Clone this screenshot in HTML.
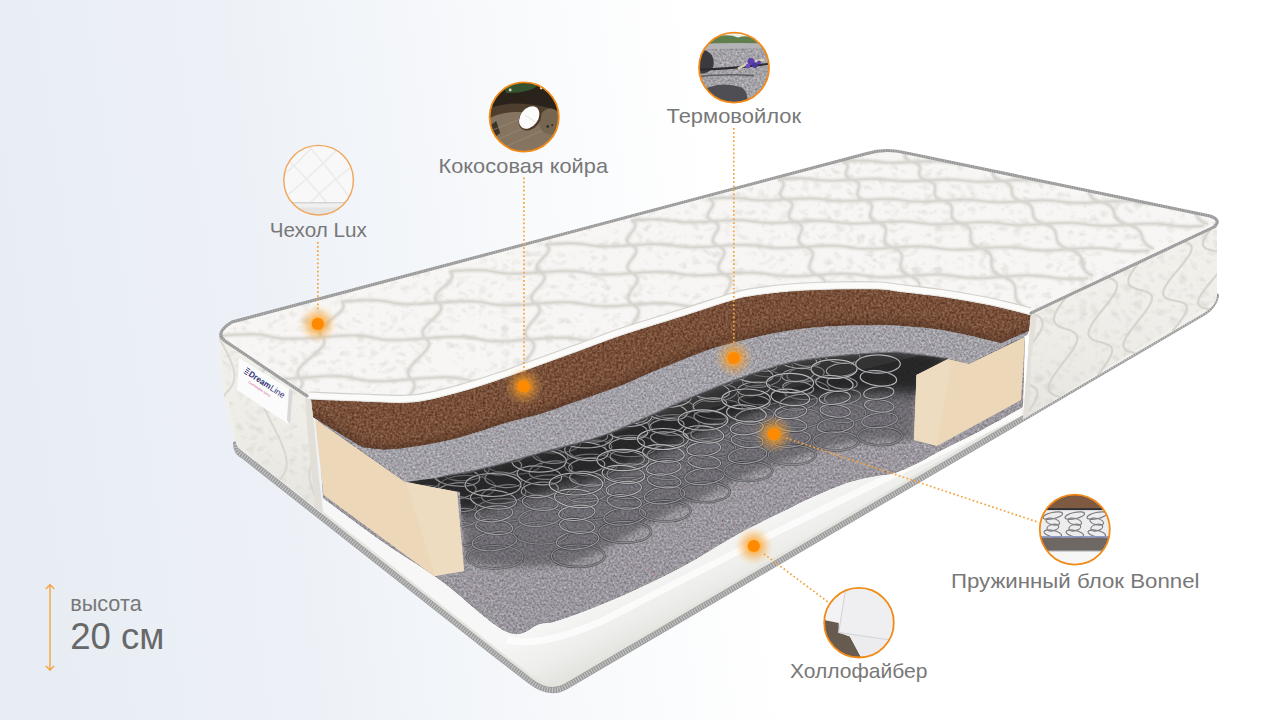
<!DOCTYPE html>
<html><head><meta charset="utf-8"><title>Матрас DreamLine</title>
<style>
html,body{margin:0;padding:0;width:1280px;height:720px;overflow:hidden;background:#fff;}
svg{display:block;font-family:"Liberation Sans",sans-serif;}
</style></head><body>
<svg width="1280" height="720" viewBox="0 0 1280 720">

<defs>
  <linearGradient id="bg" x1="0" y1="300" x2="720" y2="200" gradientUnits="userSpaceOnUse">
    <stop offset="0" stop-color="#e8edf4"/>
    <stop offset="0.35" stop-color="#edf1f7"/>
    <stop offset="0.7" stop-color="#f7f9fb"/>
    <stop offset="1" stop-color="#ffffff"/>
  </linearGradient>
  <radialGradient id="glow">
    <stop offset="0" stop-color="#ff9000" stop-opacity="1"/>
    <stop offset="0.3" stop-color="#ffa020" stop-opacity="0.72"/>
    <stop offset="0.6" stop-color="#f8a030" stop-opacity="0.35"/>
    <stop offset="0.85" stop-color="#ffb850" stop-opacity="0.1"/>
    <stop offset="1" stop-color="#ffc060" stop-opacity="0"/>
  </radialGradient>
  <linearGradient id="sprshade" gradientUnits="userSpaceOnUse" x1="689" y1="405" x2="714" y2="510">
    <stop offset="0" stop-color="#1e1e20" stop-opacity="0.95"/>
    <stop offset="0.45" stop-color="#2a2a2d" stop-opacity="0.75"/>
    <stop offset="1" stop-color="#3a3a3d" stop-opacity="0"/>
  </linearGradient>
  <linearGradient id="beigeL" x1="0" y1="0" x2="1" y2="1">
    <stop offset="0" stop-color="#f3e1c3"/>
    <stop offset="1" stop-color="#ead3ae"/>
  </linearGradient>
  <linearGradient id="whiteband" gradientUnits="userSpaceOnUse" x1="700" y1="540" x2="730" y2="600">
    <stop offset="0" stop-color="#f7f7f7"/>
    <stop offset="0.6" stop-color="#eeeeec"/>
    <stop offset="1" stop-color="#e2e2de"/>
  </linearGradient>
  <filter id="noiseBrown" x="0" y="0" width="100%" height="100%" color-interpolation-filters="sRGB">
    <feTurbulence type="fractalNoise" baseFrequency="0.42" numOctaves="3" seed="3" result="n"/>
    <feColorMatrix in="n" type="matrix" values="1 0 0 0 0  1 0 0 0 0  1 0 0 0 0  0 0 0 0 1" result="g"/>
    <feComposite in="SourceGraphic" in2="g" operator="arithmetic" k1="0" k2="1" k3="0.36" k4="-0.18" result="r"/>
    <feComposite in="r" in2="SourceGraphic" operator="in"/>
  </filter>
  <filter id="noiseFelt" x="0" y="0" width="100%" height="100%" color-interpolation-filters="sRGB">
    <feTurbulence type="fractalNoise" baseFrequency="0.45" numOctaves="3" seed="7" result="n"/>
    <feColorMatrix in="n" type="matrix" values="1 0 0 0 0  1 0 0 0 0  1 0 0 0 0  0 0 0 0 1" result="g"/>
    <feComposite in="SourceGraphic" in2="g" operator="arithmetic" k1="0" k2="1" k3="0.42" k4="-0.21" result="r"/>
    <feTurbulence type="fractalNoise" baseFrequency="0.35" numOctaves="2" seed="12" result="n2"/>
    <feColorMatrix in="n2" type="matrix" values="0 0 0 0 0.68  0 0 0 0 0.55  0 0 0 0 0.60  0 -8 0 0 2.6" result="pink"/>
    <feMerge result="m"><feMergeNode in="r"/><feMergeNode in="pink"/></feMerge>
    <feComposite in="m" in2="SourceGraphic" operator="in"/>
  </filter>
  <linearGradient id="panelshade" x1="0" y1="0" x2="0" y2="1">
    <stop offset="0" stop-color="#f6f5f2" stop-opacity="0"/>
    <stop offset="1" stop-color="#d8d6d0" stop-opacity="0.45"/>
  </linearGradient>
  <filter id="damask" x="0" y="0" width="100%" height="100%" color-interpolation-filters="sRGB">
    <feTurbulence type="turbulence" baseFrequency="0.09 0.12" numOctaves="2" seed="21" result="n"/>
    <feColorMatrix in="n" type="matrix" values="0 0 0 0 0.80  0 0 0 0 0.80  0 0 0 0 0.78  2.2 0 0 0 -0.55" result="c"/>
    <feComposite in="c" in2="SourceGraphic" operator="in"/>
  </filter>
</defs>

<rect width="1280" height="720" fill="url(#bg)"/>
<path d="M323.0,498.0 C332.5,505.0 360.5,526.3 380.0,540.0 C399.5,553.7 418.8,564.7 440.0,580.0 C461.2,595.3 490.3,624.7 507.0,632.0 C523.7,639.3 531.2,626.0 540.0,624.0 C548.8,622.0 547.2,624.3 560.0,620.0 C572.8,615.7 597.0,606.7 617.0,598.0 C637.0,589.3 659.5,578.8 680.0,568.0 C700.5,557.2 721.7,543.0 740.0,533.0 C758.3,523.0 777.5,514.2 790.0,508.0 C802.5,501.8 805.0,500.3 815.0,496.0 C825.0,491.7 839.7,485.3 850.0,482.0 C860.3,478.7 869.5,477.5 877.0,476.0 C884.5,474.5 887.8,475.3 895.0,473.0 C902.2,470.7 912.5,465.7 920.0,462.0 C927.5,458.3 930.0,456.2 940.0,451.0 C950.0,445.8 966.2,438.3 980.0,431.0 C993.8,423.7 1015.8,411.0 1023.0,407.0 L1024,418 L566,687 Q549.6,697 530,682 L492.5,653 L323.75,518 Z" fill="url(#whiteband)"/>
<clipPath id="wbclip"><path d="M323.0,498.0 C332.5,505.0 360.5,526.3 380.0,540.0 C399.5,553.7 418.8,564.7 440.0,580.0 C461.2,595.3 490.3,624.7 507.0,632.0 C523.7,639.3 531.2,626.0 540.0,624.0 C548.8,622.0 547.2,624.3 560.0,620.0 C572.8,615.7 597.0,606.7 617.0,598.0 C637.0,589.3 659.5,578.8 680.0,568.0 C700.5,557.2 721.7,543.0 740.0,533.0 C758.3,523.0 777.5,514.2 790.0,508.0 C802.5,501.8 805.0,500.3 815.0,496.0 C825.0,491.7 839.7,485.3 850.0,482.0 C860.3,478.7 869.5,477.5 877.0,476.0 C884.5,474.5 887.8,475.3 895.0,473.0 C902.2,470.7 912.5,465.7 920.0,462.0 C927.5,458.3 930.0,456.2 940.0,451.0 C950.0,445.8 966.2,438.3 980.0,431.0 C993.8,423.7 1015.8,411.0 1023.0,407.0 L1024,418 L566,687 Q549.6,697 530,682 L492.5,653 L323.75,518 Z"/></clipPath>
<g clip-path="url(#wbclip)"><path d="M236,447 Q236.5,455.5 243,458.5 L492.5,655 L530,684 Q549.6,699 566,689.3 L1204,315.5 Q1214,309 1216,299" transform="translate(0,-8)" fill="none" stroke="#e4e4df" stroke-width="3"/><path d="M507,640 Q540,648 600,622 L760,540 L1022,412" fill="none" stroke="#ffffff" stroke-width="7" opacity="0.7"/></g>
<path d="M323.0,498.0 C332.5,505.0 360.5,526.3 380.0,540.0 C399.5,553.7 418.8,564.7 440.0,580.0 C461.2,595.3 490.3,624.7 507.0,632.0 C523.7,639.3 531.2,626.0 540.0,624.0 C548.8,622.0 547.2,624.3 560.0,620.0 C572.8,615.7 597.0,606.7 617.0,598.0 C637.0,589.3 659.5,578.8 680.0,568.0 C700.5,557.2 721.7,543.0 740.0,533.0 C758.3,523.0 777.5,514.2 790.0,508.0 C802.5,501.8 805.0,500.3 815.0,496.0 C825.0,491.7 839.7,485.3 850.0,482.0 C860.3,478.7 869.5,477.5 877.0,476.0 C884.5,474.5 887.8,475.3 895.0,473.0 C902.2,470.7 912.5,465.7 920.0,462.0 C927.5,458.3 930.0,456.2 940.0,451.0 C950.0,445.8 966.2,438.3 980.0,431.0 C993.8,423.7 1015.8,411.0 1023.0,407.0 L1025,337 L913,357 L465,470 L318,420 Z" fill="#9a979e" filter="url(#noiseFelt)"/>
<path d="M236,447 Q236.5,455.5 243,458.5 L492.5,655 L530,684 Q549.6,699 566,689.3 L1204,315.5 Q1214,309 1216,299" transform="translate(0,-3)" fill="none" stroke="#9a9a9a" stroke-width="6" stroke-linecap="round" stroke-linejoin="round"/>
<path d="M236,447 Q236.5,455.5 243,458.5 L492.5,655 L530,684 Q549.6,699 566,689.3 L1204,315.5 Q1214,309 1216,299" transform="translate(0,-3)" fill="none" stroke="#d9d9d9" stroke-width="5" stroke-dasharray="1.1 1.5" opacity="0.7"/>
<filter id="blur3" x="-10%" y="-10%" width="120%" height="120%"><feGaussianBlur stdDeviation="3"/></filter>
<filter id="blur6" x="-10%" y="-10%" width="120%" height="120%"><feGaussianBlur stdDeviation="6"/></filter>
<clipPath id="sprclipA"><path d="M405,482 L442,477 C449.5,475.5 469.8,472.2 487.0,468.0 C504.2,463.8 526.2,457.2 545.0,452.0 C563.8,446.8 582.5,443.0 600.0,437.0 C617.5,431.0 633.3,423.2 650.0,416.0 C666.7,408.8 683.3,400.8 700.0,394.0 C716.7,387.2 735.0,380.2 750.0,375.0 C765.0,369.8 776.7,366.0 790.0,363.0 C803.3,360.0 817.5,358.5 830.0,357.0 C842.5,355.5 853.3,354.7 865.0,354.0 C876.7,353.3 886.2,352.2 900.0,353.0 C913.8,353.8 940.0,358.0 948.0,359.0 L916.5,375 L914,440 L820,490 L740,533 L680,568 L617,598 L560,620 L502,632 L466,600 L460,492 Z"/></clipPath>
<g clip-path="url(#sprclipA)"><path d="M405,482 L442,477 C449.5,475.5 469.8,472.2 487.0,468.0 C504.2,463.8 526.2,457.2 545.0,452.0 C563.8,446.8 582.5,443.0 600.0,437.0 C617.5,431.0 633.3,423.2 650.0,416.0 C666.7,408.8 683.3,400.8 700.0,394.0 C716.7,387.2 735.0,380.2 750.0,375.0 C765.0,369.8 776.7,366.0 790.0,363.0 C803.3,360.0 817.5,358.5 830.0,357.0 C842.5,355.5 853.3,354.7 865.0,354.0 C876.7,353.3 886.2,352.2 900.0,353.0 C913.8,353.8 940.0,358.0 948.0,359.0 L916.5,375 L914,440 C908.3,440.0 893.0,439.2 880.0,440.0 C867.0,440.8 850.7,441.8 836.0,445.0 C821.3,448.2 806.7,454.0 792.0,459.0 C777.3,464.0 762.5,468.8 748.0,475.0 C733.5,481.2 718.8,489.3 705.0,496.0 C691.2,502.7 678.3,508.2 665.0,515.0 C651.7,521.8 639.5,529.3 625.0,537.0 C610.5,544.7 592.2,556.2 578.0,561.0 C563.8,565.8 554.0,565.2 540.0,566.0 C526.0,566.8 506.3,567.0 494.0,566.0 C481.7,565.0 470.7,561.0 466.0,560.0 L460,492 Z" fill="#2e2e31" opacity="0.4" filter="url(#blur3)"/>
<path d="M405,470 L442,465 C449.5,467.5 469.8,464.2 487.0,460.0 C504.2,455.8 526.2,449.2 545.0,444.0 C563.8,438.8 582.5,435.0 600.0,429.0 C617.5,423.0 633.3,415.2 650.0,408.0 C666.7,400.8 683.3,392.8 700.0,386.0 C716.7,379.2 735.0,372.2 750.0,367.0 C765.0,361.8 776.7,358.0 790.0,355.0 C803.3,352.0 817.5,350.5 830.0,349.0 C842.5,347.5 853.3,346.7 865.0,346.0 C876.7,345.3 886.2,344.2 900.0,345.0 C913.8,345.8 940.0,350.0 948.0,351.0 L948.0,399.0 C940.0,398.0 913.8,393.8 900.0,393.0 C886.2,392.2 876.7,393.3 865.0,394.0 C853.3,394.7 842.5,395.5 830.0,397.0 C817.5,398.5 803.3,400.0 790.0,403.0 C776.7,406.0 765.0,409.8 750.0,415.0 C735.0,420.2 716.7,427.2 700.0,434.0 C683.3,440.8 666.7,448.8 650.0,456.0 C633.3,463.2 617.5,471.0 600.0,477.0 C582.5,483.0 563.8,486.8 545.0,492.0 C526.2,497.2 504.2,503.8 487.0,508.0 C469.8,512.2 455.7,514.7 442.0,517.0 C428.3,519.3 411.2,521.2 405.0,522.0 Z" fill="#141416" opacity="0.8" filter="url(#blur6)"/></g>
<clipPath id="sprclip"><path d="M405,482 L442,477 C449.5,475.5 469.8,472.2 487.0,468.0 C504.2,463.8 526.2,457.2 545.0,452.0 C563.8,446.8 582.5,443.0 600.0,437.0 C617.5,431.0 633.3,423.2 650.0,416.0 C666.7,408.8 683.3,400.8 700.0,394.0 C716.7,387.2 735.0,380.2 750.0,375.0 C765.0,369.8 776.7,366.0 790.0,363.0 C803.3,360.0 817.5,358.5 830.0,357.0 C842.5,355.5 853.3,354.7 865.0,354.0 C876.7,353.3 886.2,352.2 900.0,353.0 C913.8,353.8 940.0,358.0 948.0,359.0 L916.5,375 L914,440 L820,490 L740,533 L680,568 L617,598 L560,620 L502,632 L466,600 L460,492 Z"/></clipPath>
<g clip-path="url(#sprclip)">
<g opacity="0.45"><ellipse cx="384.0" cy="488.0" rx="29.6" ry="12.2" transform="rotate(0 384.0 488.0)" fill="none" stroke="#2a2a2d" stroke-width="2.5" opacity="0.55"/><ellipse cx="384.0" cy="488.0" rx="29.6" ry="12.2" transform="rotate(0 384.0 488.0)" fill="none" stroke="#8a8a8e" stroke-width="1.2"/><ellipse cx="383.6" cy="472.2" rx="23.7" ry="9.7" transform="rotate(-7 383.6 472.2)" fill="none" stroke="#2a2a2d" stroke-width="2.5" opacity="0.55"/><ellipse cx="383.6" cy="472.2" rx="23.7" ry="9.7" transform="rotate(-7 383.6 472.2)" fill="none" stroke="#9a9a9e" stroke-width="1.2"/><ellipse cx="383.2" cy="457.8" rx="19.6" ry="8.0" transform="rotate(6 383.2 457.8)" fill="none" stroke="#2a2a2d" stroke-width="2.5" opacity="0.55"/><ellipse cx="383.2" cy="457.8" rx="19.6" ry="8.0" transform="rotate(6 383.2 457.8)" fill="none" stroke="#a6a6aa" stroke-width="1.2"/><ellipse cx="382.8" cy="444.8" rx="20.2" ry="8.3" transform="rotate(-6 382.8 444.8)" fill="none" stroke="#2a2a2d" stroke-width="2.5" opacity="0.55"/><ellipse cx="382.8" cy="444.8" rx="20.2" ry="8.3" transform="rotate(-6 382.8 444.8)" fill="none" stroke="#aeaeb0" stroke-width="1.2"/><ellipse cx="382.4" cy="430.4" rx="24.3" ry="10.0" transform="rotate(6 382.4 430.4)" fill="none" stroke="#2a2a2d" stroke-width="2.5" opacity="0.55"/><ellipse cx="382.4" cy="430.4" rx="24.3" ry="10.0" transform="rotate(6 382.4 430.4)" fill="none" stroke="#b4b4b6" stroke-width="1.2"/><ellipse cx="382.0" cy="416.0" rx="29.6" ry="12.2" transform="rotate(0 382.0 416.0)" fill="none" stroke="#2a2a2d" stroke-width="2.5" opacity="0.55"/><ellipse cx="382.0" cy="416.0" rx="29.6" ry="12.2" transform="rotate(0 382.0 416.0)" fill="none" stroke="#b8b8ba" stroke-width="1.2"/></g>
<g opacity="0.45"><ellipse cx="430.0" cy="464.0" rx="29.0" ry="11.9" transform="rotate(0 430.0 464.0)" fill="none" stroke="#2a2a2d" stroke-width="2.5" opacity="0.55"/><ellipse cx="430.0" cy="464.0" rx="29.0" ry="11.9" transform="rotate(0 430.0 464.0)" fill="none" stroke="#8a8a8e" stroke-width="1.2"/><ellipse cx="429.6" cy="448.2" rx="23.2" ry="9.5" transform="rotate(-7 429.6 448.2)" fill="none" stroke="#2a2a2d" stroke-width="2.5" opacity="0.55"/><ellipse cx="429.6" cy="448.2" rx="23.2" ry="9.5" transform="rotate(-7 429.6 448.2)" fill="none" stroke="#9a9a9e" stroke-width="1.2"/><ellipse cx="429.2" cy="433.8" rx="19.1" ry="7.8" transform="rotate(6 429.2 433.8)" fill="none" stroke="#2a2a2d" stroke-width="2.5" opacity="0.55"/><ellipse cx="429.2" cy="433.8" rx="19.1" ry="7.8" transform="rotate(6 429.2 433.8)" fill="none" stroke="#a6a6aa" stroke-width="1.2"/><ellipse cx="428.8" cy="420.8" rx="19.7" ry="8.1" transform="rotate(-6 428.8 420.8)" fill="none" stroke="#2a2a2d" stroke-width="2.5" opacity="0.55"/><ellipse cx="428.8" cy="420.8" rx="19.7" ry="8.1" transform="rotate(-6 428.8 420.8)" fill="none" stroke="#aeaeb0" stroke-width="1.2"/><ellipse cx="428.4" cy="406.4" rx="23.7" ry="9.8" transform="rotate(6 428.4 406.4)" fill="none" stroke="#2a2a2d" stroke-width="2.5" opacity="0.55"/><ellipse cx="428.4" cy="406.4" rx="23.7" ry="9.8" transform="rotate(6 428.4 406.4)" fill="none" stroke="#b4b4b6" stroke-width="1.2"/><ellipse cx="428.0" cy="392.0" rx="29.0" ry="11.9" transform="rotate(0 428.0 392.0)" fill="none" stroke="#2a2a2d" stroke-width="2.5" opacity="0.55"/><ellipse cx="428.0" cy="392.0" rx="29.0" ry="11.9" transform="rotate(0 428.0 392.0)" fill="none" stroke="#b8b8ba" stroke-width="1.2"/></g>
<g opacity="0.45"><ellipse cx="477.0" cy="440.0" rx="28.3" ry="11.6" transform="rotate(0 477.0 440.0)" fill="none" stroke="#2a2a2d" stroke-width="2.5" opacity="0.55"/><ellipse cx="477.0" cy="440.0" rx="28.3" ry="11.6" transform="rotate(0 477.0 440.0)" fill="none" stroke="#8a8a8e" stroke-width="1.2"/><ellipse cx="476.6" cy="424.2" rx="22.6" ry="9.3" transform="rotate(-7 476.6 424.2)" fill="none" stroke="#2a2a2d" stroke-width="2.5" opacity="0.55"/><ellipse cx="476.6" cy="424.2" rx="22.6" ry="9.3" transform="rotate(-7 476.6 424.2)" fill="none" stroke="#9a9a9e" stroke-width="1.2"/><ellipse cx="476.2" cy="409.8" rx="18.7" ry="7.7" transform="rotate(6 476.2 409.8)" fill="none" stroke="#2a2a2d" stroke-width="2.5" opacity="0.55"/><ellipse cx="476.2" cy="409.8" rx="18.7" ry="7.7" transform="rotate(6 476.2 409.8)" fill="none" stroke="#a6a6aa" stroke-width="1.2"/><ellipse cx="475.8" cy="396.8" rx="19.2" ry="7.9" transform="rotate(-6 475.8 396.8)" fill="none" stroke="#2a2a2d" stroke-width="2.5" opacity="0.55"/><ellipse cx="475.8" cy="396.8" rx="19.2" ry="7.9" transform="rotate(-6 475.8 396.8)" fill="none" stroke="#aeaeb0" stroke-width="1.2"/><ellipse cx="475.4" cy="382.4" rx="23.2" ry="9.5" transform="rotate(6 475.4 382.4)" fill="none" stroke="#2a2a2d" stroke-width="2.5" opacity="0.55"/><ellipse cx="475.4" cy="382.4" rx="23.2" ry="9.5" transform="rotate(6 475.4 382.4)" fill="none" stroke="#b4b4b6" stroke-width="1.2"/><ellipse cx="475.0" cy="368.0" rx="28.3" ry="11.6" transform="rotate(0 475.0 368.0)" fill="none" stroke="#2a2a2d" stroke-width="2.5" opacity="0.55"/><ellipse cx="475.0" cy="368.0" rx="28.3" ry="11.6" transform="rotate(0 475.0 368.0)" fill="none" stroke="#b8b8ba" stroke-width="1.2"/></g>
<g opacity="0.45"><ellipse cx="517.0" cy="419.0" rx="27.7" ry="11.4" transform="rotate(0 517.0 419.0)" fill="none" stroke="#2a2a2d" stroke-width="2.5" opacity="0.55"/><ellipse cx="517.0" cy="419.0" rx="27.7" ry="11.4" transform="rotate(0 517.0 419.0)" fill="none" stroke="#8a8a8e" stroke-width="1.2"/><ellipse cx="516.6" cy="403.2" rx="22.1" ry="9.1" transform="rotate(-7 516.6 403.2)" fill="none" stroke="#2a2a2d" stroke-width="2.5" opacity="0.55"/><ellipse cx="516.6" cy="403.2" rx="22.1" ry="9.1" transform="rotate(-7 516.6 403.2)" fill="none" stroke="#9a9a9e" stroke-width="1.2"/><ellipse cx="516.2" cy="388.8" rx="18.3" ry="7.5" transform="rotate(6 516.2 388.8)" fill="none" stroke="#2a2a2d" stroke-width="2.5" opacity="0.55"/><ellipse cx="516.2" cy="388.8" rx="18.3" ry="7.5" transform="rotate(6 516.2 388.8)" fill="none" stroke="#a6a6aa" stroke-width="1.2"/><ellipse cx="515.8" cy="375.8" rx="18.8" ry="7.7" transform="rotate(-6 515.8 375.8)" fill="none" stroke="#2a2a2d" stroke-width="2.5" opacity="0.55"/><ellipse cx="515.8" cy="375.8" rx="18.8" ry="7.7" transform="rotate(-6 515.8 375.8)" fill="none" stroke="#aeaeb0" stroke-width="1.2"/><ellipse cx="515.4" cy="361.4" rx="22.7" ry="9.3" transform="rotate(6 515.4 361.4)" fill="none" stroke="#2a2a2d" stroke-width="2.5" opacity="0.55"/><ellipse cx="515.4" cy="361.4" rx="22.7" ry="9.3" transform="rotate(6 515.4 361.4)" fill="none" stroke="#b4b4b6" stroke-width="1.2"/><ellipse cx="515.0" cy="347.0" rx="27.7" ry="11.4" transform="rotate(0 515.0 347.0)" fill="none" stroke="#2a2a2d" stroke-width="2.5" opacity="0.55"/><ellipse cx="515.0" cy="347.0" rx="27.7" ry="11.4" transform="rotate(0 515.0 347.0)" fill="none" stroke="#b8b8ba" stroke-width="1.2"/></g>
<g opacity="0.45"><ellipse cx="557.0" cy="400.0" rx="27.1" ry="11.1" transform="rotate(0 557.0 400.0)" fill="none" stroke="#2a2a2d" stroke-width="2.5" opacity="0.55"/><ellipse cx="557.0" cy="400.0" rx="27.1" ry="11.1" transform="rotate(0 557.0 400.0)" fill="none" stroke="#8a8a8e" stroke-width="1.2"/><ellipse cx="556.6" cy="384.2" rx="21.7" ry="8.9" transform="rotate(-7 556.6 384.2)" fill="none" stroke="#2a2a2d" stroke-width="2.5" opacity="0.55"/><ellipse cx="556.6" cy="384.2" rx="21.7" ry="8.9" transform="rotate(-7 556.6 384.2)" fill="none" stroke="#9a9a9e" stroke-width="1.2"/><ellipse cx="556.2" cy="369.8" rx="17.9" ry="7.3" transform="rotate(6 556.2 369.8)" fill="none" stroke="#2a2a2d" stroke-width="2.5" opacity="0.55"/><ellipse cx="556.2" cy="369.8" rx="17.9" ry="7.3" transform="rotate(6 556.2 369.8)" fill="none" stroke="#a6a6aa" stroke-width="1.2"/><ellipse cx="555.8" cy="356.8" rx="18.4" ry="7.6" transform="rotate(-6 555.8 356.8)" fill="none" stroke="#2a2a2d" stroke-width="2.5" opacity="0.55"/><ellipse cx="555.8" cy="356.8" rx="18.4" ry="7.6" transform="rotate(-6 555.8 356.8)" fill="none" stroke="#aeaeb0" stroke-width="1.2"/><ellipse cx="555.4" cy="342.4" rx="22.2" ry="9.1" transform="rotate(6 555.4 342.4)" fill="none" stroke="#2a2a2d" stroke-width="2.5" opacity="0.55"/><ellipse cx="555.4" cy="342.4" rx="22.2" ry="9.1" transform="rotate(6 555.4 342.4)" fill="none" stroke="#b4b4b6" stroke-width="1.2"/><ellipse cx="555.0" cy="328.0" rx="27.1" ry="11.1" transform="rotate(0 555.0 328.0)" fill="none" stroke="#2a2a2d" stroke-width="2.5" opacity="0.55"/><ellipse cx="555.0" cy="328.0" rx="27.1" ry="11.1" transform="rotate(0 555.0 328.0)" fill="none" stroke="#b8b8ba" stroke-width="1.2"/></g>
<g opacity="0.45"><ellipse cx="600.0" cy="379.0" rx="26.5" ry="10.9" transform="rotate(0 600.0 379.0)" fill="none" stroke="#2a2a2d" stroke-width="2.5" opacity="0.55"/><ellipse cx="600.0" cy="379.0" rx="26.5" ry="10.9" transform="rotate(0 600.0 379.0)" fill="none" stroke="#8a8a8e" stroke-width="1.2"/><ellipse cx="599.6" cy="363.2" rx="21.2" ry="8.7" transform="rotate(-7 599.6 363.2)" fill="none" stroke="#2a2a2d" stroke-width="2.5" opacity="0.55"/><ellipse cx="599.6" cy="363.2" rx="21.2" ry="8.7" transform="rotate(-7 599.6 363.2)" fill="none" stroke="#9a9a9e" stroke-width="1.2"/><ellipse cx="599.2" cy="348.8" rx="17.5" ry="7.2" transform="rotate(6 599.2 348.8)" fill="none" stroke="#2a2a2d" stroke-width="2.5" opacity="0.55"/><ellipse cx="599.2" cy="348.8" rx="17.5" ry="7.2" transform="rotate(6 599.2 348.8)" fill="none" stroke="#a6a6aa" stroke-width="1.2"/><ellipse cx="598.8" cy="335.8" rx="18.0" ry="7.4" transform="rotate(-6 598.8 335.8)" fill="none" stroke="#2a2a2d" stroke-width="2.5" opacity="0.55"/><ellipse cx="598.8" cy="335.8" rx="18.0" ry="7.4" transform="rotate(-6 598.8 335.8)" fill="none" stroke="#aeaeb0" stroke-width="1.2"/><ellipse cx="598.4" cy="321.4" rx="21.7" ry="8.9" transform="rotate(6 598.4 321.4)" fill="none" stroke="#2a2a2d" stroke-width="2.5" opacity="0.55"/><ellipse cx="598.4" cy="321.4" rx="21.7" ry="8.9" transform="rotate(6 598.4 321.4)" fill="none" stroke="#b4b4b6" stroke-width="1.2"/><ellipse cx="598.0" cy="307.0" rx="26.5" ry="10.9" transform="rotate(0 598.0 307.0)" fill="none" stroke="#2a2a2d" stroke-width="2.5" opacity="0.55"/><ellipse cx="598.0" cy="307.0" rx="26.5" ry="10.9" transform="rotate(0 598.0 307.0)" fill="none" stroke="#b8b8ba" stroke-width="1.2"/></g>
<g opacity="0.45"><ellipse cx="644.0" cy="363.0" rx="25.8" ry="10.6" transform="rotate(0 644.0 363.0)" fill="none" stroke="#2a2a2d" stroke-width="2.5" opacity="0.55"/><ellipse cx="644.0" cy="363.0" rx="25.8" ry="10.6" transform="rotate(0 644.0 363.0)" fill="none" stroke="#8a8a8e" stroke-width="1.2"/><ellipse cx="643.6" cy="347.2" rx="20.6" ry="8.5" transform="rotate(-7 643.6 347.2)" fill="none" stroke="#2a2a2d" stroke-width="2.5" opacity="0.55"/><ellipse cx="643.6" cy="347.2" rx="20.6" ry="8.5" transform="rotate(-7 643.6 347.2)" fill="none" stroke="#9a9a9e" stroke-width="1.2"/><ellipse cx="643.2" cy="332.8" rx="17.0" ry="7.0" transform="rotate(6 643.2 332.8)" fill="none" stroke="#2a2a2d" stroke-width="2.5" opacity="0.55"/><ellipse cx="643.2" cy="332.8" rx="17.0" ry="7.0" transform="rotate(6 643.2 332.8)" fill="none" stroke="#a6a6aa" stroke-width="1.2"/><ellipse cx="642.8" cy="319.8" rx="17.5" ry="7.2" transform="rotate(-6 642.8 319.8)" fill="none" stroke="#2a2a2d" stroke-width="2.5" opacity="0.55"/><ellipse cx="642.8" cy="319.8" rx="17.5" ry="7.2" transform="rotate(-6 642.8 319.8)" fill="none" stroke="#aeaeb0" stroke-width="1.2"/><ellipse cx="642.4" cy="305.4" rx="21.2" ry="8.7" transform="rotate(6 642.4 305.4)" fill="none" stroke="#2a2a2d" stroke-width="2.5" opacity="0.55"/><ellipse cx="642.4" cy="305.4" rx="21.2" ry="8.7" transform="rotate(6 642.4 305.4)" fill="none" stroke="#b4b4b6" stroke-width="1.2"/><ellipse cx="642.0" cy="291.0" rx="25.8" ry="10.6" transform="rotate(0 642.0 291.0)" fill="none" stroke="#2a2a2d" stroke-width="2.5" opacity="0.55"/><ellipse cx="642.0" cy="291.0" rx="25.8" ry="10.6" transform="rotate(0 642.0 291.0)" fill="none" stroke="#b8b8ba" stroke-width="1.2"/></g>
<g opacity="0.45"><ellipse cx="688.0" cy="349.0" rx="25.2" ry="10.3" transform="rotate(0 688.0 349.0)" fill="none" stroke="#2a2a2d" stroke-width="2.5" opacity="0.55"/><ellipse cx="688.0" cy="349.0" rx="25.2" ry="10.3" transform="rotate(0 688.0 349.0)" fill="none" stroke="#8a8a8e" stroke-width="1.2"/><ellipse cx="687.6" cy="333.2" rx="20.1" ry="8.3" transform="rotate(-7 687.6 333.2)" fill="none" stroke="#2a2a2d" stroke-width="2.5" opacity="0.55"/><ellipse cx="687.6" cy="333.2" rx="20.1" ry="8.3" transform="rotate(-7 687.6 333.2)" fill="none" stroke="#9a9a9e" stroke-width="1.2"/><ellipse cx="687.2" cy="318.8" rx="16.6" ry="6.8" transform="rotate(6 687.2 318.8)" fill="none" stroke="#2a2a2d" stroke-width="2.5" opacity="0.55"/><ellipse cx="687.2" cy="318.8" rx="16.6" ry="6.8" transform="rotate(6 687.2 318.8)" fill="none" stroke="#a6a6aa" stroke-width="1.2"/><ellipse cx="686.8" cy="305.8" rx="17.1" ry="7.0" transform="rotate(-6 686.8 305.8)" fill="none" stroke="#2a2a2d" stroke-width="2.5" opacity="0.55"/><ellipse cx="686.8" cy="305.8" rx="17.1" ry="7.0" transform="rotate(-6 686.8 305.8)" fill="none" stroke="#aeaeb0" stroke-width="1.2"/><ellipse cx="686.4" cy="291.4" rx="20.6" ry="8.5" transform="rotate(6 686.4 291.4)" fill="none" stroke="#2a2a2d" stroke-width="2.5" opacity="0.55"/><ellipse cx="686.4" cy="291.4" rx="20.6" ry="8.5" transform="rotate(6 686.4 291.4)" fill="none" stroke="#b4b4b6" stroke-width="1.2"/><ellipse cx="686.0" cy="277.0" rx="25.2" ry="10.3" transform="rotate(0 686.0 277.0)" fill="none" stroke="#2a2a2d" stroke-width="2.5" opacity="0.55"/><ellipse cx="686.0" cy="277.0" rx="25.2" ry="10.3" transform="rotate(0 686.0 277.0)" fill="none" stroke="#b8b8ba" stroke-width="1.2"/></g>
<g opacity="0.45"><ellipse cx="732.0" cy="344.0" rx="24.5" ry="10.1" transform="rotate(0 732.0 344.0)" fill="none" stroke="#2a2a2d" stroke-width="2.5" opacity="0.55"/><ellipse cx="732.0" cy="344.0" rx="24.5" ry="10.1" transform="rotate(0 732.0 344.0)" fill="none" stroke="#8a8a8e" stroke-width="1.2"/><ellipse cx="731.6" cy="328.2" rx="19.6" ry="8.1" transform="rotate(-7 731.6 328.2)" fill="none" stroke="#2a2a2d" stroke-width="2.5" opacity="0.55"/><ellipse cx="731.6" cy="328.2" rx="19.6" ry="8.1" transform="rotate(-7 731.6 328.2)" fill="none" stroke="#9a9a9e" stroke-width="1.2"/><ellipse cx="731.2" cy="313.8" rx="16.2" ry="6.6" transform="rotate(6 731.2 313.8)" fill="none" stroke="#2a2a2d" stroke-width="2.5" opacity="0.55"/><ellipse cx="731.2" cy="313.8" rx="16.2" ry="6.6" transform="rotate(6 731.2 313.8)" fill="none" stroke="#a6a6aa" stroke-width="1.2"/><ellipse cx="730.8" cy="300.8" rx="16.7" ry="6.8" transform="rotate(-6 730.8 300.8)" fill="none" stroke="#2a2a2d" stroke-width="2.5" opacity="0.55"/><ellipse cx="730.8" cy="300.8" rx="16.7" ry="6.8" transform="rotate(-6 730.8 300.8)" fill="none" stroke="#aeaeb0" stroke-width="1.2"/><ellipse cx="730.4" cy="286.4" rx="20.1" ry="8.3" transform="rotate(6 730.4 286.4)" fill="none" stroke="#2a2a2d" stroke-width="2.5" opacity="0.55"/><ellipse cx="730.4" cy="286.4" rx="20.1" ry="8.3" transform="rotate(6 730.4 286.4)" fill="none" stroke="#b4b4b6" stroke-width="1.2"/><ellipse cx="730.0" cy="272.0" rx="24.5" ry="10.1" transform="rotate(0 730.0 272.0)" fill="none" stroke="#2a2a2d" stroke-width="2.5" opacity="0.55"/><ellipse cx="730.0" cy="272.0" rx="24.5" ry="10.1" transform="rotate(0 730.0 272.0)" fill="none" stroke="#b8b8ba" stroke-width="1.2"/></g>
<g opacity="0.55"><ellipse cx="421.0" cy="511.0" rx="29.1" ry="11.9" transform="rotate(0 421.0 511.0)" fill="none" stroke="#2a2a2d" stroke-width="2.5" opacity="0.55"/><ellipse cx="421.0" cy="511.0" rx="29.1" ry="11.9" transform="rotate(0 421.0 511.0)" fill="none" stroke="#8a8a8e" stroke-width="1.2"/><ellipse cx="420.6" cy="495.2" rx="23.3" ry="9.6" transform="rotate(-7 420.6 495.2)" fill="none" stroke="#2a2a2d" stroke-width="2.5" opacity="0.55"/><ellipse cx="420.6" cy="495.2" rx="23.3" ry="9.6" transform="rotate(-7 420.6 495.2)" fill="none" stroke="#9a9a9e" stroke-width="1.2"/><ellipse cx="420.2" cy="480.8" rx="19.2" ry="7.9" transform="rotate(6 420.2 480.8)" fill="none" stroke="#2a2a2d" stroke-width="2.5" opacity="0.55"/><ellipse cx="420.2" cy="480.8" rx="19.2" ry="7.9" transform="rotate(6 420.2 480.8)" fill="none" stroke="#a6a6aa" stroke-width="1.2"/><ellipse cx="419.8" cy="467.8" rx="19.8" ry="8.1" transform="rotate(-6 419.8 467.8)" fill="none" stroke="#2a2a2d" stroke-width="2.5" opacity="0.55"/><ellipse cx="419.8" cy="467.8" rx="19.8" ry="8.1" transform="rotate(-6 419.8 467.8)" fill="none" stroke="#aeaeb0" stroke-width="1.2"/><ellipse cx="419.4" cy="453.4" rx="23.9" ry="9.8" transform="rotate(6 419.4 453.4)" fill="none" stroke="#2a2a2d" stroke-width="2.5" opacity="0.55"/><ellipse cx="419.4" cy="453.4" rx="23.9" ry="9.8" transform="rotate(6 419.4 453.4)" fill="none" stroke="#b4b4b6" stroke-width="1.2"/><ellipse cx="419.0" cy="439.0" rx="29.1" ry="11.9" transform="rotate(0 419.0 439.0)" fill="none" stroke="#2a2a2d" stroke-width="2.5" opacity="0.55"/><ellipse cx="419.0" cy="439.0" rx="29.1" ry="11.9" transform="rotate(0 419.0 439.0)" fill="none" stroke="#b8b8ba" stroke-width="1.2"/></g>
<g opacity="0.55"><ellipse cx="467.0" cy="487.0" rx="28.4" ry="11.7" transform="rotate(0 467.0 487.0)" fill="none" stroke="#2a2a2d" stroke-width="2.5" opacity="0.55"/><ellipse cx="467.0" cy="487.0" rx="28.4" ry="11.7" transform="rotate(0 467.0 487.0)" fill="none" stroke="#8a8a8e" stroke-width="1.2"/><ellipse cx="466.6" cy="471.2" rx="22.7" ry="9.3" transform="rotate(-7 466.6 471.2)" fill="none" stroke="#2a2a2d" stroke-width="2.5" opacity="0.55"/><ellipse cx="466.6" cy="471.2" rx="22.7" ry="9.3" transform="rotate(-7 466.6 471.2)" fill="none" stroke="#9a9a9e" stroke-width="1.2"/><ellipse cx="466.2" cy="456.8" rx="18.8" ry="7.7" transform="rotate(6 466.2 456.8)" fill="none" stroke="#2a2a2d" stroke-width="2.5" opacity="0.55"/><ellipse cx="466.2" cy="456.8" rx="18.8" ry="7.7" transform="rotate(6 466.2 456.8)" fill="none" stroke="#a6a6aa" stroke-width="1.2"/><ellipse cx="465.8" cy="443.8" rx="19.3" ry="7.9" transform="rotate(-6 465.8 443.8)" fill="none" stroke="#2a2a2d" stroke-width="2.5" opacity="0.55"/><ellipse cx="465.8" cy="443.8" rx="19.3" ry="7.9" transform="rotate(-6 465.8 443.8)" fill="none" stroke="#aeaeb0" stroke-width="1.2"/><ellipse cx="465.4" cy="429.4" rx="23.3" ry="9.6" transform="rotate(6 465.4 429.4)" fill="none" stroke="#2a2a2d" stroke-width="2.5" opacity="0.55"/><ellipse cx="465.4" cy="429.4" rx="23.3" ry="9.6" transform="rotate(6 465.4 429.4)" fill="none" stroke="#b4b4b6" stroke-width="1.2"/><ellipse cx="465.0" cy="415.0" rx="28.4" ry="11.7" transform="rotate(0 465.0 415.0)" fill="none" stroke="#2a2a2d" stroke-width="2.5" opacity="0.55"/><ellipse cx="465.0" cy="415.0" rx="28.4" ry="11.7" transform="rotate(0 465.0 415.0)" fill="none" stroke="#b8b8ba" stroke-width="1.2"/></g>
<g opacity="0.55"><ellipse cx="514.0" cy="463.0" rx="27.7" ry="11.4" transform="rotate(0 514.0 463.0)" fill="none" stroke="#2a2a2d" stroke-width="2.5" opacity="0.55"/><ellipse cx="514.0" cy="463.0" rx="27.7" ry="11.4" transform="rotate(0 514.0 463.0)" fill="none" stroke="#8a8a8e" stroke-width="1.2"/><ellipse cx="513.6" cy="447.2" rx="22.2" ry="9.1" transform="rotate(-7 513.6 447.2)" fill="none" stroke="#2a2a2d" stroke-width="2.5" opacity="0.55"/><ellipse cx="513.6" cy="447.2" rx="22.2" ry="9.1" transform="rotate(-7 513.6 447.2)" fill="none" stroke="#9a9a9e" stroke-width="1.2"/><ellipse cx="513.2" cy="432.8" rx="18.3" ry="7.5" transform="rotate(6 513.2 432.8)" fill="none" stroke="#2a2a2d" stroke-width="2.5" opacity="0.55"/><ellipse cx="513.2" cy="432.8" rx="18.3" ry="7.5" transform="rotate(6 513.2 432.8)" fill="none" stroke="#a6a6aa" stroke-width="1.2"/><ellipse cx="512.8" cy="419.8" rx="18.8" ry="7.7" transform="rotate(-6 512.8 419.8)" fill="none" stroke="#2a2a2d" stroke-width="2.5" opacity="0.55"/><ellipse cx="512.8" cy="419.8" rx="18.8" ry="7.7" transform="rotate(-6 512.8 419.8)" fill="none" stroke="#aeaeb0" stroke-width="1.2"/><ellipse cx="512.4" cy="405.4" rx="22.7" ry="9.3" transform="rotate(6 512.4 405.4)" fill="none" stroke="#2a2a2d" stroke-width="2.5" opacity="0.55"/><ellipse cx="512.4" cy="405.4" rx="22.7" ry="9.3" transform="rotate(6 512.4 405.4)" fill="none" stroke="#b4b4b6" stroke-width="1.2"/><ellipse cx="512.0" cy="391.0" rx="27.7" ry="11.4" transform="rotate(0 512.0 391.0)" fill="none" stroke="#2a2a2d" stroke-width="2.5" opacity="0.55"/><ellipse cx="512.0" cy="391.0" rx="27.7" ry="11.4" transform="rotate(0 512.0 391.0)" fill="none" stroke="#b8b8ba" stroke-width="1.2"/></g>
<g opacity="0.55"><ellipse cx="554.0" cy="442.0" rx="27.1" ry="11.1" transform="rotate(0 554.0 442.0)" fill="none" stroke="#2a2a2d" stroke-width="2.5" opacity="0.55"/><ellipse cx="554.0" cy="442.0" rx="27.1" ry="11.1" transform="rotate(0 554.0 442.0)" fill="none" stroke="#8a8a8e" stroke-width="1.2"/><ellipse cx="553.6" cy="426.2" rx="21.7" ry="8.9" transform="rotate(-7 553.6 426.2)" fill="none" stroke="#2a2a2d" stroke-width="2.5" opacity="0.55"/><ellipse cx="553.6" cy="426.2" rx="21.7" ry="8.9" transform="rotate(-7 553.6 426.2)" fill="none" stroke="#9a9a9e" stroke-width="1.2"/><ellipse cx="553.2" cy="411.8" rx="17.9" ry="7.4" transform="rotate(6 553.2 411.8)" fill="none" stroke="#2a2a2d" stroke-width="2.5" opacity="0.55"/><ellipse cx="553.2" cy="411.8" rx="17.9" ry="7.4" transform="rotate(6 553.2 411.8)" fill="none" stroke="#a6a6aa" stroke-width="1.2"/><ellipse cx="552.8" cy="398.8" rx="18.4" ry="7.6" transform="rotate(-6 552.8 398.8)" fill="none" stroke="#2a2a2d" stroke-width="2.5" opacity="0.55"/><ellipse cx="552.8" cy="398.8" rx="18.4" ry="7.6" transform="rotate(-6 552.8 398.8)" fill="none" stroke="#aeaeb0" stroke-width="1.2"/><ellipse cx="552.4" cy="384.4" rx="22.2" ry="9.1" transform="rotate(6 552.4 384.4)" fill="none" stroke="#2a2a2d" stroke-width="2.5" opacity="0.55"/><ellipse cx="552.4" cy="384.4" rx="22.2" ry="9.1" transform="rotate(6 552.4 384.4)" fill="none" stroke="#b4b4b6" stroke-width="1.2"/><ellipse cx="552.0" cy="370.0" rx="27.1" ry="11.1" transform="rotate(0 552.0 370.0)" fill="none" stroke="#2a2a2d" stroke-width="2.5" opacity="0.55"/><ellipse cx="552.0" cy="370.0" rx="27.1" ry="11.1" transform="rotate(0 552.0 370.0)" fill="none" stroke="#b8b8ba" stroke-width="1.2"/></g>
<g opacity="0.55"><ellipse cx="594.0" cy="423.0" rx="26.5" ry="10.9" transform="rotate(0 594.0 423.0)" fill="none" stroke="#2a2a2d" stroke-width="2.5" opacity="0.55"/><ellipse cx="594.0" cy="423.0" rx="26.5" ry="10.9" transform="rotate(0 594.0 423.0)" fill="none" stroke="#8a8a8e" stroke-width="1.2"/><ellipse cx="593.6" cy="407.2" rx="21.2" ry="8.7" transform="rotate(-7 593.6 407.2)" fill="none" stroke="#2a2a2d" stroke-width="2.5" opacity="0.55"/><ellipse cx="593.6" cy="407.2" rx="21.2" ry="8.7" transform="rotate(-7 593.6 407.2)" fill="none" stroke="#9a9a9e" stroke-width="1.2"/><ellipse cx="593.2" cy="392.8" rx="17.5" ry="7.2" transform="rotate(6 593.2 392.8)" fill="none" stroke="#2a2a2d" stroke-width="2.5" opacity="0.55"/><ellipse cx="593.2" cy="392.8" rx="17.5" ry="7.2" transform="rotate(6 593.2 392.8)" fill="none" stroke="#a6a6aa" stroke-width="1.2"/><ellipse cx="592.8" cy="379.8" rx="18.0" ry="7.4" transform="rotate(-6 592.8 379.8)" fill="none" stroke="#2a2a2d" stroke-width="2.5" opacity="0.55"/><ellipse cx="592.8" cy="379.8" rx="18.0" ry="7.4" transform="rotate(-6 592.8 379.8)" fill="none" stroke="#aeaeb0" stroke-width="1.2"/><ellipse cx="592.4" cy="365.4" rx="21.8" ry="8.9" transform="rotate(6 592.4 365.4)" fill="none" stroke="#2a2a2d" stroke-width="2.5" opacity="0.55"/><ellipse cx="592.4" cy="365.4" rx="21.8" ry="8.9" transform="rotate(6 592.4 365.4)" fill="none" stroke="#b4b4b6" stroke-width="1.2"/><ellipse cx="592.0" cy="351.0" rx="26.5" ry="10.9" transform="rotate(0 592.0 351.0)" fill="none" stroke="#2a2a2d" stroke-width="2.5" opacity="0.55"/><ellipse cx="592.0" cy="351.0" rx="26.5" ry="10.9" transform="rotate(0 592.0 351.0)" fill="none" stroke="#b8b8ba" stroke-width="1.2"/></g>
<g opacity="0.55"><ellipse cx="637.0" cy="402.0" rx="25.9" ry="10.6" transform="rotate(0 637.0 402.0)" fill="none" stroke="#2a2a2d" stroke-width="2.5" opacity="0.55"/><ellipse cx="637.0" cy="402.0" rx="25.9" ry="10.6" transform="rotate(0 637.0 402.0)" fill="none" stroke="#8a8a8e" stroke-width="1.2"/><ellipse cx="636.6" cy="386.2" rx="20.7" ry="8.5" transform="rotate(-7 636.6 386.2)" fill="none" stroke="#2a2a2d" stroke-width="2.5" opacity="0.55"/><ellipse cx="636.6" cy="386.2" rx="20.7" ry="8.5" transform="rotate(-7 636.6 386.2)" fill="none" stroke="#9a9a9e" stroke-width="1.2"/><ellipse cx="636.2" cy="371.8" rx="17.1" ry="7.0" transform="rotate(6 636.2 371.8)" fill="none" stroke="#2a2a2d" stroke-width="2.5" opacity="0.55"/><ellipse cx="636.2" cy="371.8" rx="17.1" ry="7.0" transform="rotate(6 636.2 371.8)" fill="none" stroke="#a6a6aa" stroke-width="1.2"/><ellipse cx="635.8" cy="358.8" rx="17.6" ry="7.2" transform="rotate(-6 635.8 358.8)" fill="none" stroke="#2a2a2d" stroke-width="2.5" opacity="0.55"/><ellipse cx="635.8" cy="358.8" rx="17.6" ry="7.2" transform="rotate(-6 635.8 358.8)" fill="none" stroke="#aeaeb0" stroke-width="1.2"/><ellipse cx="635.4" cy="344.4" rx="21.2" ry="8.7" transform="rotate(6 635.4 344.4)" fill="none" stroke="#2a2a2d" stroke-width="2.5" opacity="0.55"/><ellipse cx="635.4" cy="344.4" rx="21.2" ry="8.7" transform="rotate(6 635.4 344.4)" fill="none" stroke="#b4b4b6" stroke-width="1.2"/><ellipse cx="635.0" cy="330.0" rx="25.9" ry="10.6" transform="rotate(0 635.0 330.0)" fill="none" stroke="#2a2a2d" stroke-width="2.5" opacity="0.55"/><ellipse cx="635.0" cy="330.0" rx="25.9" ry="10.6" transform="rotate(0 635.0 330.0)" fill="none" stroke="#b8b8ba" stroke-width="1.2"/></g>
<g opacity="0.55"><ellipse cx="681.0" cy="386.0" rx="25.3" ry="10.4" transform="rotate(0 681.0 386.0)" fill="none" stroke="#2a2a2d" stroke-width="2.5" opacity="0.55"/><ellipse cx="681.0" cy="386.0" rx="25.3" ry="10.4" transform="rotate(0 681.0 386.0)" fill="none" stroke="#8a8a8e" stroke-width="1.2"/><ellipse cx="680.6" cy="370.2" rx="20.2" ry="8.3" transform="rotate(-7 680.6 370.2)" fill="none" stroke="#2a2a2d" stroke-width="2.5" opacity="0.55"/><ellipse cx="680.6" cy="370.2" rx="20.2" ry="8.3" transform="rotate(-7 680.6 370.2)" fill="none" stroke="#9a9a9e" stroke-width="1.2"/><ellipse cx="680.2" cy="355.8" rx="16.7" ry="6.8" transform="rotate(6 680.2 355.8)" fill="none" stroke="#2a2a2d" stroke-width="2.5" opacity="0.55"/><ellipse cx="680.2" cy="355.8" rx="16.7" ry="6.8" transform="rotate(6 680.2 355.8)" fill="none" stroke="#a6a6aa" stroke-width="1.2"/><ellipse cx="679.8" cy="342.8" rx="17.2" ry="7.1" transform="rotate(-6 679.8 342.8)" fill="none" stroke="#2a2a2d" stroke-width="2.5" opacity="0.55"/><ellipse cx="679.8" cy="342.8" rx="17.2" ry="7.1" transform="rotate(-6 679.8 342.8)" fill="none" stroke="#aeaeb0" stroke-width="1.2"/><ellipse cx="679.4" cy="328.4" rx="20.7" ry="8.5" transform="rotate(6 679.4 328.4)" fill="none" stroke="#2a2a2d" stroke-width="2.5" opacity="0.55"/><ellipse cx="679.4" cy="328.4" rx="20.7" ry="8.5" transform="rotate(6 679.4 328.4)" fill="none" stroke="#b4b4b6" stroke-width="1.2"/><ellipse cx="679.0" cy="314.0" rx="25.3" ry="10.4" transform="rotate(0 679.0 314.0)" fill="none" stroke="#2a2a2d" stroke-width="2.5" opacity="0.55"/><ellipse cx="679.0" cy="314.0" rx="25.3" ry="10.4" transform="rotate(0 679.0 314.0)" fill="none" stroke="#b8b8ba" stroke-width="1.2"/></g>
<g opacity="0.55"><ellipse cx="725.0" cy="372.0" rx="24.6" ry="10.1" transform="rotate(0 725.0 372.0)" fill="none" stroke="#2a2a2d" stroke-width="2.5" opacity="0.55"/><ellipse cx="725.0" cy="372.0" rx="24.6" ry="10.1" transform="rotate(0 725.0 372.0)" fill="none" stroke="#8a8a8e" stroke-width="1.2"/><ellipse cx="724.6" cy="356.2" rx="19.7" ry="8.1" transform="rotate(-7 724.6 356.2)" fill="none" stroke="#2a2a2d" stroke-width="2.5" opacity="0.55"/><ellipse cx="724.6" cy="356.2" rx="19.7" ry="8.1" transform="rotate(-7 724.6 356.2)" fill="none" stroke="#9a9a9e" stroke-width="1.2"/><ellipse cx="724.2" cy="341.8" rx="16.2" ry="6.7" transform="rotate(6 724.2 341.8)" fill="none" stroke="#2a2a2d" stroke-width="2.5" opacity="0.55"/><ellipse cx="724.2" cy="341.8" rx="16.2" ry="6.7" transform="rotate(6 724.2 341.8)" fill="none" stroke="#a6a6aa" stroke-width="1.2"/><ellipse cx="723.8" cy="328.8" rx="16.7" ry="6.9" transform="rotate(-6 723.8 328.8)" fill="none" stroke="#2a2a2d" stroke-width="2.5" opacity="0.55"/><ellipse cx="723.8" cy="328.8" rx="16.7" ry="6.9" transform="rotate(-6 723.8 328.8)" fill="none" stroke="#aeaeb0" stroke-width="1.2"/><ellipse cx="723.4" cy="314.4" rx="20.2" ry="8.3" transform="rotate(6 723.4 314.4)" fill="none" stroke="#2a2a2d" stroke-width="2.5" opacity="0.55"/><ellipse cx="723.4" cy="314.4" rx="20.2" ry="8.3" transform="rotate(6 723.4 314.4)" fill="none" stroke="#b4b4b6" stroke-width="1.2"/><ellipse cx="723.0" cy="300.0" rx="24.6" ry="10.1" transform="rotate(0 723.0 300.0)" fill="none" stroke="#2a2a2d" stroke-width="2.5" opacity="0.55"/><ellipse cx="723.0" cy="300.0" rx="24.6" ry="10.1" transform="rotate(0 723.0 300.0)" fill="none" stroke="#b8b8ba" stroke-width="1.2"/></g>
<g opacity="0.55"><ellipse cx="769.0" cy="367.0" rx="24.0" ry="9.8" transform="rotate(0 769.0 367.0)" fill="none" stroke="#2a2a2d" stroke-width="2.5" opacity="0.55"/><ellipse cx="769.0" cy="367.0" rx="24.0" ry="9.8" transform="rotate(0 769.0 367.0)" fill="none" stroke="#8a8a8e" stroke-width="1.2"/><ellipse cx="768.6" cy="351.2" rx="19.2" ry="7.9" transform="rotate(-7 768.6 351.2)" fill="none" stroke="#2a2a2d" stroke-width="2.5" opacity="0.55"/><ellipse cx="768.6" cy="351.2" rx="19.2" ry="7.9" transform="rotate(-7 768.6 351.2)" fill="none" stroke="#9a9a9e" stroke-width="1.2"/><ellipse cx="768.2" cy="336.8" rx="15.8" ry="6.5" transform="rotate(6 768.2 336.8)" fill="none" stroke="#2a2a2d" stroke-width="2.5" opacity="0.55"/><ellipse cx="768.2" cy="336.8" rx="15.8" ry="6.5" transform="rotate(6 768.2 336.8)" fill="none" stroke="#a6a6aa" stroke-width="1.2"/><ellipse cx="767.8" cy="323.8" rx="16.3" ry="6.7" transform="rotate(-6 767.8 323.8)" fill="none" stroke="#2a2a2d" stroke-width="2.5" opacity="0.55"/><ellipse cx="767.8" cy="323.8" rx="16.3" ry="6.7" transform="rotate(-6 767.8 323.8)" fill="none" stroke="#aeaeb0" stroke-width="1.2"/><ellipse cx="767.4" cy="309.4" rx="19.6" ry="8.1" transform="rotate(6 767.4 309.4)" fill="none" stroke="#2a2a2d" stroke-width="2.5" opacity="0.55"/><ellipse cx="767.4" cy="309.4" rx="19.6" ry="8.1" transform="rotate(6 767.4 309.4)" fill="none" stroke="#b4b4b6" stroke-width="1.2"/><ellipse cx="767.0" cy="295.0" rx="24.0" ry="9.8" transform="rotate(0 767.0 295.0)" fill="none" stroke="#2a2a2d" stroke-width="2.5" opacity="0.55"/><ellipse cx="767.0" cy="295.0" rx="24.0" ry="9.8" transform="rotate(0 767.0 295.0)" fill="none" stroke="#b8b8ba" stroke-width="1.2"/></g>
<g opacity="0.7"><ellipse cx="458.0" cy="534.0" rx="28.5" ry="11.7" transform="rotate(0 458.0 534.0)" fill="none" stroke="#2a2a2d" stroke-width="2.5" opacity="0.55"/><ellipse cx="458.0" cy="534.0" rx="28.5" ry="11.7" transform="rotate(0 458.0 534.0)" fill="none" stroke="#8a8a8e" stroke-width="1.2"/><ellipse cx="457.6" cy="518.2" rx="22.8" ry="9.4" transform="rotate(-7 457.6 518.2)" fill="none" stroke="#2a2a2d" stroke-width="2.5" opacity="0.55"/><ellipse cx="457.6" cy="518.2" rx="22.8" ry="9.4" transform="rotate(-7 457.6 518.2)" fill="none" stroke="#9a9a9e" stroke-width="1.2"/><ellipse cx="457.2" cy="503.8" rx="18.8" ry="7.7" transform="rotate(6 457.2 503.8)" fill="none" stroke="#2a2a2d" stroke-width="2.5" opacity="0.55"/><ellipse cx="457.2" cy="503.8" rx="18.8" ry="7.7" transform="rotate(6 457.2 503.8)" fill="none" stroke="#a6a6aa" stroke-width="1.2"/><ellipse cx="456.8" cy="490.8" rx="19.4" ry="8.0" transform="rotate(-6 456.8 490.8)" fill="none" stroke="#2a2a2d" stroke-width="2.5" opacity="0.55"/><ellipse cx="456.8" cy="490.8" rx="19.4" ry="8.0" transform="rotate(-6 456.8 490.8)" fill="none" stroke="#aeaeb0" stroke-width="1.2"/><ellipse cx="456.4" cy="476.4" rx="23.4" ry="9.6" transform="rotate(6 456.4 476.4)" fill="none" stroke="#2a2a2d" stroke-width="2.5" opacity="0.55"/><ellipse cx="456.4" cy="476.4" rx="23.4" ry="9.6" transform="rotate(6 456.4 476.4)" fill="none" stroke="#b4b4b6" stroke-width="1.2"/><ellipse cx="456.0" cy="462.0" rx="28.5" ry="11.7" transform="rotate(0 456.0 462.0)" fill="none" stroke="#2a2a2d" stroke-width="2.5" opacity="0.55"/><ellipse cx="456.0" cy="462.0" rx="28.5" ry="11.7" transform="rotate(0 456.0 462.0)" fill="none" stroke="#b8b8ba" stroke-width="1.2"/></g>
<g opacity="0.7"><ellipse cx="504.0" cy="510.0" rx="27.9" ry="11.4" transform="rotate(0 504.0 510.0)" fill="none" stroke="#2a2a2d" stroke-width="2.5" opacity="0.55"/><ellipse cx="504.0" cy="510.0" rx="27.9" ry="11.4" transform="rotate(0 504.0 510.0)" fill="none" stroke="#8a8a8e" stroke-width="1.2"/><ellipse cx="503.6" cy="494.2" rx="22.3" ry="9.2" transform="rotate(-7 503.6 494.2)" fill="none" stroke="#2a2a2d" stroke-width="2.5" opacity="0.55"/><ellipse cx="503.6" cy="494.2" rx="22.3" ry="9.2" transform="rotate(-7 503.6 494.2)" fill="none" stroke="#9a9a9e" stroke-width="1.2"/><ellipse cx="503.2" cy="479.8" rx="18.4" ry="7.6" transform="rotate(6 503.2 479.8)" fill="none" stroke="#2a2a2d" stroke-width="2.5" opacity="0.55"/><ellipse cx="503.2" cy="479.8" rx="18.4" ry="7.6" transform="rotate(6 503.2 479.8)" fill="none" stroke="#a6a6aa" stroke-width="1.2"/><ellipse cx="502.8" cy="466.8" rx="18.9" ry="7.8" transform="rotate(-6 502.8 466.8)" fill="none" stroke="#2a2a2d" stroke-width="2.5" opacity="0.55"/><ellipse cx="502.8" cy="466.8" rx="18.9" ry="7.8" transform="rotate(-6 502.8 466.8)" fill="none" stroke="#aeaeb0" stroke-width="1.2"/><ellipse cx="502.4" cy="452.4" rx="22.9" ry="9.4" transform="rotate(6 502.4 452.4)" fill="none" stroke="#2a2a2d" stroke-width="2.5" opacity="0.55"/><ellipse cx="502.4" cy="452.4" rx="22.9" ry="9.4" transform="rotate(6 502.4 452.4)" fill="none" stroke="#b4b4b6" stroke-width="1.2"/><ellipse cx="502.0" cy="438.0" rx="27.9" ry="11.4" transform="rotate(0 502.0 438.0)" fill="none" stroke="#2a2a2d" stroke-width="2.5" opacity="0.55"/><ellipse cx="502.0" cy="438.0" rx="27.9" ry="11.4" transform="rotate(0 502.0 438.0)" fill="none" stroke="#b8b8ba" stroke-width="1.2"/></g>
<g opacity="0.7"><ellipse cx="551.0" cy="486.0" rx="27.2" ry="11.2" transform="rotate(0 551.0 486.0)" fill="none" stroke="#2a2a2d" stroke-width="2.5" opacity="0.55"/><ellipse cx="551.0" cy="486.0" rx="27.2" ry="11.2" transform="rotate(0 551.0 486.0)" fill="none" stroke="#8a8a8e" stroke-width="1.2"/><ellipse cx="550.6" cy="470.2" rx="21.7" ry="8.9" transform="rotate(-7 550.6 470.2)" fill="none" stroke="#2a2a2d" stroke-width="2.5" opacity="0.55"/><ellipse cx="550.6" cy="470.2" rx="21.7" ry="8.9" transform="rotate(-7 550.6 470.2)" fill="none" stroke="#9a9a9e" stroke-width="1.2"/><ellipse cx="550.2" cy="455.8" rx="17.9" ry="7.4" transform="rotate(6 550.2 455.8)" fill="none" stroke="#2a2a2d" stroke-width="2.5" opacity="0.55"/><ellipse cx="550.2" cy="455.8" rx="17.9" ry="7.4" transform="rotate(6 550.2 455.8)" fill="none" stroke="#a6a6aa" stroke-width="1.2"/><ellipse cx="549.8" cy="442.8" rx="18.5" ry="7.6" transform="rotate(-6 549.8 442.8)" fill="none" stroke="#2a2a2d" stroke-width="2.5" opacity="0.55"/><ellipse cx="549.8" cy="442.8" rx="18.5" ry="7.6" transform="rotate(-6 549.8 442.8)" fill="none" stroke="#aeaeb0" stroke-width="1.2"/><ellipse cx="549.4" cy="428.4" rx="22.3" ry="9.2" transform="rotate(6 549.4 428.4)" fill="none" stroke="#2a2a2d" stroke-width="2.5" opacity="0.55"/><ellipse cx="549.4" cy="428.4" rx="22.3" ry="9.2" transform="rotate(6 549.4 428.4)" fill="none" stroke="#b4b4b6" stroke-width="1.2"/><ellipse cx="549.0" cy="414.0" rx="27.2" ry="11.2" transform="rotate(0 549.0 414.0)" fill="none" stroke="#2a2a2d" stroke-width="2.5" opacity="0.55"/><ellipse cx="549.0" cy="414.0" rx="27.2" ry="11.2" transform="rotate(0 549.0 414.0)" fill="none" stroke="#b8b8ba" stroke-width="1.2"/></g>
<g opacity="0.7"><ellipse cx="591.0" cy="465.0" rx="26.6" ry="10.9" transform="rotate(0 591.0 465.0)" fill="none" stroke="#2a2a2d" stroke-width="2.5" opacity="0.55"/><ellipse cx="591.0" cy="465.0" rx="26.6" ry="10.9" transform="rotate(0 591.0 465.0)" fill="none" stroke="#8a8a8e" stroke-width="1.2"/><ellipse cx="590.6" cy="449.2" rx="21.3" ry="8.7" transform="rotate(-7 590.6 449.2)" fill="none" stroke="#2a2a2d" stroke-width="2.5" opacity="0.55"/><ellipse cx="590.6" cy="449.2" rx="21.3" ry="8.7" transform="rotate(-7 590.6 449.2)" fill="none" stroke="#9a9a9e" stroke-width="1.2"/><ellipse cx="590.2" cy="434.8" rx="17.5" ry="7.2" transform="rotate(6 590.2 434.8)" fill="none" stroke="#2a2a2d" stroke-width="2.5" opacity="0.55"/><ellipse cx="590.2" cy="434.8" rx="17.5" ry="7.2" transform="rotate(6 590.2 434.8)" fill="none" stroke="#a6a6aa" stroke-width="1.2"/><ellipse cx="589.8" cy="421.8" rx="18.1" ry="7.4" transform="rotate(-6 589.8 421.8)" fill="none" stroke="#2a2a2d" stroke-width="2.5" opacity="0.55"/><ellipse cx="589.8" cy="421.8" rx="18.1" ry="7.4" transform="rotate(-6 589.8 421.8)" fill="none" stroke="#aeaeb0" stroke-width="1.2"/><ellipse cx="589.4" cy="407.4" rx="21.8" ry="9.0" transform="rotate(6 589.4 407.4)" fill="none" stroke="#2a2a2d" stroke-width="2.5" opacity="0.55"/><ellipse cx="589.4" cy="407.4" rx="21.8" ry="9.0" transform="rotate(6 589.4 407.4)" fill="none" stroke="#b4b4b6" stroke-width="1.2"/><ellipse cx="589.0" cy="393.0" rx="26.6" ry="10.9" transform="rotate(0 589.0 393.0)" fill="none" stroke="#2a2a2d" stroke-width="2.5" opacity="0.55"/><ellipse cx="589.0" cy="393.0" rx="26.6" ry="10.9" transform="rotate(0 589.0 393.0)" fill="none" stroke="#b8b8ba" stroke-width="1.2"/></g>
<g opacity="0.7"><ellipse cx="631.0" cy="446.0" rx="26.0" ry="10.7" transform="rotate(0 631.0 446.0)" fill="none" stroke="#2a2a2d" stroke-width="2.5" opacity="0.55"/><ellipse cx="631.0" cy="446.0" rx="26.0" ry="10.7" transform="rotate(0 631.0 446.0)" fill="none" stroke="#8a8a8e" stroke-width="1.2"/><ellipse cx="630.6" cy="430.2" rx="20.8" ry="8.5" transform="rotate(-7 630.6 430.2)" fill="none" stroke="#2a2a2d" stroke-width="2.5" opacity="0.55"/><ellipse cx="630.6" cy="430.2" rx="20.8" ry="8.5" transform="rotate(-7 630.6 430.2)" fill="none" stroke="#9a9a9e" stroke-width="1.2"/><ellipse cx="630.2" cy="415.8" rx="17.2" ry="7.0" transform="rotate(6 630.2 415.8)" fill="none" stroke="#2a2a2d" stroke-width="2.5" opacity="0.55"/><ellipse cx="630.2" cy="415.8" rx="17.2" ry="7.0" transform="rotate(6 630.2 415.8)" fill="none" stroke="#a6a6aa" stroke-width="1.2"/><ellipse cx="629.8" cy="402.8" rx="17.7" ry="7.3" transform="rotate(-6 629.8 402.8)" fill="none" stroke="#2a2a2d" stroke-width="2.5" opacity="0.55"/><ellipse cx="629.8" cy="402.8" rx="17.7" ry="7.3" transform="rotate(-6 629.8 402.8)" fill="none" stroke="#aeaeb0" stroke-width="1.2"/><ellipse cx="629.4" cy="388.4" rx="21.3" ry="8.8" transform="rotate(6 629.4 388.4)" fill="none" stroke="#2a2a2d" stroke-width="2.5" opacity="0.55"/><ellipse cx="629.4" cy="388.4" rx="21.3" ry="8.8" transform="rotate(6 629.4 388.4)" fill="none" stroke="#b4b4b6" stroke-width="1.2"/><ellipse cx="629.0" cy="374.0" rx="26.0" ry="10.7" transform="rotate(0 629.0 374.0)" fill="none" stroke="#2a2a2d" stroke-width="2.5" opacity="0.55"/><ellipse cx="629.0" cy="374.0" rx="26.0" ry="10.7" transform="rotate(0 629.0 374.0)" fill="none" stroke="#b8b8ba" stroke-width="1.2"/></g>
<g opacity="0.7"><ellipse cx="674.0" cy="425.0" rx="25.4" ry="10.4" transform="rotate(0 674.0 425.0)" fill="none" stroke="#2a2a2d" stroke-width="2.5" opacity="0.55"/><ellipse cx="674.0" cy="425.0" rx="25.4" ry="10.4" transform="rotate(0 674.0 425.0)" fill="none" stroke="#8a8a8e" stroke-width="1.2"/><ellipse cx="673.6" cy="409.2" rx="20.3" ry="8.3" transform="rotate(-7 673.6 409.2)" fill="none" stroke="#2a2a2d" stroke-width="2.5" opacity="0.55"/><ellipse cx="673.6" cy="409.2" rx="20.3" ry="8.3" transform="rotate(-7 673.6 409.2)" fill="none" stroke="#9a9a9e" stroke-width="1.2"/><ellipse cx="673.2" cy="394.8" rx="16.7" ry="6.9" transform="rotate(6 673.2 394.8)" fill="none" stroke="#2a2a2d" stroke-width="2.5" opacity="0.55"/><ellipse cx="673.2" cy="394.8" rx="16.7" ry="6.9" transform="rotate(6 673.2 394.8)" fill="none" stroke="#a6a6aa" stroke-width="1.2"/><ellipse cx="672.8" cy="381.8" rx="17.2" ry="7.1" transform="rotate(-6 672.8 381.8)" fill="none" stroke="#2a2a2d" stroke-width="2.5" opacity="0.55"/><ellipse cx="672.8" cy="381.8" rx="17.2" ry="7.1" transform="rotate(-6 672.8 381.8)" fill="none" stroke="#aeaeb0" stroke-width="1.2"/><ellipse cx="672.4" cy="367.4" rx="20.8" ry="8.5" transform="rotate(6 672.4 367.4)" fill="none" stroke="#2a2a2d" stroke-width="2.5" opacity="0.55"/><ellipse cx="672.4" cy="367.4" rx="20.8" ry="8.5" transform="rotate(6 672.4 367.4)" fill="none" stroke="#b4b4b6" stroke-width="1.2"/><ellipse cx="672.0" cy="353.0" rx="25.4" ry="10.4" transform="rotate(0 672.0 353.0)" fill="none" stroke="#2a2a2d" stroke-width="2.5" opacity="0.55"/><ellipse cx="672.0" cy="353.0" rx="25.4" ry="10.4" transform="rotate(0 672.0 353.0)" fill="none" stroke="#b8b8ba" stroke-width="1.2"/></g>
<g opacity="0.7"><ellipse cx="718.0" cy="409.0" rx="24.7" ry="10.2" transform="rotate(0 718.0 409.0)" fill="none" stroke="#2a2a2d" stroke-width="2.5" opacity="0.55"/><ellipse cx="718.0" cy="409.0" rx="24.7" ry="10.2" transform="rotate(0 718.0 409.0)" fill="none" stroke="#8a8a8e" stroke-width="1.2"/><ellipse cx="717.6" cy="393.2" rx="19.8" ry="8.1" transform="rotate(-7 717.6 393.2)" fill="none" stroke="#2a2a2d" stroke-width="2.5" opacity="0.55"/><ellipse cx="717.6" cy="393.2" rx="19.8" ry="8.1" transform="rotate(-7 717.6 393.2)" fill="none" stroke="#9a9a9e" stroke-width="1.2"/><ellipse cx="717.2" cy="378.8" rx="16.3" ry="6.7" transform="rotate(6 717.2 378.8)" fill="none" stroke="#2a2a2d" stroke-width="2.5" opacity="0.55"/><ellipse cx="717.2" cy="378.8" rx="16.3" ry="6.7" transform="rotate(6 717.2 378.8)" fill="none" stroke="#a6a6aa" stroke-width="1.2"/><ellipse cx="716.8" cy="365.8" rx="16.8" ry="6.9" transform="rotate(-6 716.8 365.8)" fill="none" stroke="#2a2a2d" stroke-width="2.5" opacity="0.55"/><ellipse cx="716.8" cy="365.8" rx="16.8" ry="6.9" transform="rotate(-6 716.8 365.8)" fill="none" stroke="#aeaeb0" stroke-width="1.2"/><ellipse cx="716.4" cy="351.4" rx="20.3" ry="8.3" transform="rotate(6 716.4 351.4)" fill="none" stroke="#2a2a2d" stroke-width="2.5" opacity="0.55"/><ellipse cx="716.4" cy="351.4" rx="20.3" ry="8.3" transform="rotate(6 716.4 351.4)" fill="none" stroke="#b4b4b6" stroke-width="1.2"/><ellipse cx="716.0" cy="337.0" rx="24.7" ry="10.2" transform="rotate(0 716.0 337.0)" fill="none" stroke="#2a2a2d" stroke-width="2.5" opacity="0.55"/><ellipse cx="716.0" cy="337.0" rx="24.7" ry="10.2" transform="rotate(0 716.0 337.0)" fill="none" stroke="#b8b8ba" stroke-width="1.2"/></g>
<g opacity="0.7"><ellipse cx="762.0" cy="395.0" rx="24.1" ry="9.9" transform="rotate(0 762.0 395.0)" fill="none" stroke="#2a2a2d" stroke-width="2.5" opacity="0.55"/><ellipse cx="762.0" cy="395.0" rx="24.1" ry="9.9" transform="rotate(0 762.0 395.0)" fill="none" stroke="#8a8a8e" stroke-width="1.2"/><ellipse cx="761.6" cy="379.2" rx="19.3" ry="7.9" transform="rotate(-7 761.6 379.2)" fill="none" stroke="#2a2a2d" stroke-width="2.5" opacity="0.55"/><ellipse cx="761.6" cy="379.2" rx="19.3" ry="7.9" transform="rotate(-7 761.6 379.2)" fill="none" stroke="#9a9a9e" stroke-width="1.2"/><ellipse cx="761.2" cy="364.8" rx="15.9" ry="6.5" transform="rotate(6 761.2 364.8)" fill="none" stroke="#2a2a2d" stroke-width="2.5" opacity="0.55"/><ellipse cx="761.2" cy="364.8" rx="15.9" ry="6.5" transform="rotate(6 761.2 364.8)" fill="none" stroke="#a6a6aa" stroke-width="1.2"/><ellipse cx="760.8" cy="351.8" rx="16.4" ry="6.7" transform="rotate(-6 760.8 351.8)" fill="none" stroke="#2a2a2d" stroke-width="2.5" opacity="0.55"/><ellipse cx="760.8" cy="351.8" rx="16.4" ry="6.7" transform="rotate(-6 760.8 351.8)" fill="none" stroke="#aeaeb0" stroke-width="1.2"/><ellipse cx="760.4" cy="337.4" rx="19.7" ry="8.1" transform="rotate(6 760.4 337.4)" fill="none" stroke="#2a2a2d" stroke-width="2.5" opacity="0.55"/><ellipse cx="760.4" cy="337.4" rx="19.7" ry="8.1" transform="rotate(6 760.4 337.4)" fill="none" stroke="#b4b4b6" stroke-width="1.2"/><ellipse cx="760.0" cy="323.0" rx="24.1" ry="9.9" transform="rotate(0 760.0 323.0)" fill="none" stroke="#2a2a2d" stroke-width="2.5" opacity="0.55"/><ellipse cx="760.0" cy="323.0" rx="24.1" ry="9.9" transform="rotate(0 760.0 323.0)" fill="none" stroke="#b8b8ba" stroke-width="1.2"/></g>
<g opacity="0.7"><ellipse cx="806.0" cy="390.0" rx="23.4" ry="9.6" transform="rotate(0 806.0 390.0)" fill="none" stroke="#2a2a2d" stroke-width="2.5" opacity="0.55"/><ellipse cx="806.0" cy="390.0" rx="23.4" ry="9.6" transform="rotate(0 806.0 390.0)" fill="none" stroke="#8a8a8e" stroke-width="1.2"/><ellipse cx="805.6" cy="374.2" rx="18.7" ry="7.7" transform="rotate(-7 805.6 374.2)" fill="none" stroke="#2a2a2d" stroke-width="2.5" opacity="0.55"/><ellipse cx="805.6" cy="374.2" rx="18.7" ry="7.7" transform="rotate(-7 805.6 374.2)" fill="none" stroke="#9a9a9e" stroke-width="1.2"/><ellipse cx="805.2" cy="359.8" rx="15.5" ry="6.3" transform="rotate(6 805.2 359.8)" fill="none" stroke="#2a2a2d" stroke-width="2.5" opacity="0.55"/><ellipse cx="805.2" cy="359.8" rx="15.5" ry="6.3" transform="rotate(6 805.2 359.8)" fill="none" stroke="#a6a6aa" stroke-width="1.2"/><ellipse cx="804.8" cy="346.8" rx="15.9" ry="6.5" transform="rotate(-6 804.8 346.8)" fill="none" stroke="#2a2a2d" stroke-width="2.5" opacity="0.55"/><ellipse cx="804.8" cy="346.8" rx="15.9" ry="6.5" transform="rotate(-6 804.8 346.8)" fill="none" stroke="#aeaeb0" stroke-width="1.2"/><ellipse cx="804.4" cy="332.4" rx="19.2" ry="7.9" transform="rotate(6 804.4 332.4)" fill="none" stroke="#2a2a2d" stroke-width="2.5" opacity="0.55"/><ellipse cx="804.4" cy="332.4" rx="19.2" ry="7.9" transform="rotate(6 804.4 332.4)" fill="none" stroke="#b4b4b6" stroke-width="1.2"/><ellipse cx="804.0" cy="318.0" rx="23.4" ry="9.6" transform="rotate(0 804.0 318.0)" fill="none" stroke="#2a2a2d" stroke-width="2.5" opacity="0.55"/><ellipse cx="804.0" cy="318.0" rx="23.4" ry="9.6" transform="rotate(0 804.0 318.0)" fill="none" stroke="#b8b8ba" stroke-width="1.2"/></g>
<g opacity="0.85"><ellipse cx="495.0" cy="557.0" rx="28.0" ry="11.5" transform="rotate(0 495.0 557.0)" fill="none" stroke="#2a2a2d" stroke-width="2.5" opacity="0.55"/><ellipse cx="495.0" cy="557.0" rx="28.0" ry="11.5" transform="rotate(0 495.0 557.0)" fill="none" stroke="#8a8a8e" stroke-width="1.2"/><ellipse cx="494.6" cy="541.2" rx="22.4" ry="9.2" transform="rotate(-7 494.6 541.2)" fill="none" stroke="#2a2a2d" stroke-width="2.5" opacity="0.55"/><ellipse cx="494.6" cy="541.2" rx="22.4" ry="9.2" transform="rotate(-7 494.6 541.2)" fill="none" stroke="#9a9a9e" stroke-width="1.2"/><ellipse cx="494.2" cy="526.8" rx="18.5" ry="7.6" transform="rotate(6 494.2 526.8)" fill="none" stroke="#2a2a2d" stroke-width="2.5" opacity="0.55"/><ellipse cx="494.2" cy="526.8" rx="18.5" ry="7.6" transform="rotate(6 494.2 526.8)" fill="none" stroke="#a6a6aa" stroke-width="1.2"/><ellipse cx="493.8" cy="513.8" rx="19.0" ry="7.8" transform="rotate(-6 493.8 513.8)" fill="none" stroke="#2a2a2d" stroke-width="2.5" opacity="0.55"/><ellipse cx="493.8" cy="513.8" rx="19.0" ry="7.8" transform="rotate(-6 493.8 513.8)" fill="none" stroke="#aeaeb0" stroke-width="1.2"/><ellipse cx="493.4" cy="499.4" rx="23.0" ry="9.4" transform="rotate(6 493.4 499.4)" fill="none" stroke="#2a2a2d" stroke-width="2.5" opacity="0.55"/><ellipse cx="493.4" cy="499.4" rx="23.0" ry="9.4" transform="rotate(6 493.4 499.4)" fill="none" stroke="#b4b4b6" stroke-width="1.2"/><ellipse cx="493.0" cy="485.0" rx="28.0" ry="11.5" transform="rotate(0 493.0 485.0)" fill="none" stroke="#2a2a2d" stroke-width="2.5" opacity="0.55"/><ellipse cx="493.0" cy="485.0" rx="28.0" ry="11.5" transform="rotate(0 493.0 485.0)" fill="none" stroke="#b8b8ba" stroke-width="1.2"/></g>
<g opacity="0.85"><ellipse cx="541.0" cy="533.0" rx="27.3" ry="11.2" transform="rotate(0 541.0 533.0)" fill="none" stroke="#2a2a2d" stroke-width="2.5" opacity="0.55"/><ellipse cx="541.0" cy="533.0" rx="27.3" ry="11.2" transform="rotate(0 541.0 533.0)" fill="none" stroke="#8a8a8e" stroke-width="1.2"/><ellipse cx="540.6" cy="517.2" rx="21.9" ry="9.0" transform="rotate(-7 540.6 517.2)" fill="none" stroke="#2a2a2d" stroke-width="2.5" opacity="0.55"/><ellipse cx="540.6" cy="517.2" rx="21.9" ry="9.0" transform="rotate(-7 540.6 517.2)" fill="none" stroke="#9a9a9e" stroke-width="1.2"/><ellipse cx="540.2" cy="502.8" rx="18.0" ry="7.4" transform="rotate(6 540.2 502.8)" fill="none" stroke="#2a2a2d" stroke-width="2.5" opacity="0.55"/><ellipse cx="540.2" cy="502.8" rx="18.0" ry="7.4" transform="rotate(6 540.2 502.8)" fill="none" stroke="#a6a6aa" stroke-width="1.2"/><ellipse cx="539.8" cy="489.8" rx="18.6" ry="7.6" transform="rotate(-6 539.8 489.8)" fill="none" stroke="#2a2a2d" stroke-width="2.5" opacity="0.55"/><ellipse cx="539.8" cy="489.8" rx="18.6" ry="7.6" transform="rotate(-6 539.8 489.8)" fill="none" stroke="#aeaeb0" stroke-width="1.2"/><ellipse cx="539.4" cy="475.4" rx="22.4" ry="9.2" transform="rotate(6 539.4 475.4)" fill="none" stroke="#2a2a2d" stroke-width="2.5" opacity="0.55"/><ellipse cx="539.4" cy="475.4" rx="22.4" ry="9.2" transform="rotate(6 539.4 475.4)" fill="none" stroke="#b4b4b6" stroke-width="1.2"/><ellipse cx="539.0" cy="461.0" rx="27.3" ry="11.2" transform="rotate(0 539.0 461.0)" fill="none" stroke="#2a2a2d" stroke-width="2.5" opacity="0.55"/><ellipse cx="539.0" cy="461.0" rx="27.3" ry="11.2" transform="rotate(0 539.0 461.0)" fill="none" stroke="#b8b8ba" stroke-width="1.2"/></g>
<g opacity="0.85"><ellipse cx="588.0" cy="509.0" rx="26.6" ry="10.9" transform="rotate(0 588.0 509.0)" fill="none" stroke="#2a2a2d" stroke-width="2.5" opacity="0.55"/><ellipse cx="588.0" cy="509.0" rx="26.6" ry="10.9" transform="rotate(0 588.0 509.0)" fill="none" stroke="#8a8a8e" stroke-width="1.2"/><ellipse cx="587.6" cy="493.2" rx="21.3" ry="8.7" transform="rotate(-7 587.6 493.2)" fill="none" stroke="#2a2a2d" stroke-width="2.5" opacity="0.55"/><ellipse cx="587.6" cy="493.2" rx="21.3" ry="8.7" transform="rotate(-7 587.6 493.2)" fill="none" stroke="#9a9a9e" stroke-width="1.2"/><ellipse cx="587.2" cy="478.8" rx="17.6" ry="7.2" transform="rotate(6 587.2 478.8)" fill="none" stroke="#2a2a2d" stroke-width="2.5" opacity="0.55"/><ellipse cx="587.2" cy="478.8" rx="17.6" ry="7.2" transform="rotate(6 587.2 478.8)" fill="none" stroke="#a6a6aa" stroke-width="1.2"/><ellipse cx="586.8" cy="465.8" rx="18.1" ry="7.4" transform="rotate(-6 586.8 465.8)" fill="none" stroke="#2a2a2d" stroke-width="2.5" opacity="0.55"/><ellipse cx="586.8" cy="465.8" rx="18.1" ry="7.4" transform="rotate(-6 586.8 465.8)" fill="none" stroke="#aeaeb0" stroke-width="1.2"/><ellipse cx="586.4" cy="451.4" rx="21.8" ry="9.0" transform="rotate(6 586.4 451.4)" fill="none" stroke="#2a2a2d" stroke-width="2.5" opacity="0.55"/><ellipse cx="586.4" cy="451.4" rx="21.8" ry="9.0" transform="rotate(6 586.4 451.4)" fill="none" stroke="#b4b4b6" stroke-width="1.2"/><ellipse cx="586.0" cy="437.0" rx="26.6" ry="10.9" transform="rotate(0 586.0 437.0)" fill="none" stroke="#2a2a2d" stroke-width="2.5" opacity="0.55"/><ellipse cx="586.0" cy="437.0" rx="26.6" ry="10.9" transform="rotate(0 586.0 437.0)" fill="none" stroke="#b8b8ba" stroke-width="1.2"/></g>
<g opacity="0.85"><ellipse cx="628.0" cy="488.0" rx="26.0" ry="10.7" transform="rotate(0 628.0 488.0)" fill="none" stroke="#2a2a2d" stroke-width="2.5" opacity="0.55"/><ellipse cx="628.0" cy="488.0" rx="26.0" ry="10.7" transform="rotate(0 628.0 488.0)" fill="none" stroke="#8a8a8e" stroke-width="1.2"/><ellipse cx="627.6" cy="472.2" rx="20.8" ry="8.6" transform="rotate(-7 627.6 472.2)" fill="none" stroke="#2a2a2d" stroke-width="2.5" opacity="0.55"/><ellipse cx="627.6" cy="472.2" rx="20.8" ry="8.6" transform="rotate(-7 627.6 472.2)" fill="none" stroke="#9a9a9e" stroke-width="1.2"/><ellipse cx="627.2" cy="457.8" rx="17.2" ry="7.1" transform="rotate(6 627.2 457.8)" fill="none" stroke="#2a2a2d" stroke-width="2.5" opacity="0.55"/><ellipse cx="627.2" cy="457.8" rx="17.2" ry="7.1" transform="rotate(6 627.2 457.8)" fill="none" stroke="#a6a6aa" stroke-width="1.2"/><ellipse cx="626.8" cy="444.8" rx="17.7" ry="7.3" transform="rotate(-6 626.8 444.8)" fill="none" stroke="#2a2a2d" stroke-width="2.5" opacity="0.55"/><ellipse cx="626.8" cy="444.8" rx="17.7" ry="7.3" transform="rotate(-6 626.8 444.8)" fill="none" stroke="#aeaeb0" stroke-width="1.2"/><ellipse cx="626.4" cy="430.4" rx="21.4" ry="8.8" transform="rotate(6 626.4 430.4)" fill="none" stroke="#2a2a2d" stroke-width="2.5" opacity="0.55"/><ellipse cx="626.4" cy="430.4" rx="21.4" ry="8.8" transform="rotate(6 626.4 430.4)" fill="none" stroke="#b4b4b6" stroke-width="1.2"/><ellipse cx="626.0" cy="416.0" rx="26.0" ry="10.7" transform="rotate(0 626.0 416.0)" fill="none" stroke="#2a2a2d" stroke-width="2.5" opacity="0.55"/><ellipse cx="626.0" cy="416.0" rx="26.0" ry="10.7" transform="rotate(0 626.0 416.0)" fill="none" stroke="#b8b8ba" stroke-width="1.2"/></g>
<g opacity="0.85"><ellipse cx="668.0" cy="469.0" rx="25.5" ry="10.5" transform="rotate(0 668.0 469.0)" fill="none" stroke="#2a2a2d" stroke-width="2.5" opacity="0.55"/><ellipse cx="668.0" cy="469.0" rx="25.5" ry="10.5" transform="rotate(0 668.0 469.0)" fill="none" stroke="#8a8a8e" stroke-width="1.2"/><ellipse cx="667.6" cy="453.2" rx="20.4" ry="8.4" transform="rotate(-7 667.6 453.2)" fill="none" stroke="#2a2a2d" stroke-width="2.5" opacity="0.55"/><ellipse cx="667.6" cy="453.2" rx="20.4" ry="8.4" transform="rotate(-7 667.6 453.2)" fill="none" stroke="#9a9a9e" stroke-width="1.2"/><ellipse cx="667.2" cy="438.8" rx="16.8" ry="6.9" transform="rotate(6 667.2 438.8)" fill="none" stroke="#2a2a2d" stroke-width="2.5" opacity="0.55"/><ellipse cx="667.2" cy="438.8" rx="16.8" ry="6.9" transform="rotate(6 667.2 438.8)" fill="none" stroke="#a6a6aa" stroke-width="1.2"/><ellipse cx="666.8" cy="425.8" rx="17.3" ry="7.1" transform="rotate(-6 666.8 425.8)" fill="none" stroke="#2a2a2d" stroke-width="2.5" opacity="0.55"/><ellipse cx="666.8" cy="425.8" rx="17.3" ry="7.1" transform="rotate(-6 666.8 425.8)" fill="none" stroke="#aeaeb0" stroke-width="1.2"/><ellipse cx="666.4" cy="411.4" rx="20.9" ry="8.6" transform="rotate(6 666.4 411.4)" fill="none" stroke="#2a2a2d" stroke-width="2.5" opacity="0.55"/><ellipse cx="666.4" cy="411.4" rx="20.9" ry="8.6" transform="rotate(6 666.4 411.4)" fill="none" stroke="#b4b4b6" stroke-width="1.2"/><ellipse cx="666.0" cy="397.0" rx="25.5" ry="10.5" transform="rotate(0 666.0 397.0)" fill="none" stroke="#2a2a2d" stroke-width="2.5" opacity="0.55"/><ellipse cx="666.0" cy="397.0" rx="25.5" ry="10.5" transform="rotate(0 666.0 397.0)" fill="none" stroke="#b8b8ba" stroke-width="1.2"/></g>
<g opacity="0.85"><ellipse cx="711.0" cy="448.0" rx="24.8" ry="10.2" transform="rotate(0 711.0 448.0)" fill="none" stroke="#2a2a2d" stroke-width="2.5" opacity="0.55"/><ellipse cx="711.0" cy="448.0" rx="24.8" ry="10.2" transform="rotate(0 711.0 448.0)" fill="none" stroke="#8a8a8e" stroke-width="1.2"/><ellipse cx="710.6" cy="432.2" rx="19.9" ry="8.2" transform="rotate(-7 710.6 432.2)" fill="none" stroke="#2a2a2d" stroke-width="2.5" opacity="0.55"/><ellipse cx="710.6" cy="432.2" rx="19.9" ry="8.2" transform="rotate(-7 710.6 432.2)" fill="none" stroke="#9a9a9e" stroke-width="1.2"/><ellipse cx="710.2" cy="417.8" rx="16.4" ry="6.7" transform="rotate(6 710.2 417.8)" fill="none" stroke="#2a2a2d" stroke-width="2.5" opacity="0.55"/><ellipse cx="710.2" cy="417.8" rx="16.4" ry="6.7" transform="rotate(6 710.2 417.8)" fill="none" stroke="#a6a6aa" stroke-width="1.2"/><ellipse cx="709.8" cy="404.8" rx="16.9" ry="6.9" transform="rotate(-6 709.8 404.8)" fill="none" stroke="#2a2a2d" stroke-width="2.5" opacity="0.55"/><ellipse cx="709.8" cy="404.8" rx="16.9" ry="6.9" transform="rotate(-6 709.8 404.8)" fill="none" stroke="#aeaeb0" stroke-width="1.2"/><ellipse cx="709.4" cy="390.4" rx="20.3" ry="8.4" transform="rotate(6 709.4 390.4)" fill="none" stroke="#2a2a2d" stroke-width="2.5" opacity="0.55"/><ellipse cx="709.4" cy="390.4" rx="20.3" ry="8.4" transform="rotate(6 709.4 390.4)" fill="none" stroke="#b4b4b6" stroke-width="1.2"/><ellipse cx="709.0" cy="376.0" rx="24.8" ry="10.2" transform="rotate(0 709.0 376.0)" fill="none" stroke="#2a2a2d" stroke-width="2.5" opacity="0.55"/><ellipse cx="709.0" cy="376.0" rx="24.8" ry="10.2" transform="rotate(0 709.0 376.0)" fill="none" stroke="#b8b8ba" stroke-width="1.2"/></g>
<g opacity="0.85"><ellipse cx="755.0" cy="432.0" rx="24.2" ry="9.9" transform="rotate(0 755.0 432.0)" fill="none" stroke="#2a2a2d" stroke-width="2.5" opacity="0.55"/><ellipse cx="755.0" cy="432.0" rx="24.2" ry="9.9" transform="rotate(0 755.0 432.0)" fill="none" stroke="#8a8a8e" stroke-width="1.2"/><ellipse cx="754.6" cy="416.2" rx="19.3" ry="7.9" transform="rotate(-7 754.6 416.2)" fill="none" stroke="#2a2a2d" stroke-width="2.5" opacity="0.55"/><ellipse cx="754.6" cy="416.2" rx="19.3" ry="7.9" transform="rotate(-7 754.6 416.2)" fill="none" stroke="#9a9a9e" stroke-width="1.2"/><ellipse cx="754.2" cy="401.8" rx="16.0" ry="6.6" transform="rotate(6 754.2 401.8)" fill="none" stroke="#2a2a2d" stroke-width="2.5" opacity="0.55"/><ellipse cx="754.2" cy="401.8" rx="16.0" ry="6.6" transform="rotate(6 754.2 401.8)" fill="none" stroke="#a6a6aa" stroke-width="1.2"/><ellipse cx="753.8" cy="388.8" rx="16.4" ry="6.7" transform="rotate(-6 753.8 388.8)" fill="none" stroke="#2a2a2d" stroke-width="2.5" opacity="0.55"/><ellipse cx="753.8" cy="388.8" rx="16.4" ry="6.7" transform="rotate(-6 753.8 388.8)" fill="none" stroke="#aeaeb0" stroke-width="1.2"/><ellipse cx="753.4" cy="374.4" rx="19.8" ry="8.1" transform="rotate(6 753.4 374.4)" fill="none" stroke="#2a2a2d" stroke-width="2.5" opacity="0.55"/><ellipse cx="753.4" cy="374.4" rx="19.8" ry="8.1" transform="rotate(6 753.4 374.4)" fill="none" stroke="#b4b4b6" stroke-width="1.2"/><ellipse cx="753.0" cy="360.0" rx="24.2" ry="9.9" transform="rotate(0 753.0 360.0)" fill="none" stroke="#2a2a2d" stroke-width="2.5" opacity="0.55"/><ellipse cx="753.0" cy="360.0" rx="24.2" ry="9.9" transform="rotate(0 753.0 360.0)" fill="none" stroke="#b8b8ba" stroke-width="1.2"/></g>
<g opacity="0.85"><ellipse cx="799.0" cy="418.0" rx="23.5" ry="9.7" transform="rotate(0 799.0 418.0)" fill="none" stroke="#2a2a2d" stroke-width="2.5" opacity="0.55"/><ellipse cx="799.0" cy="418.0" rx="23.5" ry="9.7" transform="rotate(0 799.0 418.0)" fill="none" stroke="#8a8a8e" stroke-width="1.2"/><ellipse cx="798.6" cy="402.2" rx="18.8" ry="7.7" transform="rotate(-7 798.6 402.2)" fill="none" stroke="#2a2a2d" stroke-width="2.5" opacity="0.55"/><ellipse cx="798.6" cy="402.2" rx="18.8" ry="7.7" transform="rotate(-7 798.6 402.2)" fill="none" stroke="#9a9a9e" stroke-width="1.2"/><ellipse cx="798.2" cy="387.8" rx="15.5" ry="6.4" transform="rotate(6 798.2 387.8)" fill="none" stroke="#2a2a2d" stroke-width="2.5" opacity="0.55"/><ellipse cx="798.2" cy="387.8" rx="15.5" ry="6.4" transform="rotate(6 798.2 387.8)" fill="none" stroke="#a6a6aa" stroke-width="1.2"/><ellipse cx="797.8" cy="374.8" rx="16.0" ry="6.6" transform="rotate(-6 797.8 374.8)" fill="none" stroke="#2a2a2d" stroke-width="2.5" opacity="0.55"/><ellipse cx="797.8" cy="374.8" rx="16.0" ry="6.6" transform="rotate(-6 797.8 374.8)" fill="none" stroke="#aeaeb0" stroke-width="1.2"/><ellipse cx="797.4" cy="360.4" rx="19.3" ry="7.9" transform="rotate(6 797.4 360.4)" fill="none" stroke="#2a2a2d" stroke-width="2.5" opacity="0.55"/><ellipse cx="797.4" cy="360.4" rx="19.3" ry="7.9" transform="rotate(6 797.4 360.4)" fill="none" stroke="#b4b4b6" stroke-width="1.2"/><ellipse cx="797.0" cy="346.0" rx="23.5" ry="9.7" transform="rotate(0 797.0 346.0)" fill="none" stroke="#2a2a2d" stroke-width="2.5" opacity="0.55"/><ellipse cx="797.0" cy="346.0" rx="23.5" ry="9.7" transform="rotate(0 797.0 346.0)" fill="none" stroke="#b8b8ba" stroke-width="1.2"/></g>
<g opacity="0.85"><ellipse cx="843.0" cy="413.0" rx="22.9" ry="9.4" transform="rotate(0 843.0 413.0)" fill="none" stroke="#2a2a2d" stroke-width="2.5" opacity="0.55"/><ellipse cx="843.0" cy="413.0" rx="22.9" ry="9.4" transform="rotate(0 843.0 413.0)" fill="none" stroke="#8a8a8e" stroke-width="1.2"/><ellipse cx="842.6" cy="397.2" rx="18.3" ry="7.5" transform="rotate(-7 842.6 397.2)" fill="none" stroke="#2a2a2d" stroke-width="2.5" opacity="0.55"/><ellipse cx="842.6" cy="397.2" rx="18.3" ry="7.5" transform="rotate(-7 842.6 397.2)" fill="none" stroke="#9a9a9e" stroke-width="1.2"/><ellipse cx="842.2" cy="382.8" rx="15.1" ry="6.2" transform="rotate(6 842.2 382.8)" fill="none" stroke="#2a2a2d" stroke-width="2.5" opacity="0.55"/><ellipse cx="842.2" cy="382.8" rx="15.1" ry="6.2" transform="rotate(6 842.2 382.8)" fill="none" stroke="#a6a6aa" stroke-width="1.2"/><ellipse cx="841.8" cy="369.8" rx="15.6" ry="6.4" transform="rotate(-6 841.8 369.8)" fill="none" stroke="#2a2a2d" stroke-width="2.5" opacity="0.55"/><ellipse cx="841.8" cy="369.8" rx="15.6" ry="6.4" transform="rotate(-6 841.8 369.8)" fill="none" stroke="#aeaeb0" stroke-width="1.2"/><ellipse cx="841.4" cy="355.4" rx="18.8" ry="7.7" transform="rotate(6 841.4 355.4)" fill="none" stroke="#2a2a2d" stroke-width="2.5" opacity="0.55"/><ellipse cx="841.4" cy="355.4" rx="18.8" ry="7.7" transform="rotate(6 841.4 355.4)" fill="none" stroke="#b4b4b6" stroke-width="1.2"/><ellipse cx="841.0" cy="341.0" rx="22.9" ry="9.4" transform="rotate(0 841.0 341.0)" fill="none" stroke="#2a2a2d" stroke-width="2.5" opacity="0.55"/><ellipse cx="841.0" cy="341.0" rx="22.9" ry="9.4" transform="rotate(0 841.0 341.0)" fill="none" stroke="#b8b8ba" stroke-width="1.2"/></g>
<g opacity="1.0"><ellipse cx="578.0" cy="556.0" rx="26.8" ry="11.0" transform="rotate(0 578.0 556.0)" fill="none" stroke="#2a2a2d" stroke-width="2.5" opacity="0.55"/><ellipse cx="578.0" cy="556.0" rx="26.8" ry="11.0" transform="rotate(0 578.0 556.0)" fill="none" stroke="#8a8a8e" stroke-width="1.2"/><ellipse cx="577.6" cy="540.2" rx="21.4" ry="8.8" transform="rotate(-7 577.6 540.2)" fill="none" stroke="#2a2a2d" stroke-width="2.5" opacity="0.55"/><ellipse cx="577.6" cy="540.2" rx="21.4" ry="8.8" transform="rotate(-7 577.6 540.2)" fill="none" stroke="#9a9a9e" stroke-width="1.2"/><ellipse cx="577.2" cy="525.8" rx="17.7" ry="7.3" transform="rotate(6 577.2 525.8)" fill="none" stroke="#2a2a2d" stroke-width="2.5" opacity="0.55"/><ellipse cx="577.2" cy="525.8" rx="17.7" ry="7.3" transform="rotate(6 577.2 525.8)" fill="none" stroke="#a6a6aa" stroke-width="1.2"/><ellipse cx="576.8" cy="512.8" rx="18.2" ry="7.5" transform="rotate(-6 576.8 512.8)" fill="none" stroke="#2a2a2d" stroke-width="2.5" opacity="0.55"/><ellipse cx="576.8" cy="512.8" rx="18.2" ry="7.5" transform="rotate(-6 576.8 512.8)" fill="none" stroke="#aeaeb0" stroke-width="1.2"/><ellipse cx="576.4" cy="498.4" rx="22.0" ry="9.0" transform="rotate(6 576.4 498.4)" fill="none" stroke="#2a2a2d" stroke-width="2.5" opacity="0.55"/><ellipse cx="576.4" cy="498.4" rx="22.0" ry="9.0" transform="rotate(6 576.4 498.4)" fill="none" stroke="#b4b4b6" stroke-width="1.2"/><ellipse cx="576.0" cy="484.0" rx="26.8" ry="11.0" transform="rotate(0 576.0 484.0)" fill="none" stroke="#2a2a2d" stroke-width="2.5" opacity="0.55"/><ellipse cx="576.0" cy="484.0" rx="26.8" ry="11.0" transform="rotate(0 576.0 484.0)" fill="none" stroke="#b8b8ba" stroke-width="1.2"/></g>
<g opacity="1.0"><ellipse cx="625.0" cy="532.0" rx="26.1" ry="10.7" transform="rotate(0 625.0 532.0)" fill="none" stroke="#2a2a2d" stroke-width="2.5" opacity="0.55"/><ellipse cx="625.0" cy="532.0" rx="26.1" ry="10.7" transform="rotate(0 625.0 532.0)" fill="none" stroke="#8a8a8e" stroke-width="1.2"/><ellipse cx="624.6" cy="516.2" rx="20.9" ry="8.6" transform="rotate(-7 624.6 516.2)" fill="none" stroke="#2a2a2d" stroke-width="2.5" opacity="0.55"/><ellipse cx="624.6" cy="516.2" rx="20.9" ry="8.6" transform="rotate(-7 624.6 516.2)" fill="none" stroke="#9a9a9e" stroke-width="1.2"/><ellipse cx="624.2" cy="501.8" rx="17.2" ry="7.1" transform="rotate(6 624.2 501.8)" fill="none" stroke="#2a2a2d" stroke-width="2.5" opacity="0.55"/><ellipse cx="624.2" cy="501.8" rx="17.2" ry="7.1" transform="rotate(6 624.2 501.8)" fill="none" stroke="#a6a6aa" stroke-width="1.2"/><ellipse cx="623.8" cy="488.8" rx="17.7" ry="7.3" transform="rotate(-6 623.8 488.8)" fill="none" stroke="#2a2a2d" stroke-width="2.5" opacity="0.55"/><ellipse cx="623.8" cy="488.8" rx="17.7" ry="7.3" transform="rotate(-6 623.8 488.8)" fill="none" stroke="#aeaeb0" stroke-width="1.2"/><ellipse cx="623.4" cy="474.4" rx="21.4" ry="8.8" transform="rotate(6 623.4 474.4)" fill="none" stroke="#2a2a2d" stroke-width="2.5" opacity="0.55"/><ellipse cx="623.4" cy="474.4" rx="21.4" ry="8.8" transform="rotate(6 623.4 474.4)" fill="none" stroke="#b4b4b6" stroke-width="1.2"/><ellipse cx="623.0" cy="460.0" rx="26.1" ry="10.7" transform="rotate(0 623.0 460.0)" fill="none" stroke="#2a2a2d" stroke-width="2.5" opacity="0.55"/><ellipse cx="623.0" cy="460.0" rx="26.1" ry="10.7" transform="rotate(0 623.0 460.0)" fill="none" stroke="#b8b8ba" stroke-width="1.2"/></g>
<g opacity="1.0"><ellipse cx="665.0" cy="511.0" rx="25.5" ry="10.5" transform="rotate(0 665.0 511.0)" fill="none" stroke="#2a2a2d" stroke-width="2.5" opacity="0.55"/><ellipse cx="665.0" cy="511.0" rx="25.5" ry="10.5" transform="rotate(0 665.0 511.0)" fill="none" stroke="#8a8a8e" stroke-width="1.2"/><ellipse cx="664.6" cy="495.2" rx="20.4" ry="8.4" transform="rotate(-7 664.6 495.2)" fill="none" stroke="#2a2a2d" stroke-width="2.5" opacity="0.55"/><ellipse cx="664.6" cy="495.2" rx="20.4" ry="8.4" transform="rotate(-7 664.6 495.2)" fill="none" stroke="#9a9a9e" stroke-width="1.2"/><ellipse cx="664.2" cy="480.8" rx="16.8" ry="6.9" transform="rotate(6 664.2 480.8)" fill="none" stroke="#2a2a2d" stroke-width="2.5" opacity="0.55"/><ellipse cx="664.2" cy="480.8" rx="16.8" ry="6.9" transform="rotate(6 664.2 480.8)" fill="none" stroke="#a6a6aa" stroke-width="1.2"/><ellipse cx="663.8" cy="467.8" rx="17.3" ry="7.1" transform="rotate(-6 663.8 467.8)" fill="none" stroke="#2a2a2d" stroke-width="2.5" opacity="0.55"/><ellipse cx="663.8" cy="467.8" rx="17.3" ry="7.1" transform="rotate(-6 663.8 467.8)" fill="none" stroke="#aeaeb0" stroke-width="1.2"/><ellipse cx="663.4" cy="453.4" rx="20.9" ry="8.6" transform="rotate(6 663.4 453.4)" fill="none" stroke="#2a2a2d" stroke-width="2.5" opacity="0.55"/><ellipse cx="663.4" cy="453.4" rx="20.9" ry="8.6" transform="rotate(6 663.4 453.4)" fill="none" stroke="#b4b4b6" stroke-width="1.2"/><ellipse cx="663.0" cy="439.0" rx="25.5" ry="10.5" transform="rotate(0 663.0 439.0)" fill="none" stroke="#2a2a2d" stroke-width="2.5" opacity="0.55"/><ellipse cx="663.0" cy="439.0" rx="25.5" ry="10.5" transform="rotate(0 663.0 439.0)" fill="none" stroke="#b8b8ba" stroke-width="1.2"/></g>
<g opacity="1.0"><ellipse cx="705.0" cy="492.0" rx="24.9" ry="10.2" transform="rotate(0 705.0 492.0)" fill="none" stroke="#2a2a2d" stroke-width="2.5" opacity="0.55"/><ellipse cx="705.0" cy="492.0" rx="24.9" ry="10.2" transform="rotate(0 705.0 492.0)" fill="none" stroke="#8a8a8e" stroke-width="1.2"/><ellipse cx="704.6" cy="476.2" rx="19.9" ry="8.2" transform="rotate(-7 704.6 476.2)" fill="none" stroke="#2a2a2d" stroke-width="2.5" opacity="0.55"/><ellipse cx="704.6" cy="476.2" rx="19.9" ry="8.2" transform="rotate(-7 704.6 476.2)" fill="none" stroke="#9a9a9e" stroke-width="1.2"/><ellipse cx="704.2" cy="461.8" rx="16.4" ry="6.8" transform="rotate(6 704.2 461.8)" fill="none" stroke="#2a2a2d" stroke-width="2.5" opacity="0.55"/><ellipse cx="704.2" cy="461.8" rx="16.4" ry="6.8" transform="rotate(6 704.2 461.8)" fill="none" stroke="#a6a6aa" stroke-width="1.2"/><ellipse cx="703.8" cy="448.8" rx="16.9" ry="7.0" transform="rotate(-6 703.8 448.8)" fill="none" stroke="#2a2a2d" stroke-width="2.5" opacity="0.55"/><ellipse cx="703.8" cy="448.8" rx="16.9" ry="7.0" transform="rotate(-6 703.8 448.8)" fill="none" stroke="#aeaeb0" stroke-width="1.2"/><ellipse cx="703.4" cy="434.4" rx="20.4" ry="8.4" transform="rotate(6 703.4 434.4)" fill="none" stroke="#2a2a2d" stroke-width="2.5" opacity="0.55"/><ellipse cx="703.4" cy="434.4" rx="20.4" ry="8.4" transform="rotate(6 703.4 434.4)" fill="none" stroke="#b4b4b6" stroke-width="1.2"/><ellipse cx="703.0" cy="420.0" rx="24.9" ry="10.2" transform="rotate(0 703.0 420.0)" fill="none" stroke="#2a2a2d" stroke-width="2.5" opacity="0.55"/><ellipse cx="703.0" cy="420.0" rx="24.9" ry="10.2" transform="rotate(0 703.0 420.0)" fill="none" stroke="#b8b8ba" stroke-width="1.2"/></g>
<g opacity="1.0"><ellipse cx="748.0" cy="471.0" rx="24.3" ry="10.0" transform="rotate(0 748.0 471.0)" fill="none" stroke="#2a2a2d" stroke-width="2.5" opacity="0.55"/><ellipse cx="748.0" cy="471.0" rx="24.3" ry="10.0" transform="rotate(0 748.0 471.0)" fill="none" stroke="#8a8a8e" stroke-width="1.2"/><ellipse cx="747.6" cy="455.2" rx="19.4" ry="8.0" transform="rotate(-7 747.6 455.2)" fill="none" stroke="#2a2a2d" stroke-width="2.5" opacity="0.55"/><ellipse cx="747.6" cy="455.2" rx="19.4" ry="8.0" transform="rotate(-7 747.6 455.2)" fill="none" stroke="#9a9a9e" stroke-width="1.2"/><ellipse cx="747.2" cy="440.8" rx="16.0" ry="6.6" transform="rotate(6 747.2 440.8)" fill="none" stroke="#2a2a2d" stroke-width="2.5" opacity="0.55"/><ellipse cx="747.2" cy="440.8" rx="16.0" ry="6.6" transform="rotate(6 747.2 440.8)" fill="none" stroke="#a6a6aa" stroke-width="1.2"/><ellipse cx="746.8" cy="427.8" rx="16.5" ry="6.8" transform="rotate(-6 746.8 427.8)" fill="none" stroke="#2a2a2d" stroke-width="2.5" opacity="0.55"/><ellipse cx="746.8" cy="427.8" rx="16.5" ry="6.8" transform="rotate(-6 746.8 427.8)" fill="none" stroke="#aeaeb0" stroke-width="1.2"/><ellipse cx="746.4" cy="413.4" rx="19.9" ry="8.2" transform="rotate(6 746.4 413.4)" fill="none" stroke="#2a2a2d" stroke-width="2.5" opacity="0.55"/><ellipse cx="746.4" cy="413.4" rx="19.9" ry="8.2" transform="rotate(6 746.4 413.4)" fill="none" stroke="#b4b4b6" stroke-width="1.2"/><ellipse cx="746.0" cy="399.0" rx="24.3" ry="10.0" transform="rotate(0 746.0 399.0)" fill="none" stroke="#2a2a2d" stroke-width="2.5" opacity="0.55"/><ellipse cx="746.0" cy="399.0" rx="24.3" ry="10.0" transform="rotate(0 746.0 399.0)" fill="none" stroke="#b8b8ba" stroke-width="1.2"/></g>
<g opacity="1.0"><ellipse cx="792.0" cy="455.0" rx="23.6" ry="9.7" transform="rotate(0 792.0 455.0)" fill="none" stroke="#2a2a2d" stroke-width="2.5" opacity="0.55"/><ellipse cx="792.0" cy="455.0" rx="23.6" ry="9.7" transform="rotate(0 792.0 455.0)" fill="none" stroke="#8a8a8e" stroke-width="1.2"/><ellipse cx="791.6" cy="439.2" rx="18.9" ry="7.8" transform="rotate(-7 791.6 439.2)" fill="none" stroke="#2a2a2d" stroke-width="2.5" opacity="0.55"/><ellipse cx="791.6" cy="439.2" rx="18.9" ry="7.8" transform="rotate(-7 791.6 439.2)" fill="none" stroke="#9a9a9e" stroke-width="1.2"/><ellipse cx="791.2" cy="424.8" rx="15.6" ry="6.4" transform="rotate(6 791.2 424.8)" fill="none" stroke="#2a2a2d" stroke-width="2.5" opacity="0.55"/><ellipse cx="791.2" cy="424.8" rx="15.6" ry="6.4" transform="rotate(6 791.2 424.8)" fill="none" stroke="#a6a6aa" stroke-width="1.2"/><ellipse cx="790.8" cy="411.8" rx="16.1" ry="6.6" transform="rotate(-6 790.8 411.8)" fill="none" stroke="#2a2a2d" stroke-width="2.5" opacity="0.55"/><ellipse cx="790.8" cy="411.8" rx="16.1" ry="6.6" transform="rotate(-6 790.8 411.8)" fill="none" stroke="#aeaeb0" stroke-width="1.2"/><ellipse cx="790.4" cy="397.4" rx="19.4" ry="8.0" transform="rotate(6 790.4 397.4)" fill="none" stroke="#2a2a2d" stroke-width="2.5" opacity="0.55"/><ellipse cx="790.4" cy="397.4" rx="19.4" ry="8.0" transform="rotate(6 790.4 397.4)" fill="none" stroke="#b4b4b6" stroke-width="1.2"/><ellipse cx="790.0" cy="383.0" rx="23.6" ry="9.7" transform="rotate(0 790.0 383.0)" fill="none" stroke="#2a2a2d" stroke-width="2.5" opacity="0.55"/><ellipse cx="790.0" cy="383.0" rx="23.6" ry="9.7" transform="rotate(0 790.0 383.0)" fill="none" stroke="#b8b8ba" stroke-width="1.2"/></g>
<g opacity="1.0"><ellipse cx="836.0" cy="441.0" rx="23.0" ry="9.4" transform="rotate(0 836.0 441.0)" fill="none" stroke="#2a2a2d" stroke-width="2.5" opacity="0.55"/><ellipse cx="836.0" cy="441.0" rx="23.0" ry="9.4" transform="rotate(0 836.0 441.0)" fill="none" stroke="#8a8a8e" stroke-width="1.2"/><ellipse cx="835.6" cy="425.2" rx="18.4" ry="7.5" transform="rotate(-7 835.6 425.2)" fill="none" stroke="#2a2a2d" stroke-width="2.5" opacity="0.55"/><ellipse cx="835.6" cy="425.2" rx="18.4" ry="7.5" transform="rotate(-7 835.6 425.2)" fill="none" stroke="#9a9a9e" stroke-width="1.2"/><ellipse cx="835.2" cy="410.8" rx="15.2" ry="6.2" transform="rotate(6 835.2 410.8)" fill="none" stroke="#2a2a2d" stroke-width="2.5" opacity="0.55"/><ellipse cx="835.2" cy="410.8" rx="15.2" ry="6.2" transform="rotate(6 835.2 410.8)" fill="none" stroke="#a6a6aa" stroke-width="1.2"/><ellipse cx="834.8" cy="397.8" rx="15.6" ry="6.4" transform="rotate(-6 834.8 397.8)" fill="none" stroke="#2a2a2d" stroke-width="2.5" opacity="0.55"/><ellipse cx="834.8" cy="397.8" rx="15.6" ry="6.4" transform="rotate(-6 834.8 397.8)" fill="none" stroke="#aeaeb0" stroke-width="1.2"/><ellipse cx="834.4" cy="383.4" rx="18.8" ry="7.7" transform="rotate(6 834.4 383.4)" fill="none" stroke="#2a2a2d" stroke-width="2.5" opacity="0.55"/><ellipse cx="834.4" cy="383.4" rx="18.8" ry="7.7" transform="rotate(6 834.4 383.4)" fill="none" stroke="#b4b4b6" stroke-width="1.2"/><ellipse cx="834.0" cy="369.0" rx="23.0" ry="9.4" transform="rotate(0 834.0 369.0)" fill="none" stroke="#2a2a2d" stroke-width="2.5" opacity="0.55"/><ellipse cx="834.0" cy="369.0" rx="23.0" ry="9.4" transform="rotate(0 834.0 369.0)" fill="none" stroke="#b8b8ba" stroke-width="1.2"/></g>
<g opacity="1.0"><ellipse cx="880.0" cy="436.0" rx="22.3" ry="9.2" transform="rotate(0 880.0 436.0)" fill="none" stroke="#2a2a2d" stroke-width="2.5" opacity="0.55"/><ellipse cx="880.0" cy="436.0" rx="22.3" ry="9.2" transform="rotate(0 880.0 436.0)" fill="none" stroke="#8a8a8e" stroke-width="1.2"/><ellipse cx="879.6" cy="420.2" rx="17.9" ry="7.3" transform="rotate(-7 879.6 420.2)" fill="none" stroke="#2a2a2d" stroke-width="2.5" opacity="0.55"/><ellipse cx="879.6" cy="420.2" rx="17.9" ry="7.3" transform="rotate(-7 879.6 420.2)" fill="none" stroke="#9a9a9e" stroke-width="1.2"/><ellipse cx="879.2" cy="405.8" rx="14.7" ry="6.1" transform="rotate(6 879.2 405.8)" fill="none" stroke="#2a2a2d" stroke-width="2.5" opacity="0.55"/><ellipse cx="879.2" cy="405.8" rx="14.7" ry="6.1" transform="rotate(6 879.2 405.8)" fill="none" stroke="#a6a6aa" stroke-width="1.2"/><ellipse cx="878.8" cy="392.8" rx="15.2" ry="6.2" transform="rotate(-6 878.8 392.8)" fill="none" stroke="#2a2a2d" stroke-width="2.5" opacity="0.55"/><ellipse cx="878.8" cy="392.8" rx="15.2" ry="6.2" transform="rotate(-6 878.8 392.8)" fill="none" stroke="#aeaeb0" stroke-width="1.2"/><ellipse cx="878.4" cy="378.4" rx="18.3" ry="7.5" transform="rotate(6 878.4 378.4)" fill="none" stroke="#2a2a2d" stroke-width="2.5" opacity="0.55"/><ellipse cx="878.4" cy="378.4" rx="18.3" ry="7.5" transform="rotate(6 878.4 378.4)" fill="none" stroke="#b4b4b6" stroke-width="1.2"/><ellipse cx="878.0" cy="364.0" rx="22.3" ry="9.2" transform="rotate(0 878.0 364.0)" fill="none" stroke="#2a2a2d" stroke-width="2.5" opacity="0.55"/><ellipse cx="878.0" cy="364.0" rx="22.3" ry="9.2" transform="rotate(0 878.0 364.0)" fill="none" stroke="#b8b8ba" stroke-width="1.2"/></g>
</g>
<path d="M311,416 L362,447 C367.3,447.3 379.3,450.2 394.0,449.0 C408.7,447.8 431.3,444.3 450.0,440.0 C468.7,435.7 491.0,427.3 506.0,423.0 C521.0,418.7 528.5,417.5 540.0,414.0 C551.5,410.5 561.7,406.7 575.0,402.0 C588.3,397.3 607.5,390.8 620.0,386.0 C632.5,381.2 636.7,378.5 650.0,373.0 C663.3,367.5 687.5,357.7 700.0,353.0 C712.5,348.3 712.5,348.3 725.0,345.0 C737.5,341.7 759.2,336.0 775.0,333.0 C790.8,330.0 802.5,328.3 820.0,327.0 C837.5,325.7 864.2,325.0 880.0,325.0 C895.8,325.0 904.7,326.2 915.0,327.0 C925.3,327.8 933.0,328.6 942.0,330.0 C951.0,331.4 961.0,333.8 969.0,335.5 C977.0,337.2 984.7,339.2 990.0,340.5 C995.3,341.8 999.2,342.6 1001.0,343.0 L1029,331 L1027,335 L969,364 L948,359 C940.0,358.0 913.8,353.8 900.0,353.0 C886.2,352.2 876.7,353.3 865.0,354.0 C853.3,354.7 842.5,355.5 830.0,357.0 C817.5,358.5 803.3,360.0 790.0,363.0 C776.7,366.0 765.0,369.8 750.0,375.0 C735.0,380.2 716.7,387.2 700.0,394.0 C683.3,400.8 666.7,408.8 650.0,416.0 C633.3,423.2 617.5,431.0 600.0,437.0 C582.5,443.0 563.8,446.8 545.0,452.0 C526.2,457.2 504.2,463.8 487.0,468.0 C469.8,472.2 455.7,474.7 442.0,477.0 C428.3,479.3 411.2,481.2 405.0,482.0 L315,418 Z" fill="#a2a1a8" filter="url(#noiseFelt)"/>
<path d="M442,477 C449.5,475.5 469.8,472.2 487.0,468.0 C504.2,463.8 526.2,457.2 545.0,452.0 C563.8,446.8 582.5,443.0 600.0,437.0 C617.5,431.0 633.3,423.2 650.0,416.0 C666.7,408.8 683.3,400.8 700.0,394.0 C716.7,387.2 735.0,380.2 750.0,375.0 C765.0,369.8 776.7,366.0 790.0,363.0 C803.3,360.0 817.5,358.5 830.0,357.0 C842.5,355.5 853.3,354.7 865.0,354.0 C876.7,353.3 886.2,352.2 900.0,353.0 C913.8,353.8 940.0,358.0 948.0,359.0" fill="none" stroke="#3a3a3e" stroke-width="2" opacity="0.5"/>
<path d="M309.0,399.0 C317.5,399.3 342.8,400.5 360.0,401.0 C377.2,401.5 396.2,403.3 412.0,402.0 C427.8,400.7 440.3,396.8 455.0,393.0 C469.7,389.2 480.0,385.8 500.0,379.0 C520.0,372.2 555.0,359.2 575.0,352.0 C595.0,344.8 602.2,341.5 620.0,335.5 C637.8,329.5 663.3,321.9 682.0,316.0 C700.7,310.1 720.3,303.4 732.0,300.0 C743.7,296.6 742.3,297.0 752.0,295.5 C761.7,294.0 776.2,292.1 790.0,291.0 C803.8,289.9 820.0,289.3 835.0,289.0 C850.0,288.7 869.2,288.6 880.0,289.0 C890.8,289.4 889.7,290.2 900.0,291.5 C910.3,292.8 928.2,294.5 942.0,296.5 C955.8,298.5 971.7,301.3 983.0,303.5 C994.3,305.7 1002.0,307.6 1010.0,309.5 C1018.0,311.4 1027.5,314.1 1031.0,315.0 L1029,331 L1001,343 C999.2,342.6 995.3,341.8 990.0,340.5 C984.7,339.2 977.0,337.2 969.0,335.5 C961.0,333.8 951.0,331.4 942.0,330.0 C933.0,328.6 925.3,327.8 915.0,327.0 C904.7,326.2 895.8,325.0 880.0,325.0 C864.2,325.0 837.5,325.7 820.0,327.0 C802.5,328.3 790.8,330.0 775.0,333.0 C759.2,336.0 737.5,341.7 725.0,345.0 C712.5,348.3 712.5,348.3 700.0,353.0 C687.5,357.7 663.3,367.5 650.0,373.0 C636.7,378.5 632.5,381.2 620.0,386.0 C607.5,390.8 588.3,397.3 575.0,402.0 C561.7,406.7 551.5,410.5 540.0,414.0 C528.5,417.5 521.0,418.7 506.0,423.0 C491.0,427.3 468.7,435.7 450.0,440.0 C431.3,444.3 408.7,447.8 394.0,449.0 C379.3,450.2 367.3,447.3 362.0,447.0 L311,416 Z" fill="#78503a" filter="url(#noiseBrown)"/>
<clipPath id="brclip"><path d="M309.0,399.0 C317.5,399.3 342.8,400.5 360.0,401.0 C377.2,401.5 396.2,403.3 412.0,402.0 C427.8,400.7 440.3,396.8 455.0,393.0 C469.7,389.2 480.0,385.8 500.0,379.0 C520.0,372.2 555.0,359.2 575.0,352.0 C595.0,344.8 602.2,341.5 620.0,335.5 C637.8,329.5 663.3,321.9 682.0,316.0 C700.7,310.1 720.3,303.4 732.0,300.0 C743.7,296.6 742.3,297.0 752.0,295.5 C761.7,294.0 776.2,292.1 790.0,291.0 C803.8,289.9 820.0,289.3 835.0,289.0 C850.0,288.7 869.2,288.6 880.0,289.0 C890.8,289.4 889.7,290.2 900.0,291.5 C910.3,292.8 928.2,294.5 942.0,296.5 C955.8,298.5 971.7,301.3 983.0,303.5 C994.3,305.7 1002.0,307.6 1010.0,309.5 C1018.0,311.4 1027.5,314.1 1031.0,315.0 L1029,331 L1001,343 C999.2,342.6 995.3,341.8 990.0,340.5 C984.7,339.2 977.0,337.2 969.0,335.5 C961.0,333.8 951.0,331.4 942.0,330.0 C933.0,328.6 925.3,327.8 915.0,327.0 C904.7,326.2 895.8,325.0 880.0,325.0 C864.2,325.0 837.5,325.7 820.0,327.0 C802.5,328.3 790.8,330.0 775.0,333.0 C759.2,336.0 737.5,341.7 725.0,345.0 C712.5,348.3 712.5,348.3 700.0,353.0 C687.5,357.7 663.3,367.5 650.0,373.0 C636.7,378.5 632.5,381.2 620.0,386.0 C607.5,390.8 588.3,397.3 575.0,402.0 C561.7,406.7 551.5,410.5 540.0,414.0 C528.5,417.5 521.0,418.7 506.0,423.0 C491.0,427.3 468.7,435.7 450.0,440.0 C431.3,444.3 408.7,447.8 394.0,449.0 C379.3,450.2 367.3,447.3 362.0,447.0 L311,416 Z"/></clipPath>
<g clip-path="url(#brclip)"><path d="M311,416 L362,447 C367.3,447.3 379.3,450.2 394.0,449.0 C408.7,447.8 431.3,444.3 450.0,440.0 C468.7,435.7 491.0,427.3 506.0,423.0 C521.0,418.7 528.5,417.5 540.0,414.0 C551.5,410.5 561.7,406.7 575.0,402.0 C588.3,397.3 607.5,390.8 620.0,386.0 C632.5,381.2 636.7,378.5 650.0,373.0 C663.3,367.5 687.5,357.7 700.0,353.0 C712.5,348.3 712.5,348.3 725.0,345.0 C737.5,341.7 759.2,336.0 775.0,333.0 C790.8,330.0 802.5,328.3 820.0,327.0 C837.5,325.7 864.2,325.0 880.0,325.0 C895.8,325.0 904.7,326.2 915.0,327.0 C925.3,327.8 933.0,328.6 942.0,330.0 C951.0,331.4 961.0,333.8 969.0,335.5 C977.0,337.2 984.7,339.2 990.0,340.5 C995.3,341.8 994.5,344.6 1001.0,343.0 C1007.5,341.4 1024.3,333.0 1029.0,331.0" fill="none" stroke="#3a2416" stroke-width="10" opacity="0.35" filter="url(#blur3)"/></g>
<polygon points="315,419 405,482 457,492 464,571 434,576 323.5,495" fill="#ecd8b8"/>
<polygon points="406,482 457,492 464,571 435,576" fill="#eedcc0"/>
<polygon points="916.5,375 948,359 969,364 1025,337 1021,400 937,446 914,440" fill="#ecd8b8"/>
<polygon points="916.5,375 947.5,359.5 951,367 936.5,445.5 914,440" fill="#eedcc0"/>
<path d="M219,338 L307,396 L311,400 L314,425 L318,470 L323.5,514 L243,451 Q237,448 236,443 Q226,415 222,382 Z" fill="#f1efe9"/>
<clipPath id="lpclip"><path d="M219,338 L307,396 L311,400 L314,425 L318,470 L323.5,514 L243,451 Q237,448 236,443 Q226,415 222,382 Z"/></clipPath>
<g clip-path="url(#lpclip)"><path d="M219,338 L311,400 L323,514 L236,445 Z" fill="url(#panelshade)"/><path d="M219,338 L311,400 L323,514 L236,445 Z" fill="#000" filter="url(#damask)" opacity="0.45"/><path d="M219.0,338.0 L221.1,341.8 L223.3,345.7 L225.3,349.4 L227.2,353.1 L228.9,356.7 L230.4,360.2 L231.7,363.5 L232.8,366.6 L233.6,369.6 L234.1,372.4 L234.4,375.0 L234.4,377.4 L234.2,379.6 L233.7,381.7 L233.0,383.6 L232.1,385.4 L231.1,387.0 L230.0,388.6 L228.8,390.1 L227.5,391.5 L226.2,392.9 L225.0,394.4 L223.9,395.9 L222.9,397.5 L222.1,399.2 L221.4,401.1 L221.0,403.1 L220.8,405.3 L220.9,407.6 L221.2,410.2 L221.7,412.9 L222.6,415.9 L223.6,419.0 L224.9,422.4 L226.4,425.8 L228.1,429.5 L230.0,433.2 L231.9,437.1 L233.9,441.0 L236.0,445.0 M265.0,369.0 L263.6,370.6 L262.3,372.2 L261.1,373.9 L260.0,375.6 L259.1,377.5 L258.3,379.5 L257.8,381.6 L257.5,383.9 L257.5,386.3 L257.7,389.0 L258.2,391.8 L259.0,394.8 L260.0,398.0 L261.3,401.4 L262.8,405.0 L264.5,408.6 L266.3,412.4 L268.2,416.3 L270.2,420.3 L272.2,424.2 L274.3,428.2 L276.3,432.2 L278.2,436.1 L280.0,440.0 L281.6,443.7 L283.0,447.3 L284.3,450.7 L285.3,454.0 L286.0,457.1 L286.5,459.9 L286.7,462.6 L286.6,465.1 L286.4,467.4 L285.8,469.5 L285.1,471.5 L284.2,473.3 L283.2,474.9 L282.0,476.5 L280.8,478.0 L279.5,479.5 M311.0,400.0 L313.0,404.0 L315.0,408.0 L316.9,412.0 L318.7,415.8 L320.3,419.6 L321.7,423.2 L322.8,426.7 L323.8,430.0 L324.5,433.2 L324.9,436.1 L325.0,438.9 L324.9,441.5 L324.6,443.9 L324.0,446.2 L323.1,448.2 L322.1,450.2 L321.0,452.0 L319.7,453.7 L318.4,455.4 L317.0,457.0 L315.6,458.6 L314.3,460.3 L313.0,462.0 L311.9,463.7 L311.0,465.6 L310.2,467.6 L309.6,469.8 L309.3,472.2 L309.2,474.7 L309.4,477.4 L309.9,480.4 L310.6,483.5 L311.5,486.8 L312.7,490.3 L314.1,494.0 L315.6,497.8 L317.3,501.7 L319.2,505.8 L321.1,509.9 L323.0,514.0" fill="none" stroke="#d6d4ce" stroke-width="2" opacity="0.85"/></g>
<path d="M305,398 L311,400 L314,425 L318,470 L323,513 L316,508 L311,470 L307,425 Z" fill="#e2dfd8"/>
<path d="M1031,313 L1217,222 L1217,296 Q1216,306 1204,313 L1023,419 L1026,380 Z" fill="#f2f0eb"/>
<clipPath id="rpclip"><path d="M1031,313 L1217,222 L1217,296 Q1216,306 1204,313 L1023,419 L1026,380 Z"/></clipPath>
<g clip-path="url(#rpclip)"><path d="M1031,313 L1217,222 L1217,300 L1023,419 Z" fill="url(#panelshade)"/><path d="M1031,313 L1217,222 L1217,300 L1023,419 Z" fill="#000" filter="url(#damask)" opacity="0.45"/><path d="M1031.0,313.0 L1033.8,314.2 L1036.5,315.4 L1038.9,316.7 L1040.7,318.3 L1042.0,320.2 L1042.7,322.4 L1042.6,325.0 L1041.8,327.9 L1040.3,331.2 L1038.2,334.8 L1035.6,338.6 L1032.6,342.7 L1029.4,346.9 L1026.2,351.2 L1023.0,355.4 L1020.1,359.5 L1017.7,363.3 L1015.8,366.9 L1014.5,370.2 L1013.9,373.0 L1014.1,375.5 L1015.0,377.6 L1016.5,379.4 L1018.5,380.8 L1021.0,382.0 L1023.8,383.0 L1026.6,384.0 L1029.4,384.9 L1032.0,386.0 L1034.2,387.3 L1035.9,388.8 L1037.0,390.7 L1037.4,393.0 L1037.1,395.7 L1036.1,398.8 L1034.4,402.3 L1032.1,406.1 L1029.3,410.2 L1026.3,414.6 L1023.0,419.0 M1068.2,294.8 L1065.0,298.8 L1061.9,302.8 L1059.2,306.7 L1056.9,310.3 L1055.2,313.6 L1054.2,316.6 L1053.8,319.3 L1054.2,321.6 L1055.3,323.5 L1057.0,325.1 L1059.2,326.4 L1061.8,327.6 L1064.6,328.5 L1067.5,329.5 L1070.3,330.5 L1072.7,331.6 L1074.8,333.0 L1076.3,334.6 L1077.2,336.5 L1077.4,338.9 L1076.8,341.6 L1075.5,344.7 L1073.6,348.1 L1071.2,351.9 L1068.3,355.9 L1065.2,360.1 L1061.9,364.4 L1058.7,368.6 L1055.7,372.7 L1053.1,376.7 L1051.0,380.3 L1049.5,383.6 L1048.7,386.6 L1048.7,389.1 L1049.3,391.2 L1050.6,392.9 L1052.5,394.3 L1054.8,395.4 L1057.5,396.2 L1060.4,397.0 M1105.4,276.6 L1108.2,277.6 L1110.9,278.6 L1113.3,279.8 L1115.2,281.2 L1116.5,282.9 L1117.1,284.9 L1117.1,287.2 L1116.3,290.0 L1114.8,293.1 L1112.7,296.5 L1110.1,300.1 L1107.1,304.0 L1104.0,308.0 L1100.7,312.1 L1097.6,316.1 L1094.7,320.0 L1092.2,323.7 L1090.4,327.1 L1089.1,330.1 L1088.5,332.8 L1088.7,335.1 L1089.6,337.0 L1091.1,338.6 L1093.2,339.9 L1095.7,340.9 L1098.4,341.7 L1101.3,342.4 L1104.1,343.2 L1106.7,344.1 L1108.9,345.2 L1110.7,346.5 L1111.8,348.2 L1112.2,350.3 L1111.9,352.8 L1110.8,355.7 L1109.1,359.0 L1106.9,362.7 L1104.1,366.6 L1101.0,370.8 L1097.8,375.0 M1142.6,258.4 L1139.4,262.3 L1136.3,266.1 L1133.6,269.7 L1131.3,273.1 L1129.6,276.3 L1128.6,279.1 L1128.3,281.5 L1128.7,283.6 L1129.8,285.4 L1131.5,286.8 L1133.8,287.9 L1136.4,288.9 L1139.2,289.7 L1142.1,290.4 L1144.8,291.2 L1147.3,292.2 L1149.4,293.3 L1150.9,294.8 L1151.8,296.5 L1152.0,298.7 L1151.4,301.2 L1150.2,304.1 L1148.3,307.4 L1145.8,310.9 L1143.0,314.8 L1139.8,318.8 L1136.6,322.8 L1133.4,326.9 L1130.4,330.8 L1127.8,334.6 L1125.7,338.0 L1124.2,341.2 L1123.5,343.9 L1123.4,346.2 L1124.0,348.1 L1125.4,349.7 L1127.3,350.8 L1129.6,351.7 L1132.3,352.4 L1135.2,353.0 M1179.8,240.2 L1182.7,241.0 L1185.4,241.8 L1187.7,242.8 L1189.6,244.0 L1190.9,245.5 L1191.6,247.3 L1191.5,249.5 L1190.8,252.0 L1189.3,254.9 L1187.2,258.2 L1184.6,261.7 L1181.7,265.3 L1178.5,269.2 L1175.2,273.0 L1172.1,276.9 L1169.3,280.6 L1166.8,284.1 L1164.9,287.3 L1163.7,290.1 L1163.1,292.6 L1163.3,294.7 L1164.2,296.5 L1165.7,297.8 L1167.8,298.9 L1170.3,299.7 L1173.1,300.4 L1176.0,300.9 L1178.8,301.5 L1181.4,302.2 L1183.6,303.1 L1185.4,304.3 L1186.5,305.8 L1186.9,307.7 L1186.6,310.0 L1185.6,312.7 L1183.9,315.8 L1181.6,319.3 L1178.9,323.0 L1175.8,326.9 L1172.6,331.0 M1217.0,222.0 L1213.8,225.7 L1210.7,229.3 L1208.0,232.7 L1205.8,236.0 L1204.1,238.9 L1203.1,241.5 L1202.8,243.8 L1203.2,245.7 L1204.3,247.3 L1206.0,248.5 L1208.3,249.4 L1210.9,250.2 L1213.7,250.8 L1216.6,251.4 L1219.4,252.0 L1221.9,252.7 L1223.9,253.7 L1225.5,254.9 L1226.4,256.5 L1226.6,258.5 L1226.0,260.8 L1224.8,263.5 L1222.9,266.6 L1220.5,270.0 L1217.6,273.6 L1214.5,277.4 L1211.2,281.3 L1208.1,285.2 L1205.1,288.9 L1202.5,292.5 L1200.4,295.7 L1199.0,298.7 L1198.2,301.2 L1198.1,303.4 L1198.8,305.1 L1200.1,306.4 L1202.0,307.4 L1204.4,308.1 L1207.1,308.6 L1210.0,309.0" fill="none" stroke="#d3d1cb" stroke-width="2.2" opacity="0.9"/></g>
<path d="M1031,313 L1037,316 L1031,360 L1029,416 L1023,419 L1026,380 Z" fill="#e3e0d9"/>
<path d="M219,338 Q218,329 232,322 L866,153.7 Q886,147.5 906,152.9 L1210,216 Q1220,219 1216,226 L1031,313 L1031,315 C1027.5,314.1 1018.0,311.4 1010.0,309.5 C1002.0,307.6 994.3,305.7 983.0,303.5 C971.7,301.3 955.8,298.5 942.0,296.5 C928.2,294.5 910.3,292.8 900.0,291.5 C889.7,290.2 890.8,289.4 880.0,289.0 C869.2,288.6 850.0,288.7 835.0,289.0 C820.0,289.3 803.8,289.9 790.0,291.0 C776.2,292.1 761.7,294.0 752.0,295.5 C742.3,297.0 743.7,296.6 732.0,300.0 C720.3,303.4 700.7,310.1 682.0,316.0 C663.3,321.9 637.8,329.5 620.0,335.5 C602.2,341.5 595.0,344.8 575.0,352.0 C555.0,359.2 520.0,372.2 500.0,379.0 C480.0,385.8 469.7,389.2 455.0,393.0 C440.3,396.8 427.8,400.7 412.0,402.0 C396.2,403.3 377.2,401.5 360.0,401.0 C342.8,400.5 317.5,399.3 309.0,399.0 L307,396 Z" fill="#f7f6f4"/>
<path d="M219,338 Q218,329 232,322 L866,153.7 Q886,147.5 906,152.9 L1210,216 Q1220,219 1216,226 L1031,313 L1031,315 C1027.5,314.1 1018.0,311.4 1010.0,309.5 C1002.0,307.6 994.3,305.7 983.0,303.5 C971.7,301.3 955.8,298.5 942.0,296.5 C928.2,294.5 910.3,292.8 900.0,291.5 C889.7,290.2 890.8,289.4 880.0,289.0 C869.2,288.6 850.0,288.7 835.0,289.0 C820.0,289.3 803.8,289.9 790.0,291.0 C776.2,292.1 761.7,294.0 752.0,295.5 C742.3,297.0 743.7,296.6 732.0,300.0 C720.3,303.4 700.7,310.1 682.0,316.0 C663.3,321.9 637.8,329.5 620.0,335.5 C602.2,341.5 595.0,344.8 575.0,352.0 C555.0,359.2 520.0,372.2 500.0,379.0 C480.0,385.8 469.7,389.2 455.0,393.0 C440.3,396.8 427.8,400.7 412.0,402.0 C396.2,403.3 377.2,401.5 360.0,401.0 C342.8,400.5 317.5,399.3 309.0,399.0 L307,396 Z" fill="#000" filter="url(#damask)" opacity="0.45"/>
<clipPath id="topclip"><path d="M219,338 Q218,329 232,322 L866,153.7 Q886,147.5 906,152.9 L1210,216 Q1220,219 1216,226 L1031,313 L1031,315 C1027.5,314.1 1018.0,311.4 1010.0,309.5 C1002.0,307.6 994.3,305.7 983.0,303.5 C971.7,301.3 955.8,298.5 942.0,296.5 C928.2,294.5 910.3,292.8 900.0,291.5 C889.7,290.2 890.8,289.4 880.0,289.0 C869.2,288.6 850.0,288.7 835.0,289.0 C820.0,289.3 803.8,289.9 790.0,291.0 C776.2,292.1 761.7,294.0 752.0,295.5 C742.3,297.0 743.7,296.6 732.0,300.0 C720.3,303.4 700.7,310.1 682.0,316.0 C663.3,321.9 637.8,329.5 620.0,335.5 C602.2,341.5 595.0,344.8 575.0,352.0 C555.0,359.2 520.0,372.2 500.0,379.0 C480.0,385.8 469.7,389.2 455.0,393.0 C440.3,396.8 427.8,400.7 412.0,402.0 C396.2,403.3 377.2,401.5 360.0,401.0 C342.8,400.5 317.5,399.3 309.0,399.0 L307,396 Z"/></clipPath>
<filter id="soft" x="-5%" y="-5%" width="110%" height="110%"><feGaussianBlur stdDeviation="0.9"/></filter>
<g clip-path="url(#topclip)" fill="none"><path d="M219.0,336.0 L219.9,337.5 L220.5,339.1 L220.5,340.8 L219.6,342.8 L217.8,345.1 L215.1,347.7 L211.6,350.5 L207.6,353.5 L203.2,356.6 L198.9,359.7 L195.1,362.7 L191.9,365.5 L189.6,368.1 M341.3,301.7 L342.5,303.0 L343.4,304.4 L343.7,305.9 L343.3,307.7 L342.2,309.7 L340.2,311.9 L337.5,314.4 L334.3,317.0 L330.9,319.7 L327.6,322.4 L324.6,325.0 L322.2,327.5 L320.6,329.8 L319.9,331.8 L319.9,333.6 L320.6,335.2 L321.7,336.7 L322.9,338.1 L323.9,339.7 L324.5,341.4 L324.3,343.3 L323.2,345.5 L321.3,348.0 L318.5,350.8 L315.2,353.7 L311.5,356.8 L307.7,359.9 L304.2,363.0 L301.3,365.9 L299.2,368.5 L298.0,371.0 L297.7,373.1 L298.2,375.0 L299.2,376.8 L300.4,378.5 L301.6,380.2 L302.3,382.1 L302.3,384.3 L301.4,386.7 L299.5,389.5 L296.7,392.6 L293.1,395.9 L289.1,399.5 L284.9,403.1 L280.8,406.7 L277.3,410.1 L274.6,413.3 L272.9,416.2 M449.3,271.4 L450.6,272.6 L451.7,273.8 L452.3,275.2 L452.3,276.7 L451.6,278.5 L450.2,280.5 L448.2,282.6 L445.7,285.0 L443.0,287.3 L440.4,289.7 L438.1,292.0 L436.4,294.2 L435.4,296.2 L435.1,297.9 L435.5,299.5 L436.4,300.9 L437.8,302.3 L439.2,303.5 L440.5,304.9 L441.3,306.4 L441.5,308.1 L440.9,310.0 L439.6,312.2 L437.6,314.6 L435.0,317.2 L432.2,319.9 L429.3,322.6 L426.7,325.3 L424.5,327.8 L423.1,330.1 L422.4,332.2 L422.6,334.1 L423.4,335.8 L424.7,337.3 L426.2,338.8 L427.6,340.3 L428.6,342.0 L429.1,343.8 L428.7,346.0 L427.5,348.4 L425.5,351.0 L422.9,353.9 L419.8,357.0 L416.6,360.1 L413.6,363.2 L411.0,366.2 L409.2,369.0 L408.1,371.5 L407.9,373.7 L408.6,375.7 L409.8,377.5 L411.3,379.3 L412.8,381.0 L414.1,382.8 L414.7,384.9 L414.5,387.2 L413.5,389.9 L411.6,392.9 L408.8,396.2 L405.6,399.7 L402.1,403.3 L398.6,407.0 L395.5,410.5 L393.2,413.8 L391.6,416.8 L391.1,419.5 L391.4,421.9 L392.5,424.1 L394.0,426.2 L395.6,428.2 L397.1,430.3 L397.9,432.6 L398.0,435.2 L397.1,438.2 L395.3,441.6 L392.5,445.3 L389.0,449.4 L385.1,453.6 L381.2,457.9 L377.6,462.1 L374.6,466.1 L372.5,469.7 M545.1,244.5 L546.6,245.5 L547.9,246.6 L548.8,247.8 L549.1,249.2 L548.7,250.8 L547.7,252.6 L546.2,254.5 L544.3,256.6 L542.3,258.7 L540.3,260.8 L538.6,262.9 L537.3,264.8 L536.7,266.5 L536.8,268.1 L537.4,269.5 L538.6,270.7 L540.1,271.9 L541.7,273.1 L543.1,274.3 L544.2,275.6 L544.7,277.1 L544.6,278.8 L543.7,280.7 L542.3,282.8 L540.4,285.1 L538.2,287.5 L536.0,289.9 L534.0,292.2 L532.5,294.5 L531.6,296.5 L531.4,298.4 L531.9,300.0 L532.9,301.5 L534.4,302.8 L536.1,304.1 L537.7,305.5 L539.0,306.9 L539.7,308.5 L539.8,310.4 L539.1,312.5 L537.8,314.8 L535.9,317.4 L533.6,320.1 L531.2,322.8 L528.9,325.5 L527.1,328.1 L525.8,330.5 L525.4,332.7 L525.6,334.7 L526.6,336.4 L528.0,338.0 L529.8,339.5 L531.5,341.0 L533.0,342.6 L534.0,344.4 L534.3,346.4 L533.8,348.7 L532.6,351.3 L530.7,354.2 L528.3,357.2 L525.7,360.3 L523.2,363.5 L521.0,366.5 L519.4,369.4 L518.5,372.0 L518.5,374.3 L519.3,376.4 L520.7,378.3 L522.5,380.0 L524.4,381.8 L526.1,383.6 L527.3,385.6 L527.9,387.8 L527.6,390.4 L526.5,393.3 L524.7,396.5 L522.2,400.0 L519.4,403.6 L516.6,407.2 L514.0,410.8 L512.0,414.2 L510.8,417.4 L510.4,420.2 L511.0,422.7 L512.2,425.0 L514.0,427.1 L516.1,429.1 L518.0,431.1 L519.5,433.4 L520.3,435.9 L520.3,438.8 L519.4,442.1 L517.6,445.7 L515.1,449.7 L512.1,453.9 L508.9,458.2 L505.9,462.5 L503.5,466.6 L501.8,470.4 L501.1,473.8 L501.3,476.9 L502.4,479.7 L504.1,482.2 L506.3,484.6 L508.4,487.0 L510.2,489.6 L511.4,492.5 L511.6,495.7 L510.9,499.5 L509.2,503.7 L506.6,508.3 L503.4,513.2 L499.9,518.3 L496.5,523.4 L493.5,528.4 L491.3,533.1 L490.1,537.4 M630.9,220.4 L632.5,221.4 L633.9,222.3 L634.9,223.4 L635.5,224.7 L635.4,226.1 L634.8,227.7 L633.7,229.4 L632.3,231.3 L630.7,233.1 L629.2,235.0 L628.0,236.9 L627.1,238.6 L626.9,240.1 L627.2,241.5 L628.1,242.8 L629.4,243.9 L631.1,244.9 L632.8,246.0 L634.3,247.0 L635.6,248.2 L636.3,249.6 L636.5,251.1 L636.0,252.8 L635.0,254.7 L633.6,256.7 L632.0,258.8 L630.4,260.9 L628.9,263.0 L627.9,265.0 L627.4,266.8 L627.5,268.5 L628.3,269.9 L629.6,271.2 L631.2,272.4 L633.0,273.6 L634.8,274.7 L636.2,276.0 L637.2,277.5 L637.6,279.1 L637.3,281.0 L636.5,283.0 L635.1,285.3 L633.4,287.6 L631.7,290.1 L630.0,292.4 L628.8,294.7 L628.0,296.8 L628.0,298.8 L628.6,300.5 L629.8,302.0 L631.4,303.4 L633.3,304.7 L635.2,306.0 L636.9,307.4 L638.1,309.0 L638.8,310.8 L638.7,312.8 L638.0,315.1 L636.7,317.6 L635.0,320.2 L633.2,323.0 L631.4,325.7 L629.9,328.4 L628.9,330.9 L628.6,333.1 L628.9,335.2 L630.0,337.0 L631.7,338.6 L633.6,340.1 L635.7,341.6 L637.6,343.2 L639.1,344.9 L640.0,346.9 L640.3,349.1 L639.7,351.6 L638.6,354.4 L636.9,357.4 L634.9,360.6 L632.9,363.7 L631.2,366.8 L629.9,369.8 L629.3,372.5 L629.5,374.9 L630.4,377.1 L632.0,379.0 L634.0,380.8 L636.2,382.5 L638.4,384.3 L640.2,386.2 L641.4,388.4 L641.9,390.9 L641.6,393.7 L640.6,396.8 L638.9,400.2 L636.9,403.8 L634.7,407.5 L632.7,411.1 L631.2,414.6 L630.3,417.9 L630.2,420.8 L630.9,423.5 L632.4,425.8 L634.5,428.0 L636.9,430.0 L639.2,432.0 L641.4,434.2 L642.9,436.7 L643.7,439.4 L643.7,442.6 L642.8,446.1 L641.3,450.0 L639.2,454.2 L636.8,458.5 L634.6,462.8 L632.7,467.0 L631.5,471.0 L631.1,474.6 L631.6,477.8 L633.0,480.7 L635.1,483.3 M708.1,198.8 L709.8,199.6 L711.3,200.5 L712.4,201.5 L713.1,202.6 L713.3,203.9 L713.0,205.3 L712.3,206.9 L711.3,208.5 L710.1,210.2 L709.0,211.9 L708.1,213.6 L707.6,215.1 L707.6,216.5 L708.2,217.8 L709.2,218.9 L710.7,219.9 L712.4,220.8 L714.2,221.7 L715.8,222.7 L717.2,223.8 L718.1,225.0 L718.6,226.3 L718.4,227.9 L717.8,229.5 L716.8,231.4 L715.6,233.3 L714.4,235.2 L713.4,237.0 L712.8,238.8 L712.6,240.4 L713.0,241.9 L714.0,243.2 L715.4,244.3 L717.2,245.4 L719.1,246.4 L720.9,247.5 L722.5,248.6 L723.7,249.9 L724.3,251.3 L724.4,253.0 L723.9,254.8 L723.0,256.8 L721.8,258.9 L720.6,261.1 L719.4,263.2 L718.6,265.2 L718.3,267.1 L718.5,268.8 L719.4,270.3 L720.8,271.7 L722.5,272.9 L724.6,274.1 L726.6,275.2 L728.4,276.5 L729.8,277.9 L730.7,279.4 L731.0,281.2 L730.7,283.2 L729.9,285.4 L728.8,287.8 L727.5,290.2 L726.2,292.6 L725.2,294.9 L724.7,297.1 L724.8,299.1 L725.5,300.9 L726.8,302.5 L728.6,304.0 L730.7,305.3 L732.9,306.6 L735.0,308.0 L736.7,309.5 L737.9,311.2 L738.4,313.2 L738.4,315.4 L737.7,317.8 L736.6,320.4 L735.3,323.2 L733.9,325.9 L732.8,328.6 L732.1,331.2 L732.0,333.5 L732.6,335.7 L733.8,337.6 L735.6,339.3 L737.8,340.8 L740.2,342.3 L742.5,343.9 L744.4,345.5 L745.9,347.4 L746.8,349.6 L747.0,352.0 L746.5,354.7 L745.5,357.7 L744.2,360.8 L742.8,363.9 L741.5,367.1 L740.7,370.1 L740.4,372.9 L740.8,375.4 L741.9,377.7 L743.7,379.7 L745.9,381.6 L748.4,383.3 L751.0,385.1 L753.3,387.0 L755.1,389.0 L756.3,391.4 L756.8,394.1 L756.6,397.2 L755.8,400.5 L754.5,404.1 L753.0,407.8 L751.6,411.4 L750.6,415.0 L750.1,418.4 L750.3,421.4 L751.3,424.2 L753.0,426.7 L755.4,428.9 M777.9,179.2 L779.6,180.0 L781.2,180.8 L782.5,181.7 L783.3,182.7 L783.7,183.8 L783.7,185.1 L783.2,186.5 L782.5,188.0 L781.7,189.6 L780.9,191.1 L780.3,192.6 L780.1,194.0 L780.3,195.3 L781.0,196.4 L782.2,197.4 L783.8,198.3 L785.6,199.1 L787.4,200.0 L789.1,200.8 L790.6,201.8 L791.7,202.9 L792.3,204.1 L792.4,205.5 L792.1,207.0 L791.5,208.6 L790.6,210.3 L789.8,212.0 L789.1,213.7 L788.8,215.3 L788.9,216.8 L789.5,218.1 L790.7,219.2 L792.2,220.3 L794.0,221.2 L796.0,222.1 L797.9,223.1 L799.6,224.1 L800.9,225.3 L801.8,226.6 L802.1,228.0 L801.9,229.7 L801.4,231.5 L800.6,233.4 L799.7,235.3 L799.0,237.2 L798.6,239.0 L798.6,240.7 L799.1,242.2 L800.1,243.5 L801.6,244.7 L803.5,245.8 L805.6,246.9 L807.7,247.9 L809.6,249.0 L811.1,250.2 L812.2,251.6 L812.8,253.2 L812.8,255.0 L812.4,257.0 L811.7,259.1 L810.9,261.2 L810.1,263.3 L809.5,265.4 L809.4,267.4 L809.8,269.1 L810.7,270.7 L812.2,272.1 L814.1,273.4 L816.3,274.6 L818.6,275.7 L820.7,277.0 L822.6,278.3 L823.9,279.8 L824.8,281.5 L825.0,283.5 L824.8,285.6 L824.2,287.9 L823.4,290.3 L822.5,292.8 L821.9,295.2 L821.7,297.4 L821.9,299.5 L822.8,301.4 L824.2,303.0 L826.2,304.5 L828.5,305.9 L830.9,307.2 L833.3,308.5 L835.4,310.0 L837.1,311.7 L838.2,313.5 L838.8,315.7 L838.7,318.0 L838.3,320.6 L837.5,323.3 L836.7,326.1 L836.0,328.8 L835.6,331.5 L835.8,333.9 L836.5,336.1 L837.9,338.1 L839.9,339.9 L842.3,341.5 L844.9,343.0 L847.5,344.5 L850.0,346.1 L852.0,348.0 L853.5,350.0 L854.3,352.4 L854.6,355.0 L854.3,357.9 L853.7,361.0 L852.8,364.2 L852.1,367.3 L851.7,370.4 L851.7,373.3 L852.4,376.0 L853.7,378.3 L855.7,380.4 L858.2,382.4 M841.4,161.4 L843.1,162.1 L844.7,162.8 L846.1,163.6 L847.1,164.6 L847.6,165.6 L847.8,166.8 L847.6,168.1 L847.1,169.4 L846.5,170.8 L846.0,172.2 L845.7,173.6 L845.7,174.8 L846.1,176.0 L847.0,177.0 L848.3,177.9 L849.9,178.8 L851.7,179.5 L853.6,180.3 L855.4,181.1 L857.0,181.9 L858.1,182.9 L858.9,184.0 L859.2,185.3 L859.2,186.6 L858.8,188.1 L858.3,189.6 L857.8,191.2 L857.4,192.7 L857.3,194.1 L857.6,195.5 L858.4,196.6 L859.7,197.7 L861.3,198.6 L863.2,199.5 L865.2,200.3 L867.2,201.2 L868.9,202.1 L870.3,203.1 L871.3,204.3 L871.9,205.6 L872.0,207.1 L871.7,208.7 L871.3,210.4 L870.7,212.1 L870.3,213.8 L870.2,215.5 L870.4,217.0 L871.1,218.3 L872.3,219.6 L873.9,220.6 L875.9,221.6 L878.0,222.5 L880.1,223.5 L882.1,224.5 L883.8,225.6 L885.0,226.8 L885.8,228.3 L886.1,229.9 L886.0,231.6 L885.6,233.5 L885.2,235.4 L884.7,237.3 L884.5,239.1 L884.7,240.9 L885.3,242.5 L886.4,243.9 L888.1,245.1 L890.1,246.3 L892.3,247.3 L894.6,248.3 L896.8,249.4 L898.7,250.6 L900.2,252.0 L901.3,253.5 L901.8,255.2 L901.9,257.1 L901.7,259.2 L901.3,261.3 L900.8,263.5 L900.6,265.6 L900.7,267.6 L901.2,269.4 L902.3,271.1 L903.9,272.6 L906.0,273.9 L908.3,275.1 L910.8,276.2 L913.2,277.4 L915.5,278.7 L917.3,280.2 L918.6,281.9 L919.4,283.7 L919.8,285.8 L919.7,288.1 L919.4,290.5 L919.0,292.9 L918.7,295.4 L918.8,297.7 L919.3,299.8 L920.3,301.8 L921.9,303.5 L924.0,305.0 L926.4,306.4 L929.1,307.8 L931.8,309.1 L934.3,310.5 L936.5,312.1 L938.1,313.9 L939.3,316.0 L939.9,318.3 L940.0,320.8 L939.8,323.5 L939.5,326.3 L939.3,329.1 L939.3,331.7 L939.8,334.3 L940.8,336.6 L942.3,338.6 L944.5,340.5 L947.1,342.1 M899.3,145.2 L901.1,145.8 L902.7,146.4 L904.1,147.2 L905.2,148.0 L905.9,149.0 L906.2,150.1 L906.2,151.2 L906.0,152.5 L905.6,153.8 L905.3,155.0 L905.2,156.3 L905.4,157.4 L906.0,158.5 L907.0,159.4 L908.4,160.2 L910.0,161.0 L911.9,161.7 L913.8,162.4 L915.6,163.1 L917.2,163.9 L918.5,164.8 L919.4,165.8 L919.9,166.9 L920.0,168.2 L919.9,169.5 L919.6,170.9 L919.3,172.3 L919.2,173.7 L919.3,175.0 L919.9,176.2 L920.8,177.2 L922.1,178.2 L923.8,179.1 L925.7,179.8 L927.7,180.6 L929.7,181.4 L931.5,182.2 L933.0,183.1 L934.2,184.2 L934.9,185.4 L935.2,186.7 L935.2,188.2 L935.0,189.7 L934.7,191.3 L934.6,192.8 L934.7,194.3 L935.1,195.6 L936.0,196.9 L937.3,198.0 L939.0,198.9 L941.0,199.8 L943.1,200.7 L945.3,201.5 L947.3,202.4 L949.1,203.4 L950.4,204.5 L951.3,205.8 L951.9,207.3 L952.0,208.8 L951.9,210.5 L951.7,212.2 L951.6,214.0 L951.7,215.6 L952.1,217.2 L952.9,218.6 L954.2,219.9 L955.9,221.0 L957.9,222.0 L960.2,222.9 L962.5,223.9 L964.8,224.8 L966.8,225.9 L968.4,227.1 L969.6,228.5 L970.3,230.0 L970.7,231.7 L970.8,233.6 L970.6,235.5 L970.5,237.4 L970.6,239.3 L971.0,241.1 L971.7,242.7 L973.0,244.2 L974.7,245.5 L976.8,246.7 L979.2,247.8 L981.7,248.8 L984.2,249.9 L986.4,251.0 L988.4,252.3 L989.9,253.8 L990.9,255.5 L991.5,257.3 L991.7,259.3 L991.7,261.5 L991.7,263.6 L991.8,265.8 L992.1,267.8 L992.9,269.7 L994.1,271.4 L995.9,273.0 L998.0,274.3 L1000.6,275.6 L1003.3,276.8 L1006.0,277.9 L1008.5,279.2 L1010.7,280.6 L1012.6,282.2 L1013.9,284.0 L1014.8,286.1 L1015.3,288.3 L1015.5,290.6 L1015.5,293.1 L1015.7,295.5 L1016.0,297.9 L1016.8,300.1 L1018.0,302.1 L1019.8,304.0 L1022.0,305.6 L1024.7,307.0 M978.9,160.5 L980.6,161.3 L982.5,162.0 L984.6,162.7 L986.6,163.4 L988.4,164.1 L990.0,165.0 L991.2,165.9 L992.0,167.0 L992.5,168.3 L992.7,169.6 L992.8,171.0 L992.7,172.4 L992.8,173.8 L993.1,175.1 L993.7,176.3 L994.7,177.5 L996.1,178.5 L997.8,179.3 L999.9,180.1 L1002.0,180.9 L1004.2,181.7 L1006.2,182.5 L1008.0,183.4 L1009.5,184.4 L1010.5,185.6 L1011.2,186.9 L1011.6,188.3 L1011.7,189.8 L1011.8,191.4 L1011.9,192.9 L1012.2,194.4 L1012.8,195.8 L1013.7,197.1 L1015.1,198.2 L1016.9,199.3 L1019.0,200.2 L1021.2,201.0 L1023.6,201.9 L1025.8,202.7 L1027.9,203.7 L1029.6,204.8 L1030.9,206.0 L1031.8,207.4 L1032.4,209.0 L1032.7,210.6 L1032.8,212.3 L1033.0,214.1 L1033.3,215.7 L1033.9,217.3 L1034.8,218.8 L1036.2,220.1 L1038.0,221.3 L1040.2,222.4 L1042.6,223.3 L1045.1,224.3 L1047.6,225.2 L1049.8,226.2 L1051.8,227.4 L1053.4,228.7 L1054.6,230.2 L1055.4,231.9 L1055.9,233.7 L1056.2,235.6 L1056.5,237.5 L1056.8,239.4 L1057.4,241.3 L1058.4,243.0 L1059.8,244.5 L1061.6,245.9 L1063.8,247.1 L1066.4,248.2 L1069.0,249.2 L1071.8,250.3 L1074.3,251.4 L1076.6,252.7 L1078.5,254.1 L1080.0,255.7 L1081.1,257.5 L1081.8,259.5 L1082.3,261.6 L1082.7,263.8 L1083.1,265.9 L1083.8,268.0 L1084.8,270.0 L1086.2,271.8 L1088.1,273.4 L1090.4,274.8 L1093.0,276.1 M1072.1,179.6 L1074.2,180.4 L1076.4,181.2 L1078.8,182.0 L1081.0,182.8 L1083.1,183.6 L1084.8,184.6 L1086.3,185.7 L1087.3,187.0 L1088.0,188.4 L1088.5,189.9 L1088.9,191.4 L1089.3,193.0 L1089.8,194.5 L1090.5,196.0 L1091.6,197.3 L1093.1,198.5 L1095.0,199.6 L1097.1,200.5 L1099.5,201.4 L1102.0,202.2 L1104.5,203.1 L1106.8,204.0 L1108.8,205.0 L1110.5,206.2 L1111.8,207.6 L1112.8,209.1 L1113.5,210.7 L1114.0,212.4 L1114.5,214.2 L1115.0,215.9 L1115.8,217.5 L1116.9,219.0 L1118.5,220.4 L1120.4,221.6 L1122.6,222.7 L1125.1,223.7 L1127.8,224.7 L1130.5,225.6 L1133.1,226.6 L1135.4,227.7 L1137.4,229.0 L1139.0,230.4 L1140.2,232.1 L1141.1,233.8 L1141.8,235.7 L1142.5,237.6 L1143.1,239.6 L1144.0,241.4 L1145.2,243.2 L1146.7,244.8 L1148.7,246.2 L1151.0,247.5 L1153.7,248.6 M1175.5,200.8 L1178.0,201.7 L1180.6,202.6 L1183.3,203.4 L1185.8,204.3 L1188.2,205.3 L1190.2,206.5 L1191.9,207.8 L1193.3,209.2 L1194.3,210.8 L1195.2,212.5 L1196.0,214.3 L1196.9,216.0 L1197.9,217.7 L1199.2,219.2 L1200.9,220.7 L1202.9,222.0 L1205.3,223.1 L1207.9,224.1 M415.7,480.0 L422.7,480.3 L428.8,481.0 L434.1,482.0 L438.9,483.3 L443.6,484.5 L448.6,485.7 L454.2,486.6 L460.7,487.2 L468.1,487.4 L476.6,487.1 L486.0,486.5 L495.9,485.6 L506.3,484.6 L516.6,483.6 L526.5,482.7 L535.7,482.1 L544.1,481.9 L551.5,482.1 L558.0,482.7 L563.8,483.6 L568.9,484.7 L573.9,486.0 L579.0,487.2 L584.6,488.2 L590.9,488.9 L598.1,489.3 L606.3,489.2 L615.3,488.7 L625.0,487.9 M309.8,423.0 L316.5,423.1 L322.3,423.6 L327.2,424.4 L331.6,425.3 L335.8,426.4 L340.0,427.4 L344.8,428.2 L350.3,428.8 L356.8,429.1 L364.3,429.0 L372.7,428.6 L381.8,427.9 L391.3,427.1 L401.0,426.2 L410.3,425.4 L419.1,424.9 L427.2,424.6 L434.3,424.6 L440.4,425.0 L445.8,425.6 L450.5,426.6 L454.9,427.6 L459.3,428.7 L464.1,429.6 L469.5,430.3 L475.7,430.7 L482.9,430.7 L490.9,430.4 L499.7,429.8 L509.0,429.0 L518.5,428.1 L527.9,427.3 L536.8,426.6 L545.1,426.2 L552.5,426.1 L559.0,426.4 L564.8,427.0 L569.8,427.8 L574.5,428.8 L579.1,429.9 L583.9,430.9 L589.2,431.7 L595.3,432.2 L602.2,432.3 L610.0,432.1 L618.5,431.6 L627.5,430.9 L636.9,430.0 L646.2,429.1 L655.2,428.4 L663.6,427.9 L671.3,427.7 L678.2,427.8 L684.2,428.3 L689.7,429.1 L694.6,430.1 L699.4,431.2 L704.4,432.2 L709.7,433.1 L715.6,433.7 L722.3,433.9 L729.8,433.9 L738.0,433.4 L746.8,432.8 M226.5,374.7 L232.1,375.0 L236.8,375.6 L240.8,376.4 L244.6,377.2 L248.3,378.1 L252.4,378.9 L257.2,379.5 L262.8,379.8 L269.4,379.9 L276.9,379.6 L285.2,379.1 L294.0,378.4 L303.0,377.7 L311.9,377.0 L320.3,376.4 L328.1,376.0 L334.9,376.0 L340.8,376.2 L345.9,376.7 L350.3,377.4 L354.3,378.3 L358.2,379.2 L362.3,380.0 L366.9,380.7 L372.3,381.1 L378.6,381.2 L385.8,381.1 L393.8,380.6 L402.4,380.0 L411.3,379.3 L420.1,378.5 L428.7,377.9 L436.6,377.5 L443.7,377.3 L450.0,377.4 L455.4,377.8 L460.2,378.5 L464.4,379.3 L468.5,380.2 L472.7,381.1 L477.3,381.8 L482.5,382.4 L488.6,382.6 L495.5,382.5 L503.2,382.2 L511.5,381.6 L520.2,380.9 L529.0,380.1 L537.5,379.4 L545.6,378.9 L553.0,378.7 L559.6,378.7 L565.3,379.0 L570.4,379.6 L575.0,380.4 L579.2,381.3 L583.5,382.2 L588.1,383.0 L593.2,383.6 L599.1,383.9 L605.7,383.9 L613.2,383.7 L621.2,383.2 L629.7,382.5 L638.4,381.7 L646.9,381.0 L655.1,380.4 L662.7,380.1 L669.6,380.0 L675.7,380.2 L681.1,380.7 L685.9,381.5 L690.4,382.3 L694.9,383.3 L699.5,384.1 L704.6,384.8 L710.3,385.2 L716.7,385.3 L723.8,385.2 L731.6,384.7 L739.9,384.1 L748.4,383.3 L756.9,382.6 L765.2,381.9 L772.9,381.5 L780.0,381.3 L786.4,381.5 L792.1,381.9 L797.3,382.6 L802.1,383.4 L806.7,384.3 L811.4,385.2 L816.4,386.0 L822.0,386.5 L828.3,386.7 L835.2,386.6 L842.7,386.3 L850.8,385.7 M219.0,336.0 L227.4,335.4 L235.5,334.8 L243.0,334.5 L249.6,334.3 L255.4,334.4 L260.3,334.8 L264.5,335.3 L268.2,336.1 L271.7,336.8 L275.3,337.6 L279.3,338.2 L284.0,338.7 L289.5,338.8 L295.9,338.8 L303.2,338.5 L311.0,338.0 L319.3,337.4 L327.7,336.7 L335.8,336.1 L343.4,335.7 L350.4,335.5 L356.5,335.5 L361.7,335.8 L366.2,336.3 L370.2,337.0 L373.8,337.7 L377.5,338.5 L381.5,339.2 L386.1,339.7 L391.4,340.0 L397.5,340.0 L404.5,339.8 L412.1,339.3 L420.2,338.7 L428.5,338.1 L436.6,337.5 L444.4,337.0 L451.5,336.7 L457.9,336.6 L463.5,336.8 L468.3,337.2 L472.5,337.9 L476.4,338.6 L480.2,339.4 L484.2,340.1 L488.7,340.7 L493.8,341.1 L499.7,341.2 L506.4,341.0 L513.8,340.7 L521.6,340.1 L529.8,339.5 L537.9,338.8 L545.7,338.3 L553.0,337.9 L559.7,337.8 L565.5,337.9 L570.7,338.2 L575.2,338.8 L579.4,339.5 L583.3,340.3 L587.4,341.1 L591.8,341.7 L596.8,342.2 L602.4,342.4 L608.9,342.3 L616.0,342.0 L623.7,341.5 L631.6,340.9 L639.7,340.2 L647.6,339.6 L655.0,339.2 L661.8,338.9 L668.0,339.0 L673.4,339.2 L678.3,339.8 L682.6,340.4 L686.8,341.2 L690.9,342.0 L695.3,342.7 L700.2,343.2 L705.7,343.5 L711.9,343.5 L718.8,343.3 L726.3,342.8 L734.1,342.2 L742.0,341.6 L749.9,341.0 L757.4,340.5 L764.4,340.2 L770.8,340.1 L776.5,340.3 L781.7,340.7 L786.3,341.4 L790.7,342.1 L794.9,342.9 L799.4,343.7 L804.2,344.3 L809.6,344.6 L815.6,344.7 L822.2,344.6 L829.5,344.2 L837.1,343.6 L844.9,343.0 L852.7,342.3 L860.3,341.8 L867.4,341.4 L874.0,341.3 L880.0,341.4 L885.4,341.7 L890.3,342.3 L894.9,343.1 L899.3,343.8 L903.9,344.6 L908.7,345.3 L914.0,345.7 L919.8,345.9 L926.2,345.9 L933.2,345.5 L940.7,345.0 M341.3,301.7 L349.1,301.1 L356.6,300.6 L363.5,300.3 L369.7,300.2 L375.1,300.3 L379.8,300.6 L383.9,301.1 L387.5,301.7 L390.9,302.4 L394.4,303.1 L398.3,303.6 L402.8,304.0 L408.0,304.2 L414.0,304.1 L420.7,303.9 L428.0,303.4 L435.7,302.9 L443.4,302.3 L450.9,301.8 L458.0,301.4 L464.4,301.2 L470.1,301.2 L475.1,301.5 L479.4,301.9 L483.3,302.5 L486.9,303.2 L490.4,303.9 L494.3,304.5 L498.7,304.9 L503.7,305.2 L509.5,305.2 L516.0,305.0 L523.0,304.6 L530.5,304.1 L538.1,303.5 L545.6,303.0 L552.8,302.5 L559.4,302.3 L565.4,302.2 L570.7,302.4 L575.3,302.8 L579.4,303.3 L583.2,304.0 L586.9,304.7 L590.7,305.3 L595.0,305.8 L599.9,306.1 L605.4,306.2 L611.7,306.1 L618.5,305.8 L625.8,305.3 L633.3,304.7 L640.8,304.1 L648.0,303.7 L654.8,303.3 L661.0,303.2 L666.5,303.3 L671.4,303.6 L675.8,304.1 L679.8,304.8 L683.6,305.4 L687.5,306.1 L691.8,306.7 L696.5,307.1 L701.9,307.2 L707.9,307.2 L714.5,306.9 L721.6,306.5 L729.0,305.9 L736.4,305.3 L743.7,304.8 L750.6,304.4 L757.0,304.2 L762.7,304.3 L767.9,304.5 L772.5,304.9 L776.7,305.6 L780.7,306.2 L784.7,306.9 L789.0,307.5 L793.6,308.0 L798.8,308.2 L804.7,308.3 L811.1,308.0 L818.0,307.7 L825.2,307.1 L832.5,306.6 L839.8,306.0 L846.8,305.6 L853.3,305.3 L859.3,305.2 L864.7,305.4 L869.5,305.8 L874.0,306.4 L878.2,307.0 L882.3,307.7 L886.6,308.4 L891.2,308.9 L896.3,309.2 L901.9,309.3 L908.1,309.2 L914.8,308.8 L921.9,308.3 L929.1,307.8 L936.3,307.2 L943.3,306.7 L950.0,306.4 L956.1,306.3 L961.8,306.3 L966.9,306.7 L971.6,307.2 L975.9,307.8 L980.2,308.5 L984.5,309.2 L989.1,309.8 L994.2,310.2 L999.7,310.3 L1005.7,310.3 L1012.2,310.0 L1019.1,309.6 M449.3,271.4 L456.5,270.9 L463.4,270.5 L469.8,270.2 L475.7,270.1 L480.8,270.2 L485.3,270.4 L489.2,270.9 L492.7,271.4 L496.0,272.0 L499.5,272.6 L503.2,273.1 L507.5,273.5 L512.5,273.6 L518.1,273.6 L524.4,273.3 L531.2,272.9 L538.3,272.5 L545.4,272.0 L552.4,271.5 L559.0,271.2 L565.0,271.0 L570.4,271.0 L575.1,271.2 L579.3,271.6 L583.0,272.1 L586.5,272.7 L590.0,273.3 L593.7,273.9 L597.9,274.3 L602.7,274.5 L608.1,274.5 L614.2,274.3 L620.8,274.0 L627.7,273.5 L634.8,273.0 L641.8,272.5 L648.4,272.1 L654.6,271.9 L660.2,271.9 L665.2,272.0 L669.6,272.3 L673.6,272.8 L677.2,273.4 L680.8,274.0 L684.6,274.6 L688.7,275.0 L693.4,275.3 L698.6,275.4 L704.4,275.3 L710.8,275.0 L717.6,274.6 L724.6,274.1 L731.5,273.6 L738.2,273.1 L744.6,272.8 L750.4,272.7 L755.6,272.8 L760.3,273.1 L764.4,273.5 L768.3,274.1 L772.0,274.7 L775.8,275.3 L779.9,275.8 L784.4,276.1 L789.5,276.3 L795.1,276.2 L801.3,276.0 L807.9,275.6 L814.8,275.1 L821.7,274.6 L828.4,274.2 L834.9,273.8 L840.8,273.6 L846.3,273.7 L851.1,273.9 L855.6,274.3 L859.6,274.8 L863.5,275.4 L867.4,276.0 L871.4,276.6 L875.9,277.0 L880.8,277.2 L886.3,277.2 L892.3,277.0 L898.7,276.7 L905.4,276.2 L912.2,275.7 L919.0,275.2 L925.5,274.8 L931.6,274.6 L937.2,274.5 L942.3,274.7 L947.0,275.0 L951.2,275.5 L955.2,276.1 L959.2,276.7 L963.3,277.3 L967.7,277.7 L972.6,278.0 L977.9,278.1 L983.7,278.0 L990.0,277.7 L996.5,277.3 L1003.3,276.8 L1010.0,276.3 L1016.5,275.8 L1022.7,275.5 L1028.5,275.4 L1033.8,275.5 L1038.6,275.8 L1043.1,276.2 L1047.3,276.8 L1051.4,277.4 L1055.6,278.0 L1060.0,278.5 L1064.7,278.9 L1069.9,279.0 L1075.6,279.0 L1081.7,278.7 L1088.1,278.3 M545.1,244.5 L551.9,244.1 L558.3,243.7 L564.4,243.4 L569.8,243.3 L574.7,243.4 L579.0,243.6 L582.7,244.0 L586.2,244.5 L589.4,245.1 L592.8,245.6 L596.5,246.0 L600.6,246.3 L605.3,246.5 L610.6,246.4 L616.5,246.2 L622.8,245.9 L629.4,245.4 L636.1,245.0 L642.6,244.6 L648.7,244.3 L654.4,244.1 L659.5,244.1 L664.0,244.3 L668.0,244.7 L671.6,245.1 L675.0,245.7 L678.4,246.2 L682.0,246.7 L686.1,247.0 L690.6,247.2 L695.7,247.2 L701.4,247.1 L707.6,246.8 L714.0,246.4 L720.6,245.9 L727.1,245.5 L733.4,245.1 L739.2,244.9 L744.5,244.9 L749.2,245.0 L753.4,245.3 L757.2,245.8 L760.8,246.3 L764.3,246.8 L767.9,247.3 L771.9,247.7 L776.3,248.0 L781.3,248.1 L786.8,247.9 L792.8,247.7 L799.1,247.3 L805.6,246.9 L812.1,246.4 L818.4,246.0 L824.3,245.8 L829.8,245.7 L834.7,245.7 L839.1,246.0 L843.1,246.4 L846.9,246.9 L850.5,247.4 L854.2,248.0 L858.1,248.4 L862.4,248.7 L867.2,248.8 L872.5,248.8 L878.3,248.6 L884.5,248.2 L890.9,247.8 L897.4,247.3 L903.7,246.9 L909.7,246.6 L915.3,246.5 L920.4,246.5 L925.1,246.7 L929.3,247.0 L933.2,247.5 L936.9,248.0 L940.7,248.6 L944.6,249.1 L948.9,249.4 L953.5,249.6 L958.7,249.6 L964.3,249.5 L970.4,249.2 L976.6,248.7 L983.0,248.3 L989.3,247.9 L995.4,247.5 L1001.1,247.3 L1006.4,247.3 L1011.3,247.4 L1015.7,247.7 L1019.8,248.1 L1023.6,248.7 L1027.5,249.2 L1031.4,249.7 L1035.7,250.1 L1040.2,250.4 L1045.3,250.5 L1050.8,250.3 L1056.6,250.1 L1062.8,249.7 L1069.0,249.2 L1075.3,248.8 L1081.4,248.4 L1087.3,248.1 L1092.7,248.0 L1097.7,248.1 L1102.3,248.4 L1106.6,248.8 L1110.6,249.3 L1114.6,249.8 L1118.6,250.4 L1122.8,250.8 L1127.3,251.1 L1132.2,251.3 L1137.6,251.2 L1143.3,251.0 L1149.3,250.6 M630.9,220.4 L637.2,220.0 L643.3,219.7 L648.9,219.5 L654.1,219.4 L658.7,219.4 L662.8,219.7 L666.5,220.0 L669.8,220.5 L673.0,220.9 L676.3,221.4 L679.8,221.8 L683.7,222.1 L688.2,222.2 L693.2,222.2 L698.8,222.0 L704.7,221.7 L710.9,221.3 L717.1,220.9 L723.2,220.5 L729.0,220.2 L734.4,220.1 L739.2,220.1 L743.5,220.3 L747.3,220.6 L750.8,221.0 L754.1,221.5 L757.5,222.0 L761.0,222.4 L764.8,222.7 L769.2,222.9 L774.0,222.9 L779.4,222.7 L785.2,222.5 L791.2,222.1 L797.4,221.7 L803.5,221.3 L809.4,221.0 L814.8,220.8 L819.8,220.8 L824.3,220.9 L828.4,221.2 L832.1,221.6 L835.5,222.0 L838.9,222.5 L842.4,223.0 L846.2,223.3 L850.5,223.5 L855.2,223.6 L860.4,223.5 L866.0,223.3 L871.9,222.9 L878.0,222.5 L884.1,222.1 L890.0,221.8 L895.6,221.6 L900.7,221.5 L905.4,221.5 L909.7,221.8 L913.5,222.1 L917.1,222.6 L920.6,223.1 L924.2,223.5 L928.0,223.9 L932.1,224.2 L936.7,224.3 L941.7,224.3 L947.2,224.1 L953.0,223.8 L959.0,223.4 L965.0,223.0 L970.9,222.6 L976.6,222.3 L981.9,222.2 L986.7,222.2 L991.2,222.4 L995.2,222.7 L999.0,223.1 L1002.6,223.6 L1006.2,224.1 L1010.0,224.5 L1014.1,224.8 L1018.5,225.0 L1023.4,225.0 L1028.7,224.9 L1034.4,224.6 L1040.3,224.2 L1046.2,223.8 L1052.2,223.4 L1057.9,223.1 L1063.3,222.9 L1068.3,222.9 L1072.9,223.0 L1077.1,223.3 L1081.0,223.7 L1084.8,224.1 L1088.5,224.6 L1092.3,225.1 L1096.3,225.4 L1100.7,225.7 L1105.5,225.7 L1110.6,225.7 L1116.2,225.4 L1121.9,225.1 L1127.8,224.7 L1133.7,224.3 L1139.4,223.9 L1144.9,223.7 L1150.1,223.6 L1154.8,223.7 L1159.2,223.9 L1163.3,224.2 L1167.2,224.7 L1171.0,225.2 L1174.8,225.7 L1178.9,226.1 L1183.2,226.3 L1187.9,226.5 L1192.9,226.4 L1198.3,226.2 L1203.9,225.9 M708.1,198.8 L714.0,198.4 L719.7,198.1 L725.0,197.9 L730.0,197.8 L734.4,197.9 L738.3,198.1 L741.8,198.4 L745.0,198.8 L748.1,199.2 L751.3,199.7 L754.7,200.0 L758.6,200.3 L762.8,200.4 L767.6,200.3 L772.8,200.2 L778.4,199.9 L784.2,199.5 L790.1,199.2 L795.8,198.8 L801.3,198.6 L806.3,198.5 L810.9,198.5 L815.0,198.6 L818.7,198.9 L822.1,199.3 L825.3,199.7 L828.5,200.2 L832.0,200.5 L835.7,200.8 L839.8,201.0 L844.4,201.0 L849.5,200.9 L855.0,200.6 L860.7,200.3 L866.5,199.9 L872.2,199.6 L877.7,199.3 L882.9,199.1 L887.6,199.1 L891.9,199.2 L895.8,199.4 L899.3,199.8 L902.7,200.2 L906.0,200.6 L909.4,201.1 L913.1,201.4 L917.1,201.6 L921.6,201.6 L926.5,201.6 L931.8,201.3 L937.4,201.0 L943.1,200.7 L948.9,200.3 L954.4,200.0 L959.7,199.8 L964.6,199.7 L969.0,199.8 L973.1,200.0 L976.8,200.3 L980.3,200.7 L983.7,201.1 L987.1,201.6 L990.8,201.9 L994.7,202.2 L999.1,202.3 L1003.9,202.2 L1009.0,202.1 L1014.5,201.8 L1020.1,201.4 L1025.8,201.1 L1031.4,200.7 L1036.7,200.5 L1041.7,200.3 L1046.4,200.4 L1050.6,200.5 L1054.5,200.8 L1058.1,201.2 L1061.6,201.6 L1065.1,202.1 L1068.7,202.4 L1072.6,202.7 L1076.9,202.9 L1081.5,202.9 L1086.6,202.8 L1091.9,202.5 L1097.4,202.2 L1103.1,201.8 L1108.6,201.5 L1114.0,201.2 L1119.1,201.0 L1123.9,201.0 L1128.3,201.1 L1132.3,201.3 L1136.1,201.7 L1139.7,202.1 L1143.3,202.5 L1146.9,203.0 L1150.8,203.3 L1155.0,203.5 L1159.5,203.5 L1164.4,203.5 L1169.6,203.2 L1175.1,202.9 L1180.6,202.6 L1186.2,202.2 L1191.6,201.9 M777.9,179.2 L783.5,178.9 L788.8,178.6 L793.9,178.4 L798.6,178.3 L802.8,178.4 L806.5,178.6 L809.9,178.9 L813.1,179.2 L816.1,179.6 L819.2,180.0 L822.5,180.3 L826.2,180.5 L830.3,180.6 L834.8,180.6 L839.8,180.4 L845.0,180.2 L850.5,179.9 L856.0,179.5 L861.5,179.2 L866.6,179.0 L871.4,178.9 L875.8,178.9 L879.7,179.1 L883.3,179.3 L886.5,179.7 L889.7,180.0 L892.8,180.4 L896.1,180.8 L899.7,181.0 L903.7,181.2 L908.1,181.2 L912.9,181.1 L918.0,180.9 L923.4,180.6 L928.9,180.2 L934.3,179.9 L939.5,179.7 L944.4,179.5 L948.9,179.5 L953.0,179.6 L956.8,179.8 L960.2,180.1 L963.4,180.5 L966.7,180.9 L970.0,181.2 L973.5,181.5 L977.4,181.7 L981.7,181.8 L986.3,181.7 L991.3,181.5 L996.6,181.2 L1002.0,180.9 L1007.4,180.6 L1012.7,180.3 L1017.7,180.1 L1022.3,180.0 L1026.6,180.1 L1030.4,180.3 L1034.0,180.6 L1037.4,180.9 L1040.7,181.3 L1044.0,181.7 L1047.5,182.0 L1051.3,182.2 L1055.5,182.3 L1060.1,182.3 L1064.9,182.2 L1070.1,181.9 L1075.4,181.6 L1080.8,181.2 L1086.1,180.9 L1091.1,180.7 M841.4,161.4 L846.6,161.1 L851.7,160.9 L856.5,160.7 L860.9,160.6 L865.0,160.7 L868.6,160.8 L871.9,161.1 L874.9,161.4 L877.9,161.8 L880.9,162.1 L884.1,162.4 L887.7,162.6 L891.6,162.7 L895.9,162.7 L900.6,162.5 L905.6,162.3 L910.8,162.0 L916.0,161.7 L921.1,161.4 L926.0,161.2 L930.6,161.1 L934.7,161.1 L938.5,161.3 L941.9,161.5 L945.1,161.8 L948.2,162.2 L951.2,162.5 L954.4,162.8 L957.9,163.1 L961.7,163.2 L965.9,163.2 L970.5,163.1 L975.4,162.9 L980.5,162.6 L985.6,162.3 L990.8,162.0 L995.7,161.8 M899.3,145.2 L904.3,144.9 L909.1,144.7" stroke="#d2d0ca" stroke-width="3.4" opacity="0.8" filter="url(#soft)"/><path d="M219.0,336.0 L219.9,337.5 L220.5,339.1 L220.5,340.8 L219.6,342.8 L217.8,345.1 L215.1,347.7 L211.6,350.5 L207.6,353.5 L203.2,356.6 L198.9,359.7 L195.1,362.7 L191.9,365.5 L189.6,368.1 M341.3,301.7 L342.5,303.0 L343.4,304.4 L343.7,305.9 L343.3,307.7 L342.2,309.7 L340.2,311.9 L337.5,314.4 L334.3,317.0 L330.9,319.7 L327.6,322.4 L324.6,325.0 L322.2,327.5 L320.6,329.8 L319.9,331.8 L319.9,333.6 L320.6,335.2 L321.7,336.7 L322.9,338.1 L323.9,339.7 L324.5,341.4 L324.3,343.3 L323.2,345.5 L321.3,348.0 L318.5,350.8 L315.2,353.7 L311.5,356.8 L307.7,359.9 L304.2,363.0 L301.3,365.9 L299.2,368.5 L298.0,371.0 L297.7,373.1 L298.2,375.0 L299.2,376.8 L300.4,378.5 L301.6,380.2 L302.3,382.1 L302.3,384.3 L301.4,386.7 L299.5,389.5 L296.7,392.6 L293.1,395.9 L289.1,399.5 L284.9,403.1 L280.8,406.7 L277.3,410.1 L274.6,413.3 L272.9,416.2 M449.3,271.4 L450.6,272.6 L451.7,273.8 L452.3,275.2 L452.3,276.7 L451.6,278.5 L450.2,280.5 L448.2,282.6 L445.7,285.0 L443.0,287.3 L440.4,289.7 L438.1,292.0 L436.4,294.2 L435.4,296.2 L435.1,297.9 L435.5,299.5 L436.4,300.9 L437.8,302.3 L439.2,303.5 L440.5,304.9 L441.3,306.4 L441.5,308.1 L440.9,310.0 L439.6,312.2 L437.6,314.6 L435.0,317.2 L432.2,319.9 L429.3,322.6 L426.7,325.3 L424.5,327.8 L423.1,330.1 L422.4,332.2 L422.6,334.1 L423.4,335.8 L424.7,337.3 L426.2,338.8 L427.6,340.3 L428.6,342.0 L429.1,343.8 L428.7,346.0 L427.5,348.4 L425.5,351.0 L422.9,353.9 L419.8,357.0 L416.6,360.1 L413.6,363.2 L411.0,366.2 L409.2,369.0 L408.1,371.5 L407.9,373.7 L408.6,375.7 L409.8,377.5 L411.3,379.3 L412.8,381.0 L414.1,382.8 L414.7,384.9 L414.5,387.2 L413.5,389.9 L411.6,392.9 L408.8,396.2 L405.6,399.7 L402.1,403.3 L398.6,407.0 L395.5,410.5 L393.2,413.8 L391.6,416.8 L391.1,419.5 L391.4,421.9 L392.5,424.1 L394.0,426.2 L395.6,428.2 L397.1,430.3 L397.9,432.6 L398.0,435.2 L397.1,438.2 L395.3,441.6 L392.5,445.3 L389.0,449.4 L385.1,453.6 L381.2,457.9 L377.6,462.1 L374.6,466.1 L372.5,469.7 M545.1,244.5 L546.6,245.5 L547.9,246.6 L548.8,247.8 L549.1,249.2 L548.7,250.8 L547.7,252.6 L546.2,254.5 L544.3,256.6 L542.3,258.7 L540.3,260.8 L538.6,262.9 L537.3,264.8 L536.7,266.5 L536.8,268.1 L537.4,269.5 L538.6,270.7 L540.1,271.9 L541.7,273.1 L543.1,274.3 L544.2,275.6 L544.7,277.1 L544.6,278.8 L543.7,280.7 L542.3,282.8 L540.4,285.1 L538.2,287.5 L536.0,289.9 L534.0,292.2 L532.5,294.5 L531.6,296.5 L531.4,298.4 L531.9,300.0 L532.9,301.5 L534.4,302.8 L536.1,304.1 L537.7,305.5 L539.0,306.9 L539.7,308.5 L539.8,310.4 L539.1,312.5 L537.8,314.8 L535.9,317.4 L533.6,320.1 L531.2,322.8 L528.9,325.5 L527.1,328.1 L525.8,330.5 L525.4,332.7 L525.6,334.7 L526.6,336.4 L528.0,338.0 L529.8,339.5 L531.5,341.0 L533.0,342.6 L534.0,344.4 L534.3,346.4 L533.8,348.7 L532.6,351.3 L530.7,354.2 L528.3,357.2 L525.7,360.3 L523.2,363.5 L521.0,366.5 L519.4,369.4 L518.5,372.0 L518.5,374.3 L519.3,376.4 L520.7,378.3 L522.5,380.0 L524.4,381.8 L526.1,383.6 L527.3,385.6 L527.9,387.8 L527.6,390.4 L526.5,393.3 L524.7,396.5 L522.2,400.0 L519.4,403.6 L516.6,407.2 L514.0,410.8 L512.0,414.2 L510.8,417.4 L510.4,420.2 L511.0,422.7 L512.2,425.0 L514.0,427.1 L516.1,429.1 L518.0,431.1 L519.5,433.4 L520.3,435.9 L520.3,438.8 L519.4,442.1 L517.6,445.7 L515.1,449.7 L512.1,453.9 L508.9,458.2 L505.9,462.5 L503.5,466.6 L501.8,470.4 L501.1,473.8 L501.3,476.9 L502.4,479.7 L504.1,482.2 L506.3,484.6 L508.4,487.0 L510.2,489.6 L511.4,492.5 L511.6,495.7 L510.9,499.5 L509.2,503.7 L506.6,508.3 L503.4,513.2 L499.9,518.3 L496.5,523.4 L493.5,528.4 L491.3,533.1 L490.1,537.4 M630.9,220.4 L632.5,221.4 L633.9,222.3 L634.9,223.4 L635.5,224.7 L635.4,226.1 L634.8,227.7 L633.7,229.4 L632.3,231.3 L630.7,233.1 L629.2,235.0 L628.0,236.9 L627.1,238.6 L626.9,240.1 L627.2,241.5 L628.1,242.8 L629.4,243.9 L631.1,244.9 L632.8,246.0 L634.3,247.0 L635.6,248.2 L636.3,249.6 L636.5,251.1 L636.0,252.8 L635.0,254.7 L633.6,256.7 L632.0,258.8 L630.4,260.9 L628.9,263.0 L627.9,265.0 L627.4,266.8 L627.5,268.5 L628.3,269.9 L629.6,271.2 L631.2,272.4 L633.0,273.6 L634.8,274.7 L636.2,276.0 L637.2,277.5 L637.6,279.1 L637.3,281.0 L636.5,283.0 L635.1,285.3 L633.4,287.6 L631.7,290.1 L630.0,292.4 L628.8,294.7 L628.0,296.8 L628.0,298.8 L628.6,300.5 L629.8,302.0 L631.4,303.4 L633.3,304.7 L635.2,306.0 L636.9,307.4 L638.1,309.0 L638.8,310.8 L638.7,312.8 L638.0,315.1 L636.7,317.6 L635.0,320.2 L633.2,323.0 L631.4,325.7 L629.9,328.4 L628.9,330.9 L628.6,333.1 L628.9,335.2 L630.0,337.0 L631.7,338.6 L633.6,340.1 L635.7,341.6 L637.6,343.2 L639.1,344.9 L640.0,346.9 L640.3,349.1 L639.7,351.6 L638.6,354.4 L636.9,357.4 L634.9,360.6 L632.9,363.7 L631.2,366.8 L629.9,369.8 L629.3,372.5 L629.5,374.9 L630.4,377.1 L632.0,379.0 L634.0,380.8 L636.2,382.5 L638.4,384.3 L640.2,386.2 L641.4,388.4 L641.9,390.9 L641.6,393.7 L640.6,396.8 L638.9,400.2 L636.9,403.8 L634.7,407.5 L632.7,411.1 L631.2,414.6 L630.3,417.9 L630.2,420.8 L630.9,423.5 L632.4,425.8 L634.5,428.0 L636.9,430.0 L639.2,432.0 L641.4,434.2 L642.9,436.7 L643.7,439.4 L643.7,442.6 L642.8,446.1 L641.3,450.0 L639.2,454.2 L636.8,458.5 L634.6,462.8 L632.7,467.0 L631.5,471.0 L631.1,474.6 L631.6,477.8 L633.0,480.7 L635.1,483.3 M708.1,198.8 L709.8,199.6 L711.3,200.5 L712.4,201.5 L713.1,202.6 L713.3,203.9 L713.0,205.3 L712.3,206.9 L711.3,208.5 L710.1,210.2 L709.0,211.9 L708.1,213.6 L707.6,215.1 L707.6,216.5 L708.2,217.8 L709.2,218.9 L710.7,219.9 L712.4,220.8 L714.2,221.7 L715.8,222.7 L717.2,223.8 L718.1,225.0 L718.6,226.3 L718.4,227.9 L717.8,229.5 L716.8,231.4 L715.6,233.3 L714.4,235.2 L713.4,237.0 L712.8,238.8 L712.6,240.4 L713.0,241.9 L714.0,243.2 L715.4,244.3 L717.2,245.4 L719.1,246.4 L720.9,247.5 L722.5,248.6 L723.7,249.9 L724.3,251.3 L724.4,253.0 L723.9,254.8 L723.0,256.8 L721.8,258.9 L720.6,261.1 L719.4,263.2 L718.6,265.2 L718.3,267.1 L718.5,268.8 L719.4,270.3 L720.8,271.7 L722.5,272.9 L724.6,274.1 L726.6,275.2 L728.4,276.5 L729.8,277.9 L730.7,279.4 L731.0,281.2 L730.7,283.2 L729.9,285.4 L728.8,287.8 L727.5,290.2 L726.2,292.6 L725.2,294.9 L724.7,297.1 L724.8,299.1 L725.5,300.9 L726.8,302.5 L728.6,304.0 L730.7,305.3 L732.9,306.6 L735.0,308.0 L736.7,309.5 L737.9,311.2 L738.4,313.2 L738.4,315.4 L737.7,317.8 L736.6,320.4 L735.3,323.2 L733.9,325.9 L732.8,328.6 L732.1,331.2 L732.0,333.5 L732.6,335.7 L733.8,337.6 L735.6,339.3 L737.8,340.8 L740.2,342.3 L742.5,343.9 L744.4,345.5 L745.9,347.4 L746.8,349.6 L747.0,352.0 L746.5,354.7 L745.5,357.7 L744.2,360.8 L742.8,363.9 L741.5,367.1 L740.7,370.1 L740.4,372.9 L740.8,375.4 L741.9,377.7 L743.7,379.7 L745.9,381.6 L748.4,383.3 L751.0,385.1 L753.3,387.0 L755.1,389.0 L756.3,391.4 L756.8,394.1 L756.6,397.2 L755.8,400.5 L754.5,404.1 L753.0,407.8 L751.6,411.4 L750.6,415.0 L750.1,418.4 L750.3,421.4 L751.3,424.2 L753.0,426.7 L755.4,428.9 M777.9,179.2 L779.6,180.0 L781.2,180.8 L782.5,181.7 L783.3,182.7 L783.7,183.8 L783.7,185.1 L783.2,186.5 L782.5,188.0 L781.7,189.6 L780.9,191.1 L780.3,192.6 L780.1,194.0 L780.3,195.3 L781.0,196.4 L782.2,197.4 L783.8,198.3 L785.6,199.1 L787.4,200.0 L789.1,200.8 L790.6,201.8 L791.7,202.9 L792.3,204.1 L792.4,205.5 L792.1,207.0 L791.5,208.6 L790.6,210.3 L789.8,212.0 L789.1,213.7 L788.8,215.3 L788.9,216.8 L789.5,218.1 L790.7,219.2 L792.2,220.3 L794.0,221.2 L796.0,222.1 L797.9,223.1 L799.6,224.1 L800.9,225.3 L801.8,226.6 L802.1,228.0 L801.9,229.7 L801.4,231.5 L800.6,233.4 L799.7,235.3 L799.0,237.2 L798.6,239.0 L798.6,240.7 L799.1,242.2 L800.1,243.5 L801.6,244.7 L803.5,245.8 L805.6,246.9 L807.7,247.9 L809.6,249.0 L811.1,250.2 L812.2,251.6 L812.8,253.2 L812.8,255.0 L812.4,257.0 L811.7,259.1 L810.9,261.2 L810.1,263.3 L809.5,265.4 L809.4,267.4 L809.8,269.1 L810.7,270.7 L812.2,272.1 L814.1,273.4 L816.3,274.6 L818.6,275.7 L820.7,277.0 L822.6,278.3 L823.9,279.8 L824.8,281.5 L825.0,283.5 L824.8,285.6 L824.2,287.9 L823.4,290.3 L822.5,292.8 L821.9,295.2 L821.7,297.4 L821.9,299.5 L822.8,301.4 L824.2,303.0 L826.2,304.5 L828.5,305.9 L830.9,307.2 L833.3,308.5 L835.4,310.0 L837.1,311.7 L838.2,313.5 L838.8,315.7 L838.7,318.0 L838.3,320.6 L837.5,323.3 L836.7,326.1 L836.0,328.8 L835.6,331.5 L835.8,333.9 L836.5,336.1 L837.9,338.1 L839.9,339.9 L842.3,341.5 L844.9,343.0 L847.5,344.5 L850.0,346.1 L852.0,348.0 L853.5,350.0 L854.3,352.4 L854.6,355.0 L854.3,357.9 L853.7,361.0 L852.8,364.2 L852.1,367.3 L851.7,370.4 L851.7,373.3 L852.4,376.0 L853.7,378.3 L855.7,380.4 L858.2,382.4 M841.4,161.4 L843.1,162.1 L844.7,162.8 L846.1,163.6 L847.1,164.6 L847.6,165.6 L847.8,166.8 L847.6,168.1 L847.1,169.4 L846.5,170.8 L846.0,172.2 L845.7,173.6 L845.7,174.8 L846.1,176.0 L847.0,177.0 L848.3,177.9 L849.9,178.8 L851.7,179.5 L853.6,180.3 L855.4,181.1 L857.0,181.9 L858.1,182.9 L858.9,184.0 L859.2,185.3 L859.2,186.6 L858.8,188.1 L858.3,189.6 L857.8,191.2 L857.4,192.7 L857.3,194.1 L857.6,195.5 L858.4,196.6 L859.7,197.7 L861.3,198.6 L863.2,199.5 L865.2,200.3 L867.2,201.2 L868.9,202.1 L870.3,203.1 L871.3,204.3 L871.9,205.6 L872.0,207.1 L871.7,208.7 L871.3,210.4 L870.7,212.1 L870.3,213.8 L870.2,215.5 L870.4,217.0 L871.1,218.3 L872.3,219.6 L873.9,220.6 L875.9,221.6 L878.0,222.5 L880.1,223.5 L882.1,224.5 L883.8,225.6 L885.0,226.8 L885.8,228.3 L886.1,229.9 L886.0,231.6 L885.6,233.5 L885.2,235.4 L884.7,237.3 L884.5,239.1 L884.7,240.9 L885.3,242.5 L886.4,243.9 L888.1,245.1 L890.1,246.3 L892.3,247.3 L894.6,248.3 L896.8,249.4 L898.7,250.6 L900.2,252.0 L901.3,253.5 L901.8,255.2 L901.9,257.1 L901.7,259.2 L901.3,261.3 L900.8,263.5 L900.6,265.6 L900.7,267.6 L901.2,269.4 L902.3,271.1 L903.9,272.6 L906.0,273.9 L908.3,275.1 L910.8,276.2 L913.2,277.4 L915.5,278.7 L917.3,280.2 L918.6,281.9 L919.4,283.7 L919.8,285.8 L919.7,288.1 L919.4,290.5 L919.0,292.9 L918.7,295.4 L918.8,297.7 L919.3,299.8 L920.3,301.8 L921.9,303.5 L924.0,305.0 L926.4,306.4 L929.1,307.8 L931.8,309.1 L934.3,310.5 L936.5,312.1 L938.1,313.9 L939.3,316.0 L939.9,318.3 L940.0,320.8 L939.8,323.5 L939.5,326.3 L939.3,329.1 L939.3,331.7 L939.8,334.3 L940.8,336.6 L942.3,338.6 L944.5,340.5 L947.1,342.1 M899.3,145.2 L901.1,145.8 L902.7,146.4 L904.1,147.2 L905.2,148.0 L905.9,149.0 L906.2,150.1 L906.2,151.2 L906.0,152.5 L905.6,153.8 L905.3,155.0 L905.2,156.3 L905.4,157.4 L906.0,158.5 L907.0,159.4 L908.4,160.2 L910.0,161.0 L911.9,161.7 L913.8,162.4 L915.6,163.1 L917.2,163.9 L918.5,164.8 L919.4,165.8 L919.9,166.9 L920.0,168.2 L919.9,169.5 L919.6,170.9 L919.3,172.3 L919.2,173.7 L919.3,175.0 L919.9,176.2 L920.8,177.2 L922.1,178.2 L923.8,179.1 L925.7,179.8 L927.7,180.6 L929.7,181.4 L931.5,182.2 L933.0,183.1 L934.2,184.2 L934.9,185.4 L935.2,186.7 L935.2,188.2 L935.0,189.7 L934.7,191.3 L934.6,192.8 L934.7,194.3 L935.1,195.6 L936.0,196.9 L937.3,198.0 L939.0,198.9 L941.0,199.8 L943.1,200.7 L945.3,201.5 L947.3,202.4 L949.1,203.4 L950.4,204.5 L951.3,205.8 L951.9,207.3 L952.0,208.8 L951.9,210.5 L951.7,212.2 L951.6,214.0 L951.7,215.6 L952.1,217.2 L952.9,218.6 L954.2,219.9 L955.9,221.0 L957.9,222.0 L960.2,222.9 L962.5,223.9 L964.8,224.8 L966.8,225.9 L968.4,227.1 L969.6,228.5 L970.3,230.0 L970.7,231.7 L970.8,233.6 L970.6,235.5 L970.5,237.4 L970.6,239.3 L971.0,241.1 L971.7,242.7 L973.0,244.2 L974.7,245.5 L976.8,246.7 L979.2,247.8 L981.7,248.8 L984.2,249.9 L986.4,251.0 L988.4,252.3 L989.9,253.8 L990.9,255.5 L991.5,257.3 L991.7,259.3 L991.7,261.5 L991.7,263.6 L991.8,265.8 L992.1,267.8 L992.9,269.7 L994.1,271.4 L995.9,273.0 L998.0,274.3 L1000.6,275.6 L1003.3,276.8 L1006.0,277.9 L1008.5,279.2 L1010.7,280.6 L1012.6,282.2 L1013.9,284.0 L1014.8,286.1 L1015.3,288.3 L1015.5,290.6 L1015.5,293.1 L1015.7,295.5 L1016.0,297.9 L1016.8,300.1 L1018.0,302.1 L1019.8,304.0 L1022.0,305.6 L1024.7,307.0 M978.9,160.5 L980.6,161.3 L982.5,162.0 L984.6,162.7 L986.6,163.4 L988.4,164.1 L990.0,165.0 L991.2,165.9 L992.0,167.0 L992.5,168.3 L992.7,169.6 L992.8,171.0 L992.7,172.4 L992.8,173.8 L993.1,175.1 L993.7,176.3 L994.7,177.5 L996.1,178.5 L997.8,179.3 L999.9,180.1 L1002.0,180.9 L1004.2,181.7 L1006.2,182.5 L1008.0,183.4 L1009.5,184.4 L1010.5,185.6 L1011.2,186.9 L1011.6,188.3 L1011.7,189.8 L1011.8,191.4 L1011.9,192.9 L1012.2,194.4 L1012.8,195.8 L1013.7,197.1 L1015.1,198.2 L1016.9,199.3 L1019.0,200.2 L1021.2,201.0 L1023.6,201.9 L1025.8,202.7 L1027.9,203.7 L1029.6,204.8 L1030.9,206.0 L1031.8,207.4 L1032.4,209.0 L1032.7,210.6 L1032.8,212.3 L1033.0,214.1 L1033.3,215.7 L1033.9,217.3 L1034.8,218.8 L1036.2,220.1 L1038.0,221.3 L1040.2,222.4 L1042.6,223.3 L1045.1,224.3 L1047.6,225.2 L1049.8,226.2 L1051.8,227.4 L1053.4,228.7 L1054.6,230.2 L1055.4,231.9 L1055.9,233.7 L1056.2,235.6 L1056.5,237.5 L1056.8,239.4 L1057.4,241.3 L1058.4,243.0 L1059.8,244.5 L1061.6,245.9 L1063.8,247.1 L1066.4,248.2 L1069.0,249.2 L1071.8,250.3 L1074.3,251.4 L1076.6,252.7 L1078.5,254.1 L1080.0,255.7 L1081.1,257.5 L1081.8,259.5 L1082.3,261.6 L1082.7,263.8 L1083.1,265.9 L1083.8,268.0 L1084.8,270.0 L1086.2,271.8 L1088.1,273.4 L1090.4,274.8 L1093.0,276.1 M1072.1,179.6 L1074.2,180.4 L1076.4,181.2 L1078.8,182.0 L1081.0,182.8 L1083.1,183.6 L1084.8,184.6 L1086.3,185.7 L1087.3,187.0 L1088.0,188.4 L1088.5,189.9 L1088.9,191.4 L1089.3,193.0 L1089.8,194.5 L1090.5,196.0 L1091.6,197.3 L1093.1,198.5 L1095.0,199.6 L1097.1,200.5 L1099.5,201.4 L1102.0,202.2 L1104.5,203.1 L1106.8,204.0 L1108.8,205.0 L1110.5,206.2 L1111.8,207.6 L1112.8,209.1 L1113.5,210.7 L1114.0,212.4 L1114.5,214.2 L1115.0,215.9 L1115.8,217.5 L1116.9,219.0 L1118.5,220.4 L1120.4,221.6 L1122.6,222.7 L1125.1,223.7 L1127.8,224.7 L1130.5,225.6 L1133.1,226.6 L1135.4,227.7 L1137.4,229.0 L1139.0,230.4 L1140.2,232.1 L1141.1,233.8 L1141.8,235.7 L1142.5,237.6 L1143.1,239.6 L1144.0,241.4 L1145.2,243.2 L1146.7,244.8 L1148.7,246.2 L1151.0,247.5 L1153.7,248.6 M1175.5,200.8 L1178.0,201.7 L1180.6,202.6 L1183.3,203.4 L1185.8,204.3 L1188.2,205.3 L1190.2,206.5 L1191.9,207.8 L1193.3,209.2 L1194.3,210.8 L1195.2,212.5 L1196.0,214.3 L1196.9,216.0 L1197.9,217.7 L1199.2,219.2 L1200.9,220.7 L1202.9,222.0 L1205.3,223.1 L1207.9,224.1 M415.7,480.0 L422.7,480.3 L428.8,481.0 L434.1,482.0 L438.9,483.3 L443.6,484.5 L448.6,485.7 L454.2,486.6 L460.7,487.2 L468.1,487.4 L476.6,487.1 L486.0,486.5 L495.9,485.6 L506.3,484.6 L516.6,483.6 L526.5,482.7 L535.7,482.1 L544.1,481.9 L551.5,482.1 L558.0,482.7 L563.8,483.6 L568.9,484.7 L573.9,486.0 L579.0,487.2 L584.6,488.2 L590.9,488.9 L598.1,489.3 L606.3,489.2 L615.3,488.7 L625.0,487.9 M309.8,423.0 L316.5,423.1 L322.3,423.6 L327.2,424.4 L331.6,425.3 L335.8,426.4 L340.0,427.4 L344.8,428.2 L350.3,428.8 L356.8,429.1 L364.3,429.0 L372.7,428.6 L381.8,427.9 L391.3,427.1 L401.0,426.2 L410.3,425.4 L419.1,424.9 L427.2,424.6 L434.3,424.6 L440.4,425.0 L445.8,425.6 L450.5,426.6 L454.9,427.6 L459.3,428.7 L464.1,429.6 L469.5,430.3 L475.7,430.7 L482.9,430.7 L490.9,430.4 L499.7,429.8 L509.0,429.0 L518.5,428.1 L527.9,427.3 L536.8,426.6 L545.1,426.2 L552.5,426.1 L559.0,426.4 L564.8,427.0 L569.8,427.8 L574.5,428.8 L579.1,429.9 L583.9,430.9 L589.2,431.7 L595.3,432.2 L602.2,432.3 L610.0,432.1 L618.5,431.6 L627.5,430.9 L636.9,430.0 L646.2,429.1 L655.2,428.4 L663.6,427.9 L671.3,427.7 L678.2,427.8 L684.2,428.3 L689.7,429.1 L694.6,430.1 L699.4,431.2 L704.4,432.2 L709.7,433.1 L715.6,433.7 L722.3,433.9 L729.8,433.9 L738.0,433.4 L746.8,432.8 M226.5,374.7 L232.1,375.0 L236.8,375.6 L240.8,376.4 L244.6,377.2 L248.3,378.1 L252.4,378.9 L257.2,379.5 L262.8,379.8 L269.4,379.9 L276.9,379.6 L285.2,379.1 L294.0,378.4 L303.0,377.7 L311.9,377.0 L320.3,376.4 L328.1,376.0 L334.9,376.0 L340.8,376.2 L345.9,376.7 L350.3,377.4 L354.3,378.3 L358.2,379.2 L362.3,380.0 L366.9,380.7 L372.3,381.1 L378.6,381.2 L385.8,381.1 L393.8,380.6 L402.4,380.0 L411.3,379.3 L420.1,378.5 L428.7,377.9 L436.6,377.5 L443.7,377.3 L450.0,377.4 L455.4,377.8 L460.2,378.5 L464.4,379.3 L468.5,380.2 L472.7,381.1 L477.3,381.8 L482.5,382.4 L488.6,382.6 L495.5,382.5 L503.2,382.2 L511.5,381.6 L520.2,380.9 L529.0,380.1 L537.5,379.4 L545.6,378.9 L553.0,378.7 L559.6,378.7 L565.3,379.0 L570.4,379.6 L575.0,380.4 L579.2,381.3 L583.5,382.2 L588.1,383.0 L593.2,383.6 L599.1,383.9 L605.7,383.9 L613.2,383.7 L621.2,383.2 L629.7,382.5 L638.4,381.7 L646.9,381.0 L655.1,380.4 L662.7,380.1 L669.6,380.0 L675.7,380.2 L681.1,380.7 L685.9,381.5 L690.4,382.3 L694.9,383.3 L699.5,384.1 L704.6,384.8 L710.3,385.2 L716.7,385.3 L723.8,385.2 L731.6,384.7 L739.9,384.1 L748.4,383.3 L756.9,382.6 L765.2,381.9 L772.9,381.5 L780.0,381.3 L786.4,381.5 L792.1,381.9 L797.3,382.6 L802.1,383.4 L806.7,384.3 L811.4,385.2 L816.4,386.0 L822.0,386.5 L828.3,386.7 L835.2,386.6 L842.7,386.3 L850.8,385.7 M219.0,336.0 L227.4,335.4 L235.5,334.8 L243.0,334.5 L249.6,334.3 L255.4,334.4 L260.3,334.8 L264.5,335.3 L268.2,336.1 L271.7,336.8 L275.3,337.6 L279.3,338.2 L284.0,338.7 L289.5,338.8 L295.9,338.8 L303.2,338.5 L311.0,338.0 L319.3,337.4 L327.7,336.7 L335.8,336.1 L343.4,335.7 L350.4,335.5 L356.5,335.5 L361.7,335.8 L366.2,336.3 L370.2,337.0 L373.8,337.7 L377.5,338.5 L381.5,339.2 L386.1,339.7 L391.4,340.0 L397.5,340.0 L404.5,339.8 L412.1,339.3 L420.2,338.7 L428.5,338.1 L436.6,337.5 L444.4,337.0 L451.5,336.7 L457.9,336.6 L463.5,336.8 L468.3,337.2 L472.5,337.9 L476.4,338.6 L480.2,339.4 L484.2,340.1 L488.7,340.7 L493.8,341.1 L499.7,341.2 L506.4,341.0 L513.8,340.7 L521.6,340.1 L529.8,339.5 L537.9,338.8 L545.7,338.3 L553.0,337.9 L559.7,337.8 L565.5,337.9 L570.7,338.2 L575.2,338.8 L579.4,339.5 L583.3,340.3 L587.4,341.1 L591.8,341.7 L596.8,342.2 L602.4,342.4 L608.9,342.3 L616.0,342.0 L623.7,341.5 L631.6,340.9 L639.7,340.2 L647.6,339.6 L655.0,339.2 L661.8,338.9 L668.0,339.0 L673.4,339.2 L678.3,339.8 L682.6,340.4 L686.8,341.2 L690.9,342.0 L695.3,342.7 L700.2,343.2 L705.7,343.5 L711.9,343.5 L718.8,343.3 L726.3,342.8 L734.1,342.2 L742.0,341.6 L749.9,341.0 L757.4,340.5 L764.4,340.2 L770.8,340.1 L776.5,340.3 L781.7,340.7 L786.3,341.4 L790.7,342.1 L794.9,342.9 L799.4,343.7 L804.2,344.3 L809.6,344.6 L815.6,344.7 L822.2,344.6 L829.5,344.2 L837.1,343.6 L844.9,343.0 L852.7,342.3 L860.3,341.8 L867.4,341.4 L874.0,341.3 L880.0,341.4 L885.4,341.7 L890.3,342.3 L894.9,343.1 L899.3,343.8 L903.9,344.6 L908.7,345.3 L914.0,345.7 L919.8,345.9 L926.2,345.9 L933.2,345.5 L940.7,345.0 M341.3,301.7 L349.1,301.1 L356.6,300.6 L363.5,300.3 L369.7,300.2 L375.1,300.3 L379.8,300.6 L383.9,301.1 L387.5,301.7 L390.9,302.4 L394.4,303.1 L398.3,303.6 L402.8,304.0 L408.0,304.2 L414.0,304.1 L420.7,303.9 L428.0,303.4 L435.7,302.9 L443.4,302.3 L450.9,301.8 L458.0,301.4 L464.4,301.2 L470.1,301.2 L475.1,301.5 L479.4,301.9 L483.3,302.5 L486.9,303.2 L490.4,303.9 L494.3,304.5 L498.7,304.9 L503.7,305.2 L509.5,305.2 L516.0,305.0 L523.0,304.6 L530.5,304.1 L538.1,303.5 L545.6,303.0 L552.8,302.5 L559.4,302.3 L565.4,302.2 L570.7,302.4 L575.3,302.8 L579.4,303.3 L583.2,304.0 L586.9,304.7 L590.7,305.3 L595.0,305.8 L599.9,306.1 L605.4,306.2 L611.7,306.1 L618.5,305.8 L625.8,305.3 L633.3,304.7 L640.8,304.1 L648.0,303.7 L654.8,303.3 L661.0,303.2 L666.5,303.3 L671.4,303.6 L675.8,304.1 L679.8,304.8 L683.6,305.4 L687.5,306.1 L691.8,306.7 L696.5,307.1 L701.9,307.2 L707.9,307.2 L714.5,306.9 L721.6,306.5 L729.0,305.9 L736.4,305.3 L743.7,304.8 L750.6,304.4 L757.0,304.2 L762.7,304.3 L767.9,304.5 L772.5,304.9 L776.7,305.6 L780.7,306.2 L784.7,306.9 L789.0,307.5 L793.6,308.0 L798.8,308.2 L804.7,308.3 L811.1,308.0 L818.0,307.7 L825.2,307.1 L832.5,306.6 L839.8,306.0 L846.8,305.6 L853.3,305.3 L859.3,305.2 L864.7,305.4 L869.5,305.8 L874.0,306.4 L878.2,307.0 L882.3,307.7 L886.6,308.4 L891.2,308.9 L896.3,309.2 L901.9,309.3 L908.1,309.2 L914.8,308.8 L921.9,308.3 L929.1,307.8 L936.3,307.2 L943.3,306.7 L950.0,306.4 L956.1,306.3 L961.8,306.3 L966.9,306.7 L971.6,307.2 L975.9,307.8 L980.2,308.5 L984.5,309.2 L989.1,309.8 L994.2,310.2 L999.7,310.3 L1005.7,310.3 L1012.2,310.0 L1019.1,309.6 M449.3,271.4 L456.5,270.9 L463.4,270.5 L469.8,270.2 L475.7,270.1 L480.8,270.2 L485.3,270.4 L489.2,270.9 L492.7,271.4 L496.0,272.0 L499.5,272.6 L503.2,273.1 L507.5,273.5 L512.5,273.6 L518.1,273.6 L524.4,273.3 L531.2,272.9 L538.3,272.5 L545.4,272.0 L552.4,271.5 L559.0,271.2 L565.0,271.0 L570.4,271.0 L575.1,271.2 L579.3,271.6 L583.0,272.1 L586.5,272.7 L590.0,273.3 L593.7,273.9 L597.9,274.3 L602.7,274.5 L608.1,274.5 L614.2,274.3 L620.8,274.0 L627.7,273.5 L634.8,273.0 L641.8,272.5 L648.4,272.1 L654.6,271.9 L660.2,271.9 L665.2,272.0 L669.6,272.3 L673.6,272.8 L677.2,273.4 L680.8,274.0 L684.6,274.6 L688.7,275.0 L693.4,275.3 L698.6,275.4 L704.4,275.3 L710.8,275.0 L717.6,274.6 L724.6,274.1 L731.5,273.6 L738.2,273.1 L744.6,272.8 L750.4,272.7 L755.6,272.8 L760.3,273.1 L764.4,273.5 L768.3,274.1 L772.0,274.7 L775.8,275.3 L779.9,275.8 L784.4,276.1 L789.5,276.3 L795.1,276.2 L801.3,276.0 L807.9,275.6 L814.8,275.1 L821.7,274.6 L828.4,274.2 L834.9,273.8 L840.8,273.6 L846.3,273.7 L851.1,273.9 L855.6,274.3 L859.6,274.8 L863.5,275.4 L867.4,276.0 L871.4,276.6 L875.9,277.0 L880.8,277.2 L886.3,277.2 L892.3,277.0 L898.7,276.7 L905.4,276.2 L912.2,275.7 L919.0,275.2 L925.5,274.8 L931.6,274.6 L937.2,274.5 L942.3,274.7 L947.0,275.0 L951.2,275.5 L955.2,276.1 L959.2,276.7 L963.3,277.3 L967.7,277.7 L972.6,278.0 L977.9,278.1 L983.7,278.0 L990.0,277.7 L996.5,277.3 L1003.3,276.8 L1010.0,276.3 L1016.5,275.8 L1022.7,275.5 L1028.5,275.4 L1033.8,275.5 L1038.6,275.8 L1043.1,276.2 L1047.3,276.8 L1051.4,277.4 L1055.6,278.0 L1060.0,278.5 L1064.7,278.9 L1069.9,279.0 L1075.6,279.0 L1081.7,278.7 L1088.1,278.3 M545.1,244.5 L551.9,244.1 L558.3,243.7 L564.4,243.4 L569.8,243.3 L574.7,243.4 L579.0,243.6 L582.7,244.0 L586.2,244.5 L589.4,245.1 L592.8,245.6 L596.5,246.0 L600.6,246.3 L605.3,246.5 L610.6,246.4 L616.5,246.2 L622.8,245.9 L629.4,245.4 L636.1,245.0 L642.6,244.6 L648.7,244.3 L654.4,244.1 L659.5,244.1 L664.0,244.3 L668.0,244.7 L671.6,245.1 L675.0,245.7 L678.4,246.2 L682.0,246.7 L686.1,247.0 L690.6,247.2 L695.7,247.2 L701.4,247.1 L707.6,246.8 L714.0,246.4 L720.6,245.9 L727.1,245.5 L733.4,245.1 L739.2,244.9 L744.5,244.9 L749.2,245.0 L753.4,245.3 L757.2,245.8 L760.8,246.3 L764.3,246.8 L767.9,247.3 L771.9,247.7 L776.3,248.0 L781.3,248.1 L786.8,247.9 L792.8,247.7 L799.1,247.3 L805.6,246.9 L812.1,246.4 L818.4,246.0 L824.3,245.8 L829.8,245.7 L834.7,245.7 L839.1,246.0 L843.1,246.4 L846.9,246.9 L850.5,247.4 L854.2,248.0 L858.1,248.4 L862.4,248.7 L867.2,248.8 L872.5,248.8 L878.3,248.6 L884.5,248.2 L890.9,247.8 L897.4,247.3 L903.7,246.9 L909.7,246.6 L915.3,246.5 L920.4,246.5 L925.1,246.7 L929.3,247.0 L933.2,247.5 L936.9,248.0 L940.7,248.6 L944.6,249.1 L948.9,249.4 L953.5,249.6 L958.7,249.6 L964.3,249.5 L970.4,249.2 L976.6,248.7 L983.0,248.3 L989.3,247.9 L995.4,247.5 L1001.1,247.3 L1006.4,247.3 L1011.3,247.4 L1015.7,247.7 L1019.8,248.1 L1023.6,248.7 L1027.5,249.2 L1031.4,249.7 L1035.7,250.1 L1040.2,250.4 L1045.3,250.5 L1050.8,250.3 L1056.6,250.1 L1062.8,249.7 L1069.0,249.2 L1075.3,248.8 L1081.4,248.4 L1087.3,248.1 L1092.7,248.0 L1097.7,248.1 L1102.3,248.4 L1106.6,248.8 L1110.6,249.3 L1114.6,249.8 L1118.6,250.4 L1122.8,250.8 L1127.3,251.1 L1132.2,251.3 L1137.6,251.2 L1143.3,251.0 L1149.3,250.6 M630.9,220.4 L637.2,220.0 L643.3,219.7 L648.9,219.5 L654.1,219.4 L658.7,219.4 L662.8,219.7 L666.5,220.0 L669.8,220.5 L673.0,220.9 L676.3,221.4 L679.8,221.8 L683.7,222.1 L688.2,222.2 L693.2,222.2 L698.8,222.0 L704.7,221.7 L710.9,221.3 L717.1,220.9 L723.2,220.5 L729.0,220.2 L734.4,220.1 L739.2,220.1 L743.5,220.3 L747.3,220.6 L750.8,221.0 L754.1,221.5 L757.5,222.0 L761.0,222.4 L764.8,222.7 L769.2,222.9 L774.0,222.9 L779.4,222.7 L785.2,222.5 L791.2,222.1 L797.4,221.7 L803.5,221.3 L809.4,221.0 L814.8,220.8 L819.8,220.8 L824.3,220.9 L828.4,221.2 L832.1,221.6 L835.5,222.0 L838.9,222.5 L842.4,223.0 L846.2,223.3 L850.5,223.5 L855.2,223.6 L860.4,223.5 L866.0,223.3 L871.9,222.9 L878.0,222.5 L884.1,222.1 L890.0,221.8 L895.6,221.6 L900.7,221.5 L905.4,221.5 L909.7,221.8 L913.5,222.1 L917.1,222.6 L920.6,223.1 L924.2,223.5 L928.0,223.9 L932.1,224.2 L936.7,224.3 L941.7,224.3 L947.2,224.1 L953.0,223.8 L959.0,223.4 L965.0,223.0 L970.9,222.6 L976.6,222.3 L981.9,222.2 L986.7,222.2 L991.2,222.4 L995.2,222.7 L999.0,223.1 L1002.6,223.6 L1006.2,224.1 L1010.0,224.5 L1014.1,224.8 L1018.5,225.0 L1023.4,225.0 L1028.7,224.9 L1034.4,224.6 L1040.3,224.2 L1046.2,223.8 L1052.2,223.4 L1057.9,223.1 L1063.3,222.9 L1068.3,222.9 L1072.9,223.0 L1077.1,223.3 L1081.0,223.7 L1084.8,224.1 L1088.5,224.6 L1092.3,225.1 L1096.3,225.4 L1100.7,225.7 L1105.5,225.7 L1110.6,225.7 L1116.2,225.4 L1121.9,225.1 L1127.8,224.7 L1133.7,224.3 L1139.4,223.9 L1144.9,223.7 L1150.1,223.6 L1154.8,223.7 L1159.2,223.9 L1163.3,224.2 L1167.2,224.7 L1171.0,225.2 L1174.8,225.7 L1178.9,226.1 L1183.2,226.3 L1187.9,226.5 L1192.9,226.4 L1198.3,226.2 L1203.9,225.9 M708.1,198.8 L714.0,198.4 L719.7,198.1 L725.0,197.9 L730.0,197.8 L734.4,197.9 L738.3,198.1 L741.8,198.4 L745.0,198.8 L748.1,199.2 L751.3,199.7 L754.7,200.0 L758.6,200.3 L762.8,200.4 L767.6,200.3 L772.8,200.2 L778.4,199.9 L784.2,199.5 L790.1,199.2 L795.8,198.8 L801.3,198.6 L806.3,198.5 L810.9,198.5 L815.0,198.6 L818.7,198.9 L822.1,199.3 L825.3,199.7 L828.5,200.2 L832.0,200.5 L835.7,200.8 L839.8,201.0 L844.4,201.0 L849.5,200.9 L855.0,200.6 L860.7,200.3 L866.5,199.9 L872.2,199.6 L877.7,199.3 L882.9,199.1 L887.6,199.1 L891.9,199.2 L895.8,199.4 L899.3,199.8 L902.7,200.2 L906.0,200.6 L909.4,201.1 L913.1,201.4 L917.1,201.6 L921.6,201.6 L926.5,201.6 L931.8,201.3 L937.4,201.0 L943.1,200.7 L948.9,200.3 L954.4,200.0 L959.7,199.8 L964.6,199.7 L969.0,199.8 L973.1,200.0 L976.8,200.3 L980.3,200.7 L983.7,201.1 L987.1,201.6 L990.8,201.9 L994.7,202.2 L999.1,202.3 L1003.9,202.2 L1009.0,202.1 L1014.5,201.8 L1020.1,201.4 L1025.8,201.1 L1031.4,200.7 L1036.7,200.5 L1041.7,200.3 L1046.4,200.4 L1050.6,200.5 L1054.5,200.8 L1058.1,201.2 L1061.6,201.6 L1065.1,202.1 L1068.7,202.4 L1072.6,202.7 L1076.9,202.9 L1081.5,202.9 L1086.6,202.8 L1091.9,202.5 L1097.4,202.2 L1103.1,201.8 L1108.6,201.5 L1114.0,201.2 L1119.1,201.0 L1123.9,201.0 L1128.3,201.1 L1132.3,201.3 L1136.1,201.7 L1139.7,202.1 L1143.3,202.5 L1146.9,203.0 L1150.8,203.3 L1155.0,203.5 L1159.5,203.5 L1164.4,203.5 L1169.6,203.2 L1175.1,202.9 L1180.6,202.6 L1186.2,202.2 L1191.6,201.9 M777.9,179.2 L783.5,178.9 L788.8,178.6 L793.9,178.4 L798.6,178.3 L802.8,178.4 L806.5,178.6 L809.9,178.9 L813.1,179.2 L816.1,179.6 L819.2,180.0 L822.5,180.3 L826.2,180.5 L830.3,180.6 L834.8,180.6 L839.8,180.4 L845.0,180.2 L850.5,179.9 L856.0,179.5 L861.5,179.2 L866.6,179.0 L871.4,178.9 L875.8,178.9 L879.7,179.1 L883.3,179.3 L886.5,179.7 L889.7,180.0 L892.8,180.4 L896.1,180.8 L899.7,181.0 L903.7,181.2 L908.1,181.2 L912.9,181.1 L918.0,180.9 L923.4,180.6 L928.9,180.2 L934.3,179.9 L939.5,179.7 L944.4,179.5 L948.9,179.5 L953.0,179.6 L956.8,179.8 L960.2,180.1 L963.4,180.5 L966.7,180.9 L970.0,181.2 L973.5,181.5 L977.4,181.7 L981.7,181.8 L986.3,181.7 L991.3,181.5 L996.6,181.2 L1002.0,180.9 L1007.4,180.6 L1012.7,180.3 L1017.7,180.1 L1022.3,180.0 L1026.6,180.1 L1030.4,180.3 L1034.0,180.6 L1037.4,180.9 L1040.7,181.3 L1044.0,181.7 L1047.5,182.0 L1051.3,182.2 L1055.5,182.3 L1060.1,182.3 L1064.9,182.2 L1070.1,181.9 L1075.4,181.6 L1080.8,181.2 L1086.1,180.9 L1091.1,180.7 M841.4,161.4 L846.6,161.1 L851.7,160.9 L856.5,160.7 L860.9,160.6 L865.0,160.7 L868.6,160.8 L871.9,161.1 L874.9,161.4 L877.9,161.8 L880.9,162.1 L884.1,162.4 L887.7,162.6 L891.6,162.7 L895.9,162.7 L900.6,162.5 L905.6,162.3 L910.8,162.0 L916.0,161.7 L921.1,161.4 L926.0,161.2 L930.6,161.1 L934.7,161.1 L938.5,161.3 L941.9,161.5 L945.1,161.8 L948.2,162.2 L951.2,162.5 L954.4,162.8 L957.9,163.1 L961.7,163.2 L965.9,163.2 L970.5,163.1 L975.4,162.9 L980.5,162.6 L985.6,162.3 L990.8,162.0 L995.7,161.8 M899.3,145.2 L904.3,144.9 L909.1,144.7" stroke="#d6d4ce" stroke-width="1.1" opacity="0.9"/></g>
<path d="M309.0,399.0 C317.5,399.3 342.8,400.5 360.0,401.0 C377.2,401.5 396.2,403.3 412.0,402.0 C427.8,400.7 440.3,396.8 455.0,393.0 C469.7,389.2 480.0,385.8 500.0,379.0 C520.0,372.2 555.0,359.2 575.0,352.0 C595.0,344.8 602.2,341.5 620.0,335.5 C637.8,329.5 663.3,321.9 682.0,316.0 C700.7,310.1 720.3,303.4 732.0,300.0 C743.7,296.6 742.3,297.0 752.0,295.5 C761.7,294.0 776.2,292.1 790.0,291.0 C803.8,289.9 820.0,289.3 835.0,289.0 C850.0,288.7 869.2,288.6 880.0,289.0 C890.8,289.4 889.7,290.2 900.0,291.5 C910.3,292.8 928.2,294.5 942.0,296.5 C955.8,298.5 971.7,301.3 983.0,303.5 C994.3,305.7 1002.0,307.6 1010.0,309.5 C1018.0,311.4 1027.5,314.1 1031.0,315.0 L1031.0,308.0 C1027.5,307.1 1018.0,304.4 1010.0,302.5 C1002.0,300.6 994.3,298.7 983.0,296.5 C971.7,294.3 955.8,291.5 942.0,289.5 C928.2,287.5 910.3,285.8 900.0,284.5 C889.7,283.2 890.8,282.4 880.0,282.0 C869.2,281.6 850.0,281.7 835.0,282.0 C820.0,282.3 803.8,282.9 790.0,284.0 C776.2,285.1 761.7,287.0 752.0,288.5 C742.3,290.0 743.7,289.6 732.0,293.0 C720.3,296.4 700.7,303.1 682.0,309.0 C663.3,314.9 637.8,322.5 620.0,328.5 C602.2,334.5 595.0,337.8 575.0,345.0 C555.0,352.2 520.0,365.2 500.0,372.0 C480.0,378.8 469.7,382.2 455.0,386.0 C440.3,389.8 427.8,393.7 412.0,395.0 C396.2,396.3 377.2,394.5 360.0,394.0 C342.8,393.5 317.5,392.3 309.0,392.0 Z" fill="#fbfbfa"/>
<path d="M309.0,392.0 C317.5,392.3 342.8,393.5 360.0,394.0 C377.2,394.5 396.2,396.3 412.0,395.0 C427.8,393.7 440.3,389.8 455.0,386.0 C469.7,382.2 480.0,378.8 500.0,372.0 C520.0,365.2 555.0,352.2 575.0,345.0 C595.0,337.8 602.2,334.5 620.0,328.5 C637.8,322.5 663.3,314.9 682.0,309.0 C700.7,303.1 720.3,296.4 732.0,293.0 C743.7,289.6 742.3,290.0 752.0,288.5 C761.7,287.0 776.2,285.1 790.0,284.0 C803.8,282.9 820.0,282.3 835.0,282.0 C850.0,281.7 869.2,281.6 880.0,282.0 C890.8,282.4 889.7,283.2 900.0,284.5 C910.3,285.8 928.2,287.5 942.0,289.5 C955.8,291.5 971.7,294.3 983.0,296.5 C994.3,298.7 1002.0,300.6 1010.0,302.5 C1018.0,304.4 1027.5,307.1 1031.0,308.0" fill="none" stroke="#d2d0ca" stroke-width="1.2"/>
<path d="M309.0,399.0 C317.5,399.3 342.8,400.5 360.0,401.0 C377.2,401.5 396.2,403.3 412.0,402.0 C427.8,400.7 440.3,396.8 455.0,393.0 C469.7,389.2 480.0,385.8 500.0,379.0 C520.0,372.2 555.0,359.2 575.0,352.0 C595.0,344.8 602.2,341.5 620.0,335.5 C637.8,329.5 663.3,321.9 682.0,316.0 C700.7,310.1 720.3,303.4 732.0,300.0 C743.7,296.6 742.3,297.0 752.0,295.5 C761.7,294.0 776.2,292.1 790.0,291.0 C803.8,289.9 820.0,289.3 835.0,289.0 C850.0,288.7 869.2,288.6 880.0,289.0 C890.8,289.4 889.7,290.2 900.0,291.5 C910.3,292.8 928.2,294.5 942.0,296.5 C955.8,298.5 971.7,301.3 983.0,303.5 C994.3,305.7 1002.0,307.6 1010.0,309.5 C1018.0,311.4 1027.5,314.1 1031.0,315.0" fill="none" stroke="#e3e2de" stroke-width="1"/>
<path d="M307,396 L225,341 Q214,333 232,322 L866,153.7 Q886,147.5 906,152.9 L1210,216 Q1222,220 1214,227 L1031,313" fill="none" stroke="#969696" stroke-width="3" stroke-linejoin="round" stroke-linecap="round"/>
<path d="M307,396 L225,341 Q214,333 232,322 L866,153.7 Q886,147.5 906,152.9 L1210,216 Q1222,220 1214,227 L1031,313" fill="none" stroke="#cfcfcf" stroke-width="2.4" stroke-dasharray="0.9 1.5" opacity="0.55"/>
<polygon points="239,358 293,391 290,425 237,390" fill="#fbfbfb"/>
<polygon points="289,389 293,391 290,425 287,420" fill="#d8d8d8"/>
<g transform="translate(248,375.5) rotate(33.5)"><g stroke="#3a3a80" stroke-width="0.9"><line x1="-5" y1="-6" x2="-1" y2="-6"/><line x1="-5" y1="-4" x2="-1" y2="-4"/><line x1="-5" y1="-2" x2="-1" y2="-2"/><line x1="-5" y1="0" x2="-1" y2="0"/></g><text x="0" y="0" font-size="8.5" fill="#2d2d72" font-weight="bold" textLength="25" lengthAdjust="spacingAndGlyphs">Dream</text><text x="25.5" y="0" font-size="8.5" fill="#2d2d72" textLength="16" lengthAdjust="spacingAndGlyphs">Line</text><text x="4" y="6" font-size="3.2" fill="#d0508a" textLength="26" lengthAdjust="spacingAndGlyphs">Comfortable sleep</text></g>
<line x1="317.8" y1="242" x2="317.8" y2="311" stroke="#f6a23a" stroke-width="1.7" stroke-dasharray="1.7 2.4"/>
<line x1="523.9" y1="177.5" x2="523.9" y2="374" stroke="#f6a23a" stroke-width="1.7" stroke-dasharray="1.7 2.4"/>
<line x1="733.8" y1="128" x2="733.8" y2="346" stroke="#f6a23a" stroke-width="1.7" stroke-dasharray="1.7 2.4"/>
<line x1="786" y1="438" x2="1039" y2="522.5" stroke="#f6a23a" stroke-width="1.7" stroke-dasharray="1.7 2.4"/>
<line x1="764" y1="554" x2="828" y2="602" stroke="#f6a23a" stroke-width="1.7" stroke-dasharray="1.7 2.4"/>
<circle cx="317.8" cy="323.9" r="20" fill="url(#glow)"/>
<circle cx="317.8" cy="323.9" r="6.1" fill="#ff8a00"/>
<circle cx="523.8" cy="386.3" r="20" fill="url(#glow)"/>
<circle cx="523.8" cy="386.3" r="6.1" fill="#ff8a00"/>
<circle cx="733.8" cy="358" r="20" fill="url(#glow)"/>
<circle cx="733.8" cy="358" r="6.1" fill="#ff8a00"/>
<circle cx="774" cy="434" r="20" fill="url(#glow)"/>
<circle cx="774" cy="434" r="6.1" fill="#ff8a00"/>
<circle cx="753.8" cy="546" r="20" fill="url(#glow)"/>
<circle cx="753.8" cy="546" r="6.1" fill="#ff8a00"/>
<text x="269.8" y="236.7" font-size="21" fill="#787878" textLength="97" lengthAdjust="spacingAndGlyphs">Чехол Lux</text>
<text x="438.5" y="172.5" font-size="21" fill="#787878" textLength="169.5" lengthAdjust="spacingAndGlyphs">Кокосовая койра</text>
<text x="666.5" y="123.4" font-size="21" fill="#787878" textLength="134.5" lengthAdjust="spacingAndGlyphs">Термовойлок</text>
<text x="951" y="587.7" font-size="21" fill="#787878" textLength="248.5" lengthAdjust="spacingAndGlyphs">Пружинный блок Bonnel</text>
<text x="790" y="678" font-size="21" fill="#787878" textLength="137.5" lengthAdjust="spacingAndGlyphs">Холлофайбер</text>
<text x="70.2" y="610.8" font-size="22.5" fill="#787878" textLength="71.5" lengthAdjust="spacingAndGlyphs">высота</text>
<text x="70.2" y="648.7" font-size="36.5" fill="#686868" textLength="94.3" lengthAdjust="spacingAndGlyphs">20 см</text>
<g stroke="#f5a340" stroke-width="1.4" fill="none" stroke-linecap="round"><line x1="50" y1="585" x2="50" y2="670"/><polyline points="46.2,588.5 50,584.8 53.8,588.5"/><polyline points="46.2,666.3 50,670 53.8,666.3"/></g>
<clipPath id="c1"><circle cx="318.6" cy="180.2" r="34.8"/></clipPath>
<g clip-path="url(#c1)"><rect x="282.6" y="144.2" width="72" height="72" fill="#f8f8f8"/><path d="M284.6,174.2 Q298.6,162.2 312.6,146.2 M288.6,194.2 Q312.6,174.2 336.6,150.2 M310.6,202.2 Q330.6,182.2 352.6,166.2 M288.6,160.2 Q308.6,180.2 326.6,202.2 M308.6,146.2 Q328.6,168.2 348.6,196.2" stroke="#ebebeb" stroke-width="1.6" fill="none"/><rect x="282.6" y="202.7" width="72" height="14" fill="#e4e4e4"/><rect x="282.6" y="202.2" width="72" height="1.3" fill="#cdcdcd"/><rect x="282.6" y="203.5" width="72" height="4" fill="#f0f0f0"/></g>
<circle cx="318.6" cy="180.2" r="34.8" fill="none" stroke="#f2a55a" stroke-width="1.4"/>
<clipPath id="c2"><circle cx="524.2" cy="117" r="34.6"/></clipPath>
<g clip-path="url(#c2)"><rect x="488.20000000000005" y="81" width="72" height="72" fill="#857560"/><path d="M488.20000000000005,81 L560.2,81 L560.2,121 Q534.2,109 514.2,109 Q498.20000000000005,107 488.20000000000005,115 Z" fill="#2a231b"/><path d="M488.20000000000005,109 Q514.2,97 560.2,111 L560.2,121 Q534.2,111 514.2,112 Q498.20000000000005,113 488.20000000000005,119 Z" fill="#4d3e2e"/><path d="M504.20000000000005,87 Q518.2,81 538.2,85 Q530.2,93 506.20000000000005,93 Z" fill="#35532f"/><circle cx="510.20000000000005" cy="90" r="1.4" fill="#d8dcd0"/><circle cx="541.2" cy="88" r="1.4" fill="#d8dcd0"/><path d="M488.20000000000005,127 L496.20000000000005,121 L500.20000000000005,133 L492.20000000000005,139 Z" fill="#3b342b"/><path d="M494.20000000000005,141 L544.2,119 M500.20000000000005,149 L554.2,125 M490.20000000000005,131 L530.2,115" stroke="#9a8b74" stroke-width="1.2" opacity="0.6"/><ellipse cx="550.2" cy="121.5" rx="11" ry="13" fill="#76654f"/><circle cx="547.7" cy="126.5" r="1.3" fill="#2e261c"/><circle cx="552.2" cy="125" r="1" fill="#2e261c"/><ellipse cx="530.0" cy="118.2" rx="13.5" ry="10" transform="rotate(-53.6 530.0 118.2)" fill="#4e3828"/><ellipse cx="529.2" cy="117.5" rx="12.3" ry="8.8" transform="rotate(-53.6 529.2 117.5)" fill="#fcfcfb"/><path d="M525.2,115 L535.2,122" stroke="#cfcfcf" stroke-width="0.6"/></g>
<circle cx="524.2" cy="117" r="34.6" fill="none" stroke="#f28a18" stroke-width="1.8"/>
<clipPath id="c3"><circle cx="734" cy="67.6" r="35"/></clipPath>
<g clip-path="url(#c3)"><rect x="698" y="31.599999999999994" width="72" height="72" fill="#a4a3a8" filter="url(#noiseFelt)"/><rect x="698" y="31.599999999999994" width="72" height="9" fill="#eef0ec"/><path d="M710,40.599999999999994 Q724,31.599999999999994 738,37.599999999999994 Q750,33.599999999999994 758,41.599999999999994 L758,43.599999999999994 L710,43.599999999999994 Z" fill="#5f7f4c"/><path d="M698,45.599999999999994 Q714,41.599999999999994 770,43.599999999999994 L770,47.599999999999994 L698,49.599999999999994 Z" fill="#b4b3b8"/><path d="M698,51.599999999999994 Q706,47.599999999999994 712,55.599999999999994 Q718,69.6 704,73.6 L698,73.6 Z" fill="#3a3a3f"/><path d="M698,69.6 Q728,69.6 770,63.599999999999994" stroke="#2c2c30" stroke-width="2.2" fill="none"/><path d="M698,76.6 Q724,73.6 754,75.6" stroke="#5d5d62" stroke-width="1.6" fill="none"/><path d="M708,87.6 Q724,81.6 742,87.6 Q750,93.6 746,107.6 L700,107.6 Q700,93.6 708,87.6 Z" fill="#4e4e54"/><path d="M738,68.6 Q750,61.599999999999994 764,59.599999999999994" stroke="#d8cfb4" stroke-width="2.4" fill="none"/><circle cx="751" cy="61.599999999999994" r="3.6" fill="#5b3fb0"/><circle cx="755" cy="65.1" r="2.8" fill="#4a35a2"/><circle cx="748" cy="66.1" r="2.4" fill="#6d4fc0"/><circle cx="759" cy="62.599999999999994" r="2" fill="#5a40ad"/></g>
<circle cx="734" cy="67.6" r="35" fill="none" stroke="#f28a18" stroke-width="1.8"/>
<clipPath id="c4"><circle cx="1074.8" cy="529.6" r="35"/></clipPath>
<g clip-path="url(#c4)"><rect x="1038.8" y="493.6" width="72" height="72" fill="#f2f2f2"/><rect x="1038.8" y="493.6" width="72" height="15" fill="#7e5a42"/><rect x="1038.8" y="508.1" width="72" height="2.2" fill="#2f2f33"/><rect x="1038.8" y="510.3" width="72" height="26" fill="#ededed"/><ellipse cx="1052.8" cy="515.6" rx="10" ry="3.2" transform="rotate(-12 1052.8 515.6)" fill="none" stroke="#7d7d82" stroke-width="1.2"/><ellipse cx="1052.8" cy="521.6" rx="7" ry="3.2" transform="rotate(14 1052.8 521.6)" fill="none" stroke="#7d7d82" stroke-width="1.2"/><ellipse cx="1052.8" cy="527.6" rx="6" ry="3.2" transform="rotate(-14 1052.8 527.6)" fill="none" stroke="#7d7d82" stroke-width="1.2"/><ellipse cx="1052.8" cy="533.6" rx="9" ry="3.2" transform="rotate(12 1052.8 533.6)" fill="none" stroke="#7d7d82" stroke-width="1.2"/><ellipse cx="1074.8" cy="515.6" rx="10" ry="3.2" transform="rotate(-12 1074.8 515.6)" fill="none" stroke="#7d7d82" stroke-width="1.2"/><ellipse cx="1074.8" cy="521.6" rx="7" ry="3.2" transform="rotate(14 1074.8 521.6)" fill="none" stroke="#7d7d82" stroke-width="1.2"/><ellipse cx="1074.8" cy="527.6" rx="6" ry="3.2" transform="rotate(-14 1074.8 527.6)" fill="none" stroke="#7d7d82" stroke-width="1.2"/><ellipse cx="1074.8" cy="533.6" rx="9" ry="3.2" transform="rotate(12 1074.8 533.6)" fill="none" stroke="#7d7d82" stroke-width="1.2"/><ellipse cx="1096.8" cy="515.6" rx="10" ry="3.2" transform="rotate(-12 1096.8 515.6)" fill="none" stroke="#7d7d82" stroke-width="1.2"/><ellipse cx="1096.8" cy="521.6" rx="7" ry="3.2" transform="rotate(14 1096.8 521.6)" fill="none" stroke="#7d7d82" stroke-width="1.2"/><ellipse cx="1096.8" cy="527.6" rx="6" ry="3.2" transform="rotate(-14 1096.8 527.6)" fill="none" stroke="#7d7d82" stroke-width="1.2"/><ellipse cx="1096.8" cy="533.6" rx="9" ry="3.2" transform="rotate(12 1096.8 533.6)" fill="none" stroke="#7d7d82" stroke-width="1.2"/><rect x="1038.8" y="536.1" width="72" height="1.6" fill="#8a95c8"/><rect x="1038.8" y="537.6" width="72" height="13.5" fill="#6e6864"/><rect x="1038.8" y="551.1" width="72" height="15" fill="#f6f6f6"/><rect x="1038.8" y="550.6" width="72" height="1.2" fill="#c8c8c8"/></g>
<circle cx="1074.8" cy="529.6" r="35" fill="none" stroke="#f28a18" stroke-width="1.8"/>
<clipPath id="c5"><circle cx="859" cy="622.7" r="34.8"/></clipPath>
<g clip-path="url(#c5)"><rect x="823" y="586.7" width="72" height="72" fill="#f3f3f5"/><path d="M823,619.7 L838.7,622.9000000000001 L838.7,632.5 L849.9,636.5 L861.8,658.7 L823,658.7 Z" fill="#675b50"/><path d="M838.7,632.5 L895,640.7 L895,658.7 L861.8,658.7 L849.9,636.5 Z" fill="#ececee"/><path d="M846,586.7 L895,586.7 L895,640.7 L838.7,632.5 Z" fill="#efeff1"/><path d="M846,586.7 L838.7,632.5 L895,640.7" stroke="#d4d4d8" stroke-width="1.1" fill="none"/></g>
<circle cx="859" cy="622.7" r="34.8" fill="none" stroke="#f28a18" stroke-width="1.8"/>
</svg>
</body></html>
